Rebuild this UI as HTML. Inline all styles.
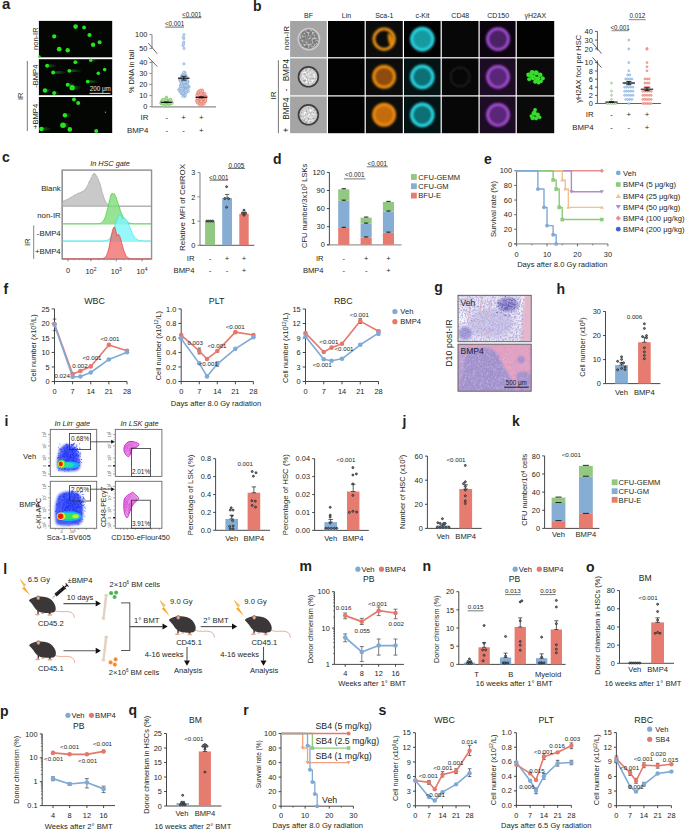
<!DOCTYPE html>
<html><head><meta charset="utf-8"><title>Figure</title>
<style>html,body{margin:0;padding:0;background:#fff;width:685px;height:830px;overflow:hidden}svg{display:block}text{font-family:"Liberation Sans",sans-serif}</style>
</head><body>
<svg width="685" height="830" viewBox="0 0 685 830" font-family="&quot;Liberation Sans&quot;, sans-serif">
<rect x="0" y="0" width="685" height="830" fill="#fff"/>
<defs>
<filter id="glow" x="-50%" y="-50%" width="200%" height="200%"><feGaussianBlur stdDeviation="0.6"/></filter>
<filter id="soft" x="-30%" y="-30%" width="160%" height="160%"><feGaussianBlur stdDeviation="0.55"/></filter>
<filter id="soft2" x="-30%" y="-30%" width="160%" height="160%"><feGaussianBlur stdDeviation="0.9"/></filter>
<filter id="speckA" x="0" y="0" width="100%" height="100%"><feTurbulence type="fractalNoise" baseFrequency="0.55" numOctaves="2" seed="5"/><feColorMatrix type="matrix" values="0 0 0 0 0.47  0 0 0 0 0.44  0 0 0 0 0.78  5 0 0 0 -2.25"/></filter>
<filter id="speckB" x="0" y="0" width="100%" height="100%"><feTurbulence type="fractalNoise" baseFrequency="0.5" numOctaves="2" seed="9"/><feColorMatrix type="matrix" values="0 0 0 0 0.93  0 0 0 0 0.88  0 0 0 0 0.97  5 0 0 0 -2.6"/></filter>
<filter id="speckC" x="0" y="0" width="100%" height="100%"><feTurbulence type="fractalNoise" baseFrequency="0.45" numOctaves="2" seed="13"/><feColorMatrix type="matrix" values="0 0 0 0 0.50  0 0 0 0 0.42  0 0 0 0 0.76  5 0 0 0 -2.4"/></filter>
<filter id="texDk" x="0" y="0" width="100%" height="100%"><feTurbulence type="fractalNoise" baseFrequency="0.5" numOctaves="2" seed="2" result="n"/><feColorMatrix in="n" type="matrix" values="0 0 0 0 0.18  0 0 0 0 0.18  0 0 0 0 0.18  5 0 0 0 -2.3" result="dk"/><feComposite in="dk" in2="SourceGraphic" operator="in"/><feGaussianBlur stdDeviation="0.35"/></filter>
<filter id="texLt" x="0" y="0" width="100%" height="100%"><feTurbulence type="fractalNoise" baseFrequency="0.5" numOctaves="2" seed="7" result="n"/><feColorMatrix in="n" type="matrix" values="0 0 0 0 0.95  0 0 0 0 0.95  0 0 0 0 0.95  5 0 0 0 -2.4" result="lt"/><feComposite in="lt" in2="SourceGraphic" operator="in"/><feGaussianBlur stdDeviation="0.35"/></filter>
<linearGradient id="tailg" x1="0" y1="0" x2="1" y2="0"><stop offset="0" stop-color="#2a9a26" stop-opacity="0.7"/><stop offset="1" stop-color="#2a9a26" stop-opacity="0"/></linearGradient>
<filter id="blur1" x="-30%" y="-30%" width="160%" height="160%"><feGaussianBlur stdDeviation="1.0"/></filter>
<filter id="blur2" x="-30%" y="-30%" width="160%" height="160%"><feGaussianBlur stdDeviation="1.6"/></filter>
</defs>
<text x="2.00" y="8.90" font-size="15" text-anchor="start" fill="#231f20" font-weight="bold">a</text>
<rect x="38.90" y="20.90" width="73.30" height="36.40" fill="#030603" />
<rect x="38.90" y="59.20" width="73.30" height="36.00" fill="#030603" />
<rect x="38.90" y="97.00" width="73.30" height="36.00" fill="#030603" />
<g filter="url(#glow)">
<circle cx="75.60" cy="26.60" r="2.30" fill="#22e61e" />
<circle cx="84.10" cy="27.50" r="1.90" fill="#22e61e" />
<circle cx="54.20" cy="36.40" r="2.10" fill="#22e61e" />
<circle cx="89.50" cy="35.00" r="2.10" fill="#22e61e" />
<circle cx="99.60" cy="42.20" r="2.00" fill="#22e61e" />
<circle cx="93.10" cy="44.80" r="2.20" fill="#22e61e" />
<circle cx="59.20" cy="49.20" r="2.40" fill="#22e61e" />
<circle cx="67.70" cy="50.20" r="2.20" fill="#22e61e" />
<circle cx="39.50" cy="56.50" r="1.20" fill="#22e61e" />
<ellipse cx="51.60" cy="65.80" rx="5.50" ry="1.50" fill="url(#tailg)"/>
<circle cx="47.10" cy="65.80" r="2.00" fill="#22e61e" />
<ellipse cx="77.55" cy="62.20" rx="3.25" ry="1.42" fill="url(#tailg)"/>
<circle cx="75.30" cy="62.20" r="1.90" fill="#22e61e" />
<ellipse cx="93.70" cy="60.30" rx="4.00" ry="1.27" fill="url(#tailg)"/>
<circle cx="90.70" cy="60.30" r="1.70" fill="#22e61e" />
<ellipse cx="59.85" cy="72.50" rx="7.75" ry="1.50" fill="url(#tailg)"/>
<circle cx="53.10" cy="72.50" r="2.00" fill="#22e61e" />
<ellipse cx="75.30" cy="70.80" rx="7.00" ry="1.42" fill="url(#tailg)"/>
<circle cx="69.30" cy="70.80" r="1.90" fill="#22e61e" />
<circle cx="98.30" cy="73.20" r="1.80" fill="#22e61e" />
<circle cx="104.70" cy="69.60" r="1.80" fill="#22e61e" />
<ellipse cx="92.95" cy="81.60" rx="6.25" ry="1.42" fill="url(#tailg)"/>
<circle cx="87.70" cy="81.60" r="1.90" fill="#22e61e" />
<ellipse cx="71.45" cy="84.80" rx="4.75" ry="1.50" fill="url(#tailg)"/>
<circle cx="67.70" cy="84.80" r="2.00" fill="#22e61e" />
<ellipse cx="76.60" cy="87.70" rx="5.50" ry="1.95" fill="url(#tailg)"/>
<circle cx="72.10" cy="87.70" r="2.60" fill="#22e61e" />
<ellipse cx="48.00" cy="90.50" rx="4.00" ry="1.65" fill="url(#tailg)"/>
<circle cx="45.00" cy="90.50" r="2.20" fill="#22e61e" />
<ellipse cx="56.35" cy="93.00" rx="3.25" ry="1.50" fill="url(#tailg)"/>
<circle cx="54.10" cy="93.00" r="2.00" fill="#22e61e" />
<circle cx="74.00" cy="99.60" r="2.00" fill="#22e61e" />
<circle cx="78.20" cy="103.00" r="2.00" fill="#22e61e" />
<ellipse cx="67.90" cy="115.20" rx="4.00" ry="1.65" fill="url(#tailg)"/>
<circle cx="64.90" cy="115.20" r="2.20" fill="#22e61e" />
<ellipse cx="66.00" cy="125.20" rx="4.00" ry="2.10" fill="url(#tailg)"/>
<circle cx="63.00" cy="125.20" r="2.80" fill="#22e61e" />
<circle cx="69.80" cy="129.40" r="2.30" fill="#22e61e" />
<ellipse cx="45.90" cy="129.00" rx="5.50" ry="1.72" fill="url(#tailg)"/>
<circle cx="41.40" cy="129.00" r="2.30" fill="#22e61e" />
<circle cx="96.20" cy="130.90" r="2.00" fill="#22e61e" />
<circle cx="105.50" cy="112.30" r="0.70" fill="#22e61e" />
</g>
<text x="100.30" y="90.84" font-size="6.3" text-anchor="middle" fill="#e8e8e8">200 μm</text>
<line x1="89.50" y1="93.40" x2="110.50" y2="93.40" stroke="#f0f0f0" stroke-width="0.9" />
<text x="34.90" y="41.36" font-size="7.5" text-anchor="middle" fill="#231f20" transform="rotate(-90 34.90 38.70)">non-IR</text>
<text x="34.90" y="78.90" font-size="7.6" text-anchor="middle" fill="#231f20" transform="rotate(-90 34.90 76.20)">-BMP4</text>
<text x="34.90" y="119.10" font-size="7.6" text-anchor="middle" fill="#231f20" transform="rotate(-90 34.90 116.40)">+BMP4</text>
<text x="20.00" y="98.96" font-size="7.5" text-anchor="middle" fill="#231f20" transform="rotate(-90 20.00 96.30)">IR</text>
<line x1="27.30" y1="60.90" x2="27.30" y2="131.00" stroke="#555" stroke-width="0.8" />
<line x1="152.00" y1="34.60" x2="152.00" y2="48.50" stroke="#8c8c8c" stroke-width="1.1" />
<line x1="152.00" y1="61.00" x2="152.00" y2="106.90" stroke="#8c8c8c" stroke-width="1.1" />
<line x1="151.50" y1="106.90" x2="216.10" y2="106.90" stroke="#8c8c8c" stroke-width="1.1" />
<line x1="149.40" y1="106.70" x2="152.00" y2="106.70" stroke="#8c8c8c" stroke-width="1.0" />
<text x="147.40" y="109.33" font-size="7.4" text-anchor="end" fill="#231f20">0</text>
<line x1="149.40" y1="95.60" x2="152.00" y2="95.60" stroke="#8c8c8c" stroke-width="1.0" />
<text x="147.40" y="98.23" font-size="7.4" text-anchor="end" fill="#231f20">10</text>
<line x1="149.40" y1="84.30" x2="152.00" y2="84.30" stroke="#8c8c8c" stroke-width="1.0" />
<text x="147.40" y="86.93" font-size="7.4" text-anchor="end" fill="#231f20">20</text>
<line x1="149.40" y1="73.40" x2="152.00" y2="73.40" stroke="#8c8c8c" stroke-width="1.0" />
<text x="147.40" y="76.03" font-size="7.4" text-anchor="end" fill="#231f20">30</text>
<line x1="149.40" y1="62.40" x2="152.00" y2="62.40" stroke="#8c8c8c" stroke-width="1.0" />
<text x="147.40" y="65.03" font-size="7.4" text-anchor="end" fill="#231f20">40</text>
<line x1="149.40" y1="48.60" x2="152.00" y2="48.60" stroke="#8c8c8c" stroke-width="1.0" />
<text x="147.40" y="51.23" font-size="7.4" text-anchor="end" fill="#231f20">50</text>
<line x1="149.40" y1="34.60" x2="152.00" y2="34.60" stroke="#8c8c8c" stroke-width="1.0" />
<text x="147.40" y="37.23" font-size="7.4" text-anchor="end" fill="#231f20">100</text>
<line x1="148.30" y1="43.20" x2="157.30" y2="53.80" stroke="#444" stroke-width="0.8" />
<line x1="148.30" y1="57.30" x2="157.30" y2="66.60" stroke="#444" stroke-width="0.8" />
<text x="131.00" y="74.13" font-size="7.4" text-anchor="middle" fill="#231f20" transform="rotate(-90 131.00 71.50)">% DNA in tail</text>
<circle cx="166.99" cy="103.86" r="1.20" fill="#c4e6b8" stroke="#7cc36a" stroke-width="0.55" />
<circle cx="167.73" cy="103.15" r="1.20" fill="#c4e6b8" stroke="#7cc36a" stroke-width="0.55" />
<circle cx="161.99" cy="101.67" r="1.20" fill="#c4e6b8" stroke="#7cc36a" stroke-width="0.55" />
<circle cx="168.31" cy="106.01" r="1.20" fill="#c4e6b8" stroke="#7cc36a" stroke-width="0.55" />
<circle cx="163.51" cy="103.73" r="1.20" fill="#c4e6b8" stroke="#7cc36a" stroke-width="0.55" />
<circle cx="166.40" cy="97.20" r="1.20" fill="#c4e6b8" stroke="#7cc36a" stroke-width="0.55" />
<circle cx="166.30" cy="99.97" r="1.20" fill="#c4e6b8" stroke="#7cc36a" stroke-width="0.55" />
<circle cx="162.90" cy="101.58" r="1.20" fill="#c4e6b8" stroke="#7cc36a" stroke-width="0.55" />
<circle cx="170.30" cy="101.60" r="1.20" fill="#c4e6b8" stroke="#7cc36a" stroke-width="0.55" />
<circle cx="169.16" cy="102.31" r="1.20" fill="#c4e6b8" stroke="#7cc36a" stroke-width="0.55" />
<circle cx="162.12" cy="101.35" r="1.20" fill="#c4e6b8" stroke="#7cc36a" stroke-width="0.55" />
<circle cx="167.35" cy="100.68" r="1.20" fill="#c4e6b8" stroke="#7cc36a" stroke-width="0.55" />
<circle cx="161.01" cy="103.50" r="1.20" fill="#c4e6b8" stroke="#7cc36a" stroke-width="0.55" />
<circle cx="166.28" cy="99.66" r="1.20" fill="#c4e6b8" stroke="#7cc36a" stroke-width="0.55" />
<circle cx="170.16" cy="101.00" r="1.20" fill="#c4e6b8" stroke="#7cc36a" stroke-width="0.55" />
<circle cx="170.59" cy="101.04" r="1.20" fill="#c4e6b8" stroke="#7cc36a" stroke-width="0.55" />
<circle cx="170.02" cy="103.02" r="1.20" fill="#c4e6b8" stroke="#7cc36a" stroke-width="0.55" />
<circle cx="171.49" cy="102.76" r="1.20" fill="#c4e6b8" stroke="#7cc36a" stroke-width="0.55" />
<circle cx="163.35" cy="99.51" r="1.20" fill="#c4e6b8" stroke="#7cc36a" stroke-width="0.55" />
<circle cx="163.79" cy="104.55" r="1.20" fill="#c4e6b8" stroke="#7cc36a" stroke-width="0.55" />
<circle cx="166.13" cy="98.18" r="1.20" fill="#c4e6b8" stroke="#7cc36a" stroke-width="0.55" />
<circle cx="164.43" cy="101.66" r="1.20" fill="#c4e6b8" stroke="#7cc36a" stroke-width="0.55" />
<circle cx="165.23" cy="102.40" r="1.20" fill="#c4e6b8" stroke="#7cc36a" stroke-width="0.55" />
<circle cx="167.51" cy="103.25" r="1.20" fill="#c4e6b8" stroke="#7cc36a" stroke-width="0.55" />
<circle cx="170.81" cy="101.94" r="1.20" fill="#c4e6b8" stroke="#7cc36a" stroke-width="0.55" />
<circle cx="170.78" cy="101.28" r="1.20" fill="#c4e6b8" stroke="#7cc36a" stroke-width="0.55" />
<circle cx="170.51" cy="99.76" r="1.20" fill="#c4e6b8" stroke="#7cc36a" stroke-width="0.55" />
<circle cx="163.11" cy="101.35" r="1.20" fill="#c4e6b8" stroke="#7cc36a" stroke-width="0.55" />
<circle cx="170.27" cy="99.72" r="1.20" fill="#c4e6b8" stroke="#7cc36a" stroke-width="0.55" />
<circle cx="167.01" cy="99.19" r="1.20" fill="#c4e6b8" stroke="#7cc36a" stroke-width="0.55" />
<circle cx="163.69" cy="101.04" r="1.20" fill="#c4e6b8" stroke="#7cc36a" stroke-width="0.55" />
<circle cx="167.13" cy="100.02" r="1.20" fill="#c4e6b8" stroke="#7cc36a" stroke-width="0.55" />
<circle cx="161.46" cy="103.59" r="1.20" fill="#c4e6b8" stroke="#7cc36a" stroke-width="0.55" />
<circle cx="170.52" cy="99.79" r="1.20" fill="#c4e6b8" stroke="#7cc36a" stroke-width="0.55" />
<circle cx="169.09" cy="104.96" r="1.20" fill="#c4e6b8" stroke="#7cc36a" stroke-width="0.55" />
<circle cx="162.44" cy="102.94" r="1.20" fill="#c4e6b8" stroke="#7cc36a" stroke-width="0.55" />
<circle cx="169.63" cy="103.54" r="1.20" fill="#c4e6b8" stroke="#7cc36a" stroke-width="0.55" />
<circle cx="162.88" cy="99.58" r="1.20" fill="#c4e6b8" stroke="#7cc36a" stroke-width="0.55" />
<circle cx="161.74" cy="101.74" r="1.20" fill="#c4e6b8" stroke="#7cc36a" stroke-width="0.55" />
<circle cx="164.86" cy="101.00" r="1.20" fill="#c4e6b8" stroke="#7cc36a" stroke-width="0.55" />
<circle cx="170.25" cy="99.49" r="1.20" fill="#c4e6b8" stroke="#7cc36a" stroke-width="0.55" />
<circle cx="172.05" cy="102.41" r="1.20" fill="#c4e6b8" stroke="#7cc36a" stroke-width="0.55" />
<circle cx="161.52" cy="103.46" r="1.20" fill="#c4e6b8" stroke="#7cc36a" stroke-width="0.55" />
<circle cx="161.55" cy="101.84" r="1.20" fill="#c4e6b8" stroke="#7cc36a" stroke-width="0.55" />
<circle cx="165.53" cy="104.11" r="1.20" fill="#c4e6b8" stroke="#7cc36a" stroke-width="0.55" />
<circle cx="162.89" cy="101.77" r="1.20" fill="#c4e6b8" stroke="#7cc36a" stroke-width="0.55" />
<circle cx="169.14" cy="105.49" r="1.20" fill="#c4e6b8" stroke="#7cc36a" stroke-width="0.55" />
<circle cx="171.92" cy="103.44" r="1.20" fill="#c4e6b8" stroke="#7cc36a" stroke-width="0.55" />
<circle cx="165.58" cy="99.29" r="1.20" fill="#c4e6b8" stroke="#7cc36a" stroke-width="0.55" />
<circle cx="166.73" cy="102.67" r="1.20" fill="#c4e6b8" stroke="#7cc36a" stroke-width="0.55" />
<circle cx="167.48" cy="101.54" r="1.20" fill="#c4e6b8" stroke="#7cc36a" stroke-width="0.55" />
<circle cx="167.80" cy="102.09" r="1.20" fill="#c4e6b8" stroke="#7cc36a" stroke-width="0.55" />
<circle cx="166.55" cy="98.66" r="1.20" fill="#c4e6b8" stroke="#7cc36a" stroke-width="0.55" />
<circle cx="169.04" cy="102.83" r="1.20" fill="#c4e6b8" stroke="#7cc36a" stroke-width="0.55" />
<circle cx="164.31" cy="103.86" r="1.20" fill="#c4e6b8" stroke="#7cc36a" stroke-width="0.55" />
<circle cx="166.61" cy="97.88" r="1.20" fill="#c4e6b8" stroke="#7cc36a" stroke-width="0.55" />
<circle cx="161.18" cy="102.16" r="1.20" fill="#c4e6b8" stroke="#7cc36a" stroke-width="0.55" />
<circle cx="167.43" cy="102.92" r="1.20" fill="#c4e6b8" stroke="#7cc36a" stroke-width="0.55" />
<circle cx="167.19" cy="105.86" r="1.20" fill="#c4e6b8" stroke="#7cc36a" stroke-width="0.55" />
<circle cx="161.95" cy="101.62" r="1.20" fill="#c4e6b8" stroke="#7cc36a" stroke-width="0.55" />
<circle cx="166.15" cy="101.66" r="1.20" fill="#c4e6b8" stroke="#7cc36a" stroke-width="0.55" />
<circle cx="165.03" cy="101.29" r="1.20" fill="#c4e6b8" stroke="#7cc36a" stroke-width="0.55" />
<circle cx="168.83" cy="101.09" r="1.20" fill="#c4e6b8" stroke="#7cc36a" stroke-width="0.55" />
<circle cx="163.82" cy="105.82" r="1.20" fill="#c4e6b8" stroke="#7cc36a" stroke-width="0.55" />
<circle cx="171.14" cy="101.32" r="1.20" fill="#c4e6b8" stroke="#7cc36a" stroke-width="0.55" />
<circle cx="166.01" cy="103.78" r="1.20" fill="#c4e6b8" stroke="#7cc36a" stroke-width="0.55" />
<circle cx="164.59" cy="101.88" r="1.20" fill="#c4e6b8" stroke="#7cc36a" stroke-width="0.55" />
<circle cx="164.28" cy="103.18" r="1.20" fill="#c4e6b8" stroke="#7cc36a" stroke-width="0.55" />
<circle cx="167.63" cy="103.16" r="1.20" fill="#c4e6b8" stroke="#7cc36a" stroke-width="0.55" />
<circle cx="165.06" cy="103.51" r="1.20" fill="#c4e6b8" stroke="#7cc36a" stroke-width="0.55" />
<circle cx="162.16" cy="100.57" r="1.20" fill="#c4e6b8" stroke="#7cc36a" stroke-width="0.55" />
<circle cx="169.03" cy="102.03" r="1.20" fill="#c4e6b8" stroke="#7cc36a" stroke-width="0.55" />
<circle cx="163.23" cy="103.46" r="1.20" fill="#c4e6b8" stroke="#7cc36a" stroke-width="0.55" />
<circle cx="164.19" cy="100.29" r="1.20" fill="#c4e6b8" stroke="#7cc36a" stroke-width="0.55" />
<circle cx="165.83" cy="104.18" r="1.20" fill="#c4e6b8" stroke="#7cc36a" stroke-width="0.55" />
<circle cx="162.58" cy="101.16" r="1.20" fill="#c4e6b8" stroke="#7cc36a" stroke-width="0.55" />
<circle cx="164.52" cy="103.40" r="1.20" fill="#c4e6b8" stroke="#7cc36a" stroke-width="0.55" />
<circle cx="165.98" cy="100.00" r="1.20" fill="#c4e6b8" stroke="#7cc36a" stroke-width="0.55" />
<circle cx="163.79" cy="99.77" r="1.20" fill="#c4e6b8" stroke="#7cc36a" stroke-width="0.55" />
<circle cx="168.30" cy="103.32" r="1.20" fill="#c4e6b8" stroke="#7cc36a" stroke-width="0.55" />
<circle cx="183.51" cy="76.68" r="1.20" fill="#cbdcf0" stroke="#7ba7d6" stroke-width="0.55" />
<circle cx="179.79" cy="89.83" r="1.20" fill="#cbdcf0" stroke="#7ba7d6" stroke-width="0.55" />
<circle cx="180.62" cy="85.02" r="1.20" fill="#cbdcf0" stroke="#7ba7d6" stroke-width="0.55" />
<circle cx="186.24" cy="79.10" r="1.20" fill="#cbdcf0" stroke="#7ba7d6" stroke-width="0.55" />
<circle cx="181.64" cy="90.57" r="1.20" fill="#cbdcf0" stroke="#7ba7d6" stroke-width="0.55" />
<circle cx="184.82" cy="79.09" r="1.20" fill="#cbdcf0" stroke="#7ba7d6" stroke-width="0.55" />
<circle cx="182.68" cy="79.11" r="1.20" fill="#cbdcf0" stroke="#7ba7d6" stroke-width="0.55" />
<circle cx="182.03" cy="91.67" r="1.20" fill="#cbdcf0" stroke="#7ba7d6" stroke-width="0.55" />
<circle cx="182.11" cy="79.45" r="1.20" fill="#cbdcf0" stroke="#7ba7d6" stroke-width="0.55" />
<circle cx="182.83" cy="87.98" r="1.20" fill="#cbdcf0" stroke="#7ba7d6" stroke-width="0.55" />
<circle cx="182.79" cy="86.85" r="1.20" fill="#cbdcf0" stroke="#7ba7d6" stroke-width="0.55" />
<circle cx="182.06" cy="75.30" r="1.20" fill="#cbdcf0" stroke="#7ba7d6" stroke-width="0.55" />
<circle cx="184.86" cy="96.35" r="1.20" fill="#cbdcf0" stroke="#7ba7d6" stroke-width="0.55" />
<circle cx="186.70" cy="76.86" r="1.20" fill="#cbdcf0" stroke="#7ba7d6" stroke-width="0.55" />
<circle cx="188.78" cy="86.62" r="1.20" fill="#cbdcf0" stroke="#7ba7d6" stroke-width="0.55" />
<circle cx="182.45" cy="75.00" r="1.20" fill="#cbdcf0" stroke="#7ba7d6" stroke-width="0.55" />
<circle cx="186.51" cy="80.66" r="1.20" fill="#cbdcf0" stroke="#7ba7d6" stroke-width="0.55" />
<circle cx="183.97" cy="82.49" r="1.20" fill="#cbdcf0" stroke="#7ba7d6" stroke-width="0.55" />
<circle cx="181.94" cy="88.82" r="1.20" fill="#cbdcf0" stroke="#7ba7d6" stroke-width="0.55" />
<circle cx="179.21" cy="89.79" r="1.20" fill="#cbdcf0" stroke="#7ba7d6" stroke-width="0.55" />
<circle cx="181.72" cy="83.95" r="1.20" fill="#cbdcf0" stroke="#7ba7d6" stroke-width="0.55" />
<circle cx="180.55" cy="79.00" r="1.20" fill="#cbdcf0" stroke="#7ba7d6" stroke-width="0.55" />
<circle cx="184.86" cy="75.99" r="1.20" fill="#cbdcf0" stroke="#7ba7d6" stroke-width="0.55" />
<circle cx="185.77" cy="75.16" r="1.20" fill="#cbdcf0" stroke="#7ba7d6" stroke-width="0.55" />
<circle cx="184.23" cy="76.14" r="1.20" fill="#cbdcf0" stroke="#7ba7d6" stroke-width="0.55" />
<circle cx="184.63" cy="95.60" r="1.20" fill="#cbdcf0" stroke="#7ba7d6" stroke-width="0.55" />
<circle cx="181.90" cy="90.79" r="1.20" fill="#cbdcf0" stroke="#7ba7d6" stroke-width="0.55" />
<circle cx="184.02" cy="82.49" r="1.20" fill="#cbdcf0" stroke="#7ba7d6" stroke-width="0.55" />
<circle cx="188.73" cy="86.95" r="1.20" fill="#cbdcf0" stroke="#7ba7d6" stroke-width="0.55" />
<circle cx="182.29" cy="83.51" r="1.20" fill="#cbdcf0" stroke="#7ba7d6" stroke-width="0.55" />
<circle cx="187.81" cy="89.38" r="1.20" fill="#cbdcf0" stroke="#7ba7d6" stroke-width="0.55" />
<circle cx="186.83" cy="85.92" r="1.20" fill="#cbdcf0" stroke="#7ba7d6" stroke-width="0.55" />
<circle cx="180.26" cy="87.89" r="1.20" fill="#cbdcf0" stroke="#7ba7d6" stroke-width="0.55" />
<circle cx="187.04" cy="84.94" r="1.20" fill="#cbdcf0" stroke="#7ba7d6" stroke-width="0.55" />
<circle cx="186.57" cy="90.80" r="1.20" fill="#cbdcf0" stroke="#7ba7d6" stroke-width="0.55" />
<circle cx="185.34" cy="75.25" r="1.20" fill="#cbdcf0" stroke="#7ba7d6" stroke-width="0.55" />
<circle cx="180.38" cy="78.63" r="1.20" fill="#cbdcf0" stroke="#7ba7d6" stroke-width="0.55" />
<circle cx="187.19" cy="83.19" r="1.20" fill="#cbdcf0" stroke="#7ba7d6" stroke-width="0.55" />
<circle cx="182.47" cy="93.86" r="1.20" fill="#cbdcf0" stroke="#7ba7d6" stroke-width="0.55" />
<circle cx="184.11" cy="89.13" r="1.20" fill="#cbdcf0" stroke="#7ba7d6" stroke-width="0.55" />
<circle cx="183.50" cy="86.80" r="1.20" fill="#cbdcf0" stroke="#7ba7d6" stroke-width="0.55" />
<circle cx="180.00" cy="79.90" r="1.20" fill="#cbdcf0" stroke="#7ba7d6" stroke-width="0.55" />
<circle cx="181.55" cy="93.69" r="1.20" fill="#cbdcf0" stroke="#7ba7d6" stroke-width="0.55" />
<circle cx="180.19" cy="91.78" r="1.20" fill="#cbdcf0" stroke="#7ba7d6" stroke-width="0.55" />
<circle cx="184.93" cy="72.35" r="1.20" fill="#cbdcf0" stroke="#7ba7d6" stroke-width="0.55" />
<circle cx="183.82" cy="92.74" r="1.20" fill="#cbdcf0" stroke="#7ba7d6" stroke-width="0.55" />
<circle cx="181.59" cy="88.42" r="1.20" fill="#cbdcf0" stroke="#7ba7d6" stroke-width="0.55" />
<circle cx="185.52" cy="87.90" r="1.20" fill="#cbdcf0" stroke="#7ba7d6" stroke-width="0.55" />
<circle cx="182.44" cy="83.99" r="1.20" fill="#cbdcf0" stroke="#7ba7d6" stroke-width="0.55" />
<circle cx="182.10" cy="90.43" r="1.20" fill="#cbdcf0" stroke="#7ba7d6" stroke-width="0.55" />
<circle cx="184.26" cy="91.80" r="1.20" fill="#cbdcf0" stroke="#7ba7d6" stroke-width="0.55" />
<circle cx="182.79" cy="81.34" r="1.20" fill="#cbdcf0" stroke="#7ba7d6" stroke-width="0.55" />
<circle cx="181.55" cy="92.91" r="1.20" fill="#cbdcf0" stroke="#7ba7d6" stroke-width="0.55" />
<circle cx="185.00" cy="87.57" r="1.20" fill="#cbdcf0" stroke="#7ba7d6" stroke-width="0.55" />
<circle cx="182.90" cy="79.74" r="1.20" fill="#cbdcf0" stroke="#7ba7d6" stroke-width="0.55" />
<circle cx="184.70" cy="79.25" r="1.20" fill="#cbdcf0" stroke="#7ba7d6" stroke-width="0.55" />
<circle cx="182.39" cy="86.66" r="1.20" fill="#cbdcf0" stroke="#7ba7d6" stroke-width="0.55" />
<circle cx="185.94" cy="85.60" r="1.20" fill="#cbdcf0" stroke="#7ba7d6" stroke-width="0.55" />
<circle cx="185.97" cy="86.84" r="1.20" fill="#cbdcf0" stroke="#7ba7d6" stroke-width="0.55" />
<circle cx="181.03" cy="86.19" r="1.20" fill="#cbdcf0" stroke="#7ba7d6" stroke-width="0.55" />
<circle cx="185.80" cy="84.92" r="1.20" fill="#cbdcf0" stroke="#7ba7d6" stroke-width="0.55" />
<circle cx="183.30" cy="93.15" r="1.20" fill="#cbdcf0" stroke="#7ba7d6" stroke-width="0.55" />
<circle cx="188.03" cy="86.75" r="1.20" fill="#cbdcf0" stroke="#7ba7d6" stroke-width="0.55" />
<circle cx="183.22" cy="74.58" r="1.20" fill="#cbdcf0" stroke="#7ba7d6" stroke-width="0.55" />
<circle cx="185.42" cy="76.21" r="1.20" fill="#cbdcf0" stroke="#7ba7d6" stroke-width="0.55" />
<circle cx="183.40" cy="89.23" r="1.20" fill="#cbdcf0" stroke="#7ba7d6" stroke-width="0.55" />
<circle cx="186.41" cy="91.81" r="1.20" fill="#cbdcf0" stroke="#7ba7d6" stroke-width="0.55" />
<circle cx="187.29" cy="82.50" r="1.20" fill="#cbdcf0" stroke="#7ba7d6" stroke-width="0.55" />
<circle cx="185.04" cy="79.48" r="1.20" fill="#cbdcf0" stroke="#7ba7d6" stroke-width="0.55" />
<circle cx="184.32" cy="80.94" r="1.20" fill="#cbdcf0" stroke="#7ba7d6" stroke-width="0.55" />
<circle cx="184.48" cy="92.29" r="1.20" fill="#cbdcf0" stroke="#7ba7d6" stroke-width="0.55" />
<circle cx="182.94" cy="96.32" r="1.20" fill="#cbdcf0" stroke="#7ba7d6" stroke-width="0.55" />
<circle cx="180.31" cy="79.95" r="1.20" fill="#cbdcf0" stroke="#7ba7d6" stroke-width="0.55" />
<circle cx="180.84" cy="92.58" r="1.20" fill="#cbdcf0" stroke="#7ba7d6" stroke-width="0.55" />
<circle cx="181.89" cy="76.84" r="1.20" fill="#cbdcf0" stroke="#7ba7d6" stroke-width="0.55" />
<circle cx="185.26" cy="94.98" r="1.20" fill="#cbdcf0" stroke="#7ba7d6" stroke-width="0.55" />
<circle cx="186.64" cy="91.86" r="1.20" fill="#cbdcf0" stroke="#7ba7d6" stroke-width="0.55" />
<circle cx="186.79" cy="82.27" r="1.20" fill="#cbdcf0" stroke="#7ba7d6" stroke-width="0.55" />
<circle cx="184.13" cy="73.77" r="1.20" fill="#cbdcf0" stroke="#7ba7d6" stroke-width="0.55" />
<circle cx="180.41" cy="79.32" r="1.20" fill="#cbdcf0" stroke="#7ba7d6" stroke-width="0.55" />
<circle cx="183.89" cy="80.13" r="1.20" fill="#cbdcf0" stroke="#7ba7d6" stroke-width="0.55" />
<circle cx="180.49" cy="81.36" r="1.20" fill="#cbdcf0" stroke="#7ba7d6" stroke-width="0.55" />
<circle cx="187.28" cy="80.58" r="1.20" fill="#cbdcf0" stroke="#7ba7d6" stroke-width="0.55" />
<circle cx="182.69" cy="93.48" r="1.20" fill="#cbdcf0" stroke="#7ba7d6" stroke-width="0.55" />
<circle cx="187.07" cy="84.41" r="1.20" fill="#cbdcf0" stroke="#7ba7d6" stroke-width="0.55" />
<circle cx="180.31" cy="89.55" r="1.20" fill="#cbdcf0" stroke="#7ba7d6" stroke-width="0.55" />
<circle cx="185.08" cy="89.42" r="1.20" fill="#cbdcf0" stroke="#7ba7d6" stroke-width="0.55" />
<circle cx="182.96" cy="80.47" r="1.20" fill="#cbdcf0" stroke="#7ba7d6" stroke-width="0.55" />
<circle cx="182.60" cy="87.66" r="1.20" fill="#cbdcf0" stroke="#7ba7d6" stroke-width="0.55" />
<circle cx="182.84" cy="87.92" r="1.20" fill="#cbdcf0" stroke="#7ba7d6" stroke-width="0.55" />
<circle cx="183.80" cy="92.81" r="1.20" fill="#cbdcf0" stroke="#7ba7d6" stroke-width="0.55" />
<circle cx="183.51" cy="72.47" r="1.20" fill="#cbdcf0" stroke="#7ba7d6" stroke-width="0.55" />
<circle cx="181.08" cy="80.61" r="1.20" fill="#cbdcf0" stroke="#7ba7d6" stroke-width="0.55" />
<circle cx="186.03" cy="81.90" r="1.20" fill="#cbdcf0" stroke="#7ba7d6" stroke-width="0.55" />
<circle cx="183.95" cy="82.26" r="1.20" fill="#cbdcf0" stroke="#7ba7d6" stroke-width="0.55" />
<circle cx="185.33" cy="85.81" r="1.20" fill="#cbdcf0" stroke="#7ba7d6" stroke-width="0.55" />
<circle cx="181.84" cy="76.23" r="1.20" fill="#cbdcf0" stroke="#7ba7d6" stroke-width="0.55" />
<circle cx="185.67" cy="92.48" r="1.20" fill="#cbdcf0" stroke="#7ba7d6" stroke-width="0.55" />
<circle cx="183.89" cy="75.47" r="1.20" fill="#cbdcf0" stroke="#7ba7d6" stroke-width="0.55" />
<circle cx="186.21" cy="86.48" r="1.20" fill="#cbdcf0" stroke="#7ba7d6" stroke-width="0.55" />
<circle cx="181.52" cy="90.52" r="1.20" fill="#cbdcf0" stroke="#7ba7d6" stroke-width="0.55" />
<circle cx="184.66" cy="90.28" r="1.20" fill="#cbdcf0" stroke="#7ba7d6" stroke-width="0.55" />
<circle cx="180.60" cy="88.44" r="1.20" fill="#cbdcf0" stroke="#7ba7d6" stroke-width="0.55" />
<circle cx="187.74" cy="81.89" r="1.20" fill="#cbdcf0" stroke="#7ba7d6" stroke-width="0.55" />
<circle cx="186.23" cy="88.72" r="1.20" fill="#cbdcf0" stroke="#7ba7d6" stroke-width="0.55" />
<circle cx="187.77" cy="86.95" r="1.20" fill="#cbdcf0" stroke="#7ba7d6" stroke-width="0.55" />
<circle cx="181.52" cy="84.03" r="1.20" fill="#cbdcf0" stroke="#7ba7d6" stroke-width="0.55" />
<circle cx="178.82" cy="89.96" r="1.20" fill="#cbdcf0" stroke="#7ba7d6" stroke-width="0.55" />
<circle cx="182.54" cy="85.88" r="1.20" fill="#cbdcf0" stroke="#7ba7d6" stroke-width="0.55" />
<circle cx="182.47" cy="90.78" r="1.20" fill="#cbdcf0" stroke="#7ba7d6" stroke-width="0.55" />
<circle cx="187.06" cy="88.34" r="1.20" fill="#cbdcf0" stroke="#7ba7d6" stroke-width="0.55" />
<circle cx="188.15" cy="91.36" r="1.20" fill="#cbdcf0" stroke="#7ba7d6" stroke-width="0.55" />
<circle cx="184.86" cy="85.88" r="1.20" fill="#cbdcf0" stroke="#7ba7d6" stroke-width="0.55" />
<circle cx="187.41" cy="86.07" r="1.20" fill="#cbdcf0" stroke="#7ba7d6" stroke-width="0.55" />
<circle cx="184.20" cy="78.68" r="1.20" fill="#cbdcf0" stroke="#7ba7d6" stroke-width="0.55" />
<circle cx="186.16" cy="85.85" r="1.20" fill="#cbdcf0" stroke="#7ba7d6" stroke-width="0.55" />
<circle cx="183.16" cy="77.63" r="1.20" fill="#cbdcf0" stroke="#7ba7d6" stroke-width="0.55" />
<circle cx="187.57" cy="80.94" r="1.20" fill="#cbdcf0" stroke="#7ba7d6" stroke-width="0.55" />
<circle cx="180.88" cy="86.08" r="1.20" fill="#cbdcf0" stroke="#7ba7d6" stroke-width="0.55" />
<circle cx="186.14" cy="89.67" r="1.20" fill="#cbdcf0" stroke="#7ba7d6" stroke-width="0.55" />
<circle cx="187.87" cy="82.23" r="1.20" fill="#cbdcf0" stroke="#7ba7d6" stroke-width="0.55" />
<circle cx="182.14" cy="77.72" r="1.20" fill="#cbdcf0" stroke="#7ba7d6" stroke-width="0.55" />
<circle cx="181.41" cy="90.46" r="1.20" fill="#cbdcf0" stroke="#7ba7d6" stroke-width="0.55" />
<circle cx="185.81" cy="90.50" r="1.20" fill="#cbdcf0" stroke="#7ba7d6" stroke-width="0.55" />
<circle cx="186.34" cy="77.57" r="1.20" fill="#cbdcf0" stroke="#7ba7d6" stroke-width="0.55" />
<circle cx="187.86" cy="89.34" r="1.20" fill="#cbdcf0" stroke="#7ba7d6" stroke-width="0.55" />
<circle cx="182.88" cy="88.46" r="1.20" fill="#cbdcf0" stroke="#7ba7d6" stroke-width="0.55" />
<circle cx="180.39" cy="81.05" r="1.20" fill="#cbdcf0" stroke="#7ba7d6" stroke-width="0.55" />
<circle cx="186.28" cy="92.56" r="1.20" fill="#cbdcf0" stroke="#7ba7d6" stroke-width="0.55" />
<circle cx="182.12" cy="88.78" r="1.20" fill="#cbdcf0" stroke="#7ba7d6" stroke-width="0.55" />
<circle cx="183.93" cy="63.85" r="1.20" fill="#cbdcf0" stroke="#7ba7d6" stroke-width="0.55" />
<circle cx="184.08" cy="48.49" r="1.20" fill="#cbdcf0" stroke="#7ba7d6" stroke-width="0.55" />
<circle cx="183.01" cy="45.60" r="1.20" fill="#cbdcf0" stroke="#7ba7d6" stroke-width="0.55" />
<circle cx="183.54" cy="44.12" r="1.20" fill="#cbdcf0" stroke="#7ba7d6" stroke-width="0.55" />
<circle cx="183.70" cy="42.10" r="1.20" fill="#cbdcf0" stroke="#7ba7d6" stroke-width="0.55" />
<circle cx="183.78" cy="38.60" r="1.20" fill="#cbdcf0" stroke="#7ba7d6" stroke-width="0.55" />
<circle cx="183.34" cy="37.12" r="1.20" fill="#cbdcf0" stroke="#7ba7d6" stroke-width="0.55" />
<circle cx="183.94" cy="34.60" r="1.20" fill="#cbdcf0" stroke="#7ba7d6" stroke-width="0.55" />
<circle cx="200.66" cy="90.32" r="1.20" fill="#f6c8c2" stroke="#e57367" stroke-width="0.55" />
<circle cx="197.30" cy="97.38" r="1.20" fill="#f6c8c2" stroke="#e57367" stroke-width="0.55" />
<circle cx="203.15" cy="100.10" r="1.20" fill="#f6c8c2" stroke="#e57367" stroke-width="0.55" />
<circle cx="204.76" cy="102.06" r="1.20" fill="#f6c8c2" stroke="#e57367" stroke-width="0.55" />
<circle cx="198.47" cy="91.70" r="1.20" fill="#f6c8c2" stroke="#e57367" stroke-width="0.55" />
<circle cx="200.51" cy="90.79" r="1.20" fill="#f6c8c2" stroke="#e57367" stroke-width="0.55" />
<circle cx="203.57" cy="94.37" r="1.20" fill="#f6c8c2" stroke="#e57367" stroke-width="0.55" />
<circle cx="203.30" cy="99.89" r="1.20" fill="#f6c8c2" stroke="#e57367" stroke-width="0.55" />
<circle cx="204.30" cy="96.06" r="1.20" fill="#f6c8c2" stroke="#e57367" stroke-width="0.55" />
<circle cx="204.12" cy="100.19" r="1.20" fill="#f6c8c2" stroke="#e57367" stroke-width="0.55" />
<circle cx="202.28" cy="90.09" r="1.20" fill="#f6c8c2" stroke="#e57367" stroke-width="0.55" />
<circle cx="197.22" cy="97.47" r="1.20" fill="#f6c8c2" stroke="#e57367" stroke-width="0.55" />
<circle cx="199.71" cy="97.94" r="1.20" fill="#f6c8c2" stroke="#e57367" stroke-width="0.55" />
<circle cx="202.96" cy="95.19" r="1.20" fill="#f6c8c2" stroke="#e57367" stroke-width="0.55" />
<circle cx="198.00" cy="97.13" r="1.20" fill="#f6c8c2" stroke="#e57367" stroke-width="0.55" />
<circle cx="202.59" cy="96.17" r="1.20" fill="#f6c8c2" stroke="#e57367" stroke-width="0.55" />
<circle cx="205.21" cy="101.15" r="1.20" fill="#f6c8c2" stroke="#e57367" stroke-width="0.55" />
<circle cx="197.61" cy="96.04" r="1.20" fill="#f6c8c2" stroke="#e57367" stroke-width="0.55" />
<circle cx="198.96" cy="91.08" r="1.20" fill="#f6c8c2" stroke="#e57367" stroke-width="0.55" />
<circle cx="203.85" cy="99.56" r="1.20" fill="#f6c8c2" stroke="#e57367" stroke-width="0.55" />
<circle cx="201.86" cy="96.76" r="1.20" fill="#f6c8c2" stroke="#e57367" stroke-width="0.55" />
<circle cx="200.88" cy="96.14" r="1.20" fill="#f6c8c2" stroke="#e57367" stroke-width="0.55" />
<circle cx="197.57" cy="99.73" r="1.20" fill="#f6c8c2" stroke="#e57367" stroke-width="0.55" />
<circle cx="203.00" cy="102.83" r="1.20" fill="#f6c8c2" stroke="#e57367" stroke-width="0.55" />
<circle cx="201.69" cy="94.65" r="1.20" fill="#f6c8c2" stroke="#e57367" stroke-width="0.55" />
<circle cx="200.02" cy="94.87" r="1.20" fill="#f6c8c2" stroke="#e57367" stroke-width="0.55" />
<circle cx="200.01" cy="100.18" r="1.20" fill="#f6c8c2" stroke="#e57367" stroke-width="0.55" />
<circle cx="197.81" cy="92.54" r="1.20" fill="#f6c8c2" stroke="#e57367" stroke-width="0.55" />
<circle cx="198.59" cy="97.82" r="1.20" fill="#f6c8c2" stroke="#e57367" stroke-width="0.55" />
<circle cx="200.01" cy="94.42" r="1.20" fill="#f6c8c2" stroke="#e57367" stroke-width="0.55" />
<circle cx="200.18" cy="99.54" r="1.20" fill="#f6c8c2" stroke="#e57367" stroke-width="0.55" />
<circle cx="204.16" cy="97.41" r="1.20" fill="#f6c8c2" stroke="#e57367" stroke-width="0.55" />
<circle cx="205.27" cy="99.35" r="1.20" fill="#f6c8c2" stroke="#e57367" stroke-width="0.55" />
<circle cx="199.25" cy="102.07" r="1.20" fill="#f6c8c2" stroke="#e57367" stroke-width="0.55" />
<circle cx="197.94" cy="102.27" r="1.20" fill="#f6c8c2" stroke="#e57367" stroke-width="0.55" />
<circle cx="203.29" cy="94.26" r="1.20" fill="#f6c8c2" stroke="#e57367" stroke-width="0.55" />
<circle cx="198.15" cy="101.08" r="1.20" fill="#f6c8c2" stroke="#e57367" stroke-width="0.55" />
<circle cx="204.02" cy="98.73" r="1.20" fill="#f6c8c2" stroke="#e57367" stroke-width="0.55" />
<circle cx="203.38" cy="93.64" r="1.20" fill="#f6c8c2" stroke="#e57367" stroke-width="0.55" />
<circle cx="197.69" cy="96.83" r="1.20" fill="#f6c8c2" stroke="#e57367" stroke-width="0.55" />
<circle cx="197.85" cy="98.92" r="1.20" fill="#f6c8c2" stroke="#e57367" stroke-width="0.55" />
<circle cx="202.02" cy="97.57" r="1.20" fill="#f6c8c2" stroke="#e57367" stroke-width="0.55" />
<circle cx="198.71" cy="100.87" r="1.20" fill="#f6c8c2" stroke="#e57367" stroke-width="0.55" />
<circle cx="197.20" cy="94.22" r="1.20" fill="#f6c8c2" stroke="#e57367" stroke-width="0.55" />
<circle cx="204.63" cy="93.86" r="1.20" fill="#f6c8c2" stroke="#e57367" stroke-width="0.55" />
<circle cx="200.59" cy="90.53" r="1.20" fill="#f6c8c2" stroke="#e57367" stroke-width="0.55" />
<circle cx="202.17" cy="97.29" r="1.20" fill="#f6c8c2" stroke="#e57367" stroke-width="0.55" />
<circle cx="206.04" cy="96.32" r="1.20" fill="#f6c8c2" stroke="#e57367" stroke-width="0.55" />
<circle cx="199.38" cy="95.63" r="1.20" fill="#f6c8c2" stroke="#e57367" stroke-width="0.55" />
<circle cx="201.18" cy="92.80" r="1.20" fill="#f6c8c2" stroke="#e57367" stroke-width="0.55" />
<circle cx="203.60" cy="96.72" r="1.20" fill="#f6c8c2" stroke="#e57367" stroke-width="0.55" />
<circle cx="202.22" cy="105.06" r="1.20" fill="#f6c8c2" stroke="#e57367" stroke-width="0.55" />
<circle cx="201.22" cy="95.96" r="1.20" fill="#f6c8c2" stroke="#e57367" stroke-width="0.55" />
<circle cx="200.88" cy="97.61" r="1.20" fill="#f6c8c2" stroke="#e57367" stroke-width="0.55" />
<circle cx="201.60" cy="100.98" r="1.20" fill="#f6c8c2" stroke="#e57367" stroke-width="0.55" />
<circle cx="201.30" cy="103.56" r="1.20" fill="#f6c8c2" stroke="#e57367" stroke-width="0.55" />
<circle cx="200.75" cy="96.16" r="1.20" fill="#f6c8c2" stroke="#e57367" stroke-width="0.55" />
<circle cx="206.06" cy="97.14" r="1.20" fill="#f6c8c2" stroke="#e57367" stroke-width="0.55" />
<circle cx="198.63" cy="92.10" r="1.20" fill="#f6c8c2" stroke="#e57367" stroke-width="0.55" />
<circle cx="202.36" cy="94.04" r="1.20" fill="#f6c8c2" stroke="#e57367" stroke-width="0.55" />
<circle cx="200.27" cy="103.22" r="1.20" fill="#f6c8c2" stroke="#e57367" stroke-width="0.55" />
<circle cx="196.77" cy="100.52" r="1.20" fill="#f6c8c2" stroke="#e57367" stroke-width="0.55" />
<circle cx="205.82" cy="97.44" r="1.20" fill="#f6c8c2" stroke="#e57367" stroke-width="0.55" />
<circle cx="205.59" cy="99.63" r="1.20" fill="#f6c8c2" stroke="#e57367" stroke-width="0.55" />
<circle cx="197.83" cy="95.52" r="1.20" fill="#f6c8c2" stroke="#e57367" stroke-width="0.55" />
<circle cx="202.09" cy="92.83" r="1.20" fill="#f6c8c2" stroke="#e57367" stroke-width="0.55" />
<circle cx="202.73" cy="91.21" r="1.20" fill="#f6c8c2" stroke="#e57367" stroke-width="0.55" />
<circle cx="199.87" cy="94.87" r="1.20" fill="#f6c8c2" stroke="#e57367" stroke-width="0.55" />
<circle cx="204.96" cy="93.80" r="1.20" fill="#f6c8c2" stroke="#e57367" stroke-width="0.55" />
<circle cx="200.81" cy="92.77" r="1.20" fill="#f6c8c2" stroke="#e57367" stroke-width="0.55" />
<circle cx="201.17" cy="94.61" r="1.20" fill="#f6c8c2" stroke="#e57367" stroke-width="0.55" />
<circle cx="197.24" cy="102.12" r="1.20" fill="#f6c8c2" stroke="#e57367" stroke-width="0.55" />
<circle cx="198.86" cy="102.65" r="1.20" fill="#f6c8c2" stroke="#e57367" stroke-width="0.55" />
<circle cx="201.27" cy="101.38" r="1.20" fill="#f6c8c2" stroke="#e57367" stroke-width="0.55" />
<circle cx="201.65" cy="95.45" r="1.20" fill="#f6c8c2" stroke="#e57367" stroke-width="0.55" />
<circle cx="202.96" cy="98.68" r="1.20" fill="#f6c8c2" stroke="#e57367" stroke-width="0.55" />
<circle cx="200.89" cy="99.81" r="1.20" fill="#f6c8c2" stroke="#e57367" stroke-width="0.55" />
<circle cx="200.42" cy="94.61" r="1.20" fill="#f6c8c2" stroke="#e57367" stroke-width="0.55" />
<circle cx="205.32" cy="101.13" r="1.20" fill="#f6c8c2" stroke="#e57367" stroke-width="0.55" />
<circle cx="200.06" cy="95.16" r="1.20" fill="#f6c8c2" stroke="#e57367" stroke-width="0.55" />
<circle cx="201.63" cy="99.18" r="1.20" fill="#f6c8c2" stroke="#e57367" stroke-width="0.55" />
<circle cx="198.49" cy="96.78" r="1.20" fill="#f6c8c2" stroke="#e57367" stroke-width="0.55" />
<circle cx="200.28" cy="105.02" r="1.20" fill="#f6c8c2" stroke="#e57367" stroke-width="0.55" />
<circle cx="198.19" cy="94.19" r="1.20" fill="#f6c8c2" stroke="#e57367" stroke-width="0.55" />
<circle cx="197.96" cy="98.29" r="1.20" fill="#f6c8c2" stroke="#e57367" stroke-width="0.55" />
<circle cx="197.86" cy="100.79" r="1.20" fill="#f6c8c2" stroke="#e57367" stroke-width="0.55" />
<circle cx="197.58" cy="98.86" r="1.20" fill="#f6c8c2" stroke="#e57367" stroke-width="0.55" />
<circle cx="198.85" cy="103.84" r="1.20" fill="#f6c8c2" stroke="#e57367" stroke-width="0.55" />
<circle cx="201.20" cy="101.28" r="1.20" fill="#f6c8c2" stroke="#e57367" stroke-width="0.55" />
<circle cx="197.66" cy="103.01" r="1.20" fill="#f6c8c2" stroke="#e57367" stroke-width="0.55" />
<circle cx="200.28" cy="98.42" r="1.20" fill="#f6c8c2" stroke="#e57367" stroke-width="0.55" />
<circle cx="197.07" cy="95.39" r="1.20" fill="#f6c8c2" stroke="#e57367" stroke-width="0.55" />
<circle cx="200.14" cy="98.87" r="1.20" fill="#f6c8c2" stroke="#e57367" stroke-width="0.55" />
<circle cx="204.20" cy="103.86" r="1.20" fill="#f6c8c2" stroke="#e57367" stroke-width="0.55" />
<circle cx="197.02" cy="100.68" r="1.20" fill="#f6c8c2" stroke="#e57367" stroke-width="0.55" />
<circle cx="197.65" cy="98.14" r="1.20" fill="#f6c8c2" stroke="#e57367" stroke-width="0.55" />
<circle cx="199.76" cy="96.46" r="1.20" fill="#f6c8c2" stroke="#e57367" stroke-width="0.55" />
<circle cx="197.20" cy="101.89" r="1.20" fill="#f6c8c2" stroke="#e57367" stroke-width="0.55" />
<circle cx="199.23" cy="95.05" r="1.20" fill="#f6c8c2" stroke="#e57367" stroke-width="0.55" />
<circle cx="201.00" cy="94.12" r="1.20" fill="#f6c8c2" stroke="#e57367" stroke-width="0.55" />
<line x1="160.70" y1="102.34" x2="172.30" y2="102.34" stroke="#111" stroke-width="1.2" />
<line x1="166.50" y1="102.67" x2="166.50" y2="102.01" stroke="#111" stroke-width="0.9" />
<line x1="164.00" y1="102.01" x2="169.00" y2="102.01" stroke="#111" stroke-width="0.9" />
<line x1="164.00" y1="102.67" x2="169.00" y2="102.67" stroke="#111" stroke-width="0.9" />
<line x1="178.00" y1="78.20" x2="189.60" y2="78.20" stroke="#111" stroke-width="1.2" />
<line x1="183.80" y1="80.09" x2="183.80" y2="76.31" stroke="#111" stroke-width="0.9" />
<line x1="181.30" y1="76.31" x2="186.30" y2="76.31" stroke="#111" stroke-width="0.9" />
<line x1="181.30" y1="80.09" x2="186.30" y2="80.09" stroke="#111" stroke-width="0.9" />
<line x1="195.50" y1="97.33" x2="207.10" y2="97.33" stroke="#111" stroke-width="1.2" />
<line x1="201.30" y1="97.89" x2="201.30" y2="96.78" stroke="#111" stroke-width="0.9" />
<line x1="198.80" y1="96.78" x2="203.80" y2="96.78" stroke="#111" stroke-width="0.9" />
<line x1="198.80" y1="97.89" x2="203.80" y2="97.89" stroke="#111" stroke-width="0.9" />
<text x="148.40" y="120.00" font-size="7.9" text-anchor="end" fill="#231f20">IR</text>
<text x="148.40" y="132.60" font-size="7.9" text-anchor="end" fill="#231f20">BMP4</text>
<text x="166.70" y="120.00" font-size="7.9" text-anchor="middle" fill="#231f20">-</text>
<text x="166.70" y="132.60" font-size="7.9" text-anchor="middle" fill="#231f20">-</text>
<text x="183.60" y="120.00" font-size="7.9" text-anchor="middle" fill="#231f20">+</text>
<text x="183.60" y="132.60" font-size="7.9" text-anchor="middle" fill="#231f20">-</text>
<text x="201.30" y="120.00" font-size="7.9" text-anchor="middle" fill="#231f20">+</text>
<text x="201.30" y="132.60" font-size="7.9" text-anchor="middle" fill="#231f20">+</text>
<text x="174.60" y="25.74" font-size="6.3" text-anchor="middle" fill="#231f20">&lt;0.001</text>
<line x1="165.20" y1="27.10" x2="184.00" y2="27.10" stroke="#444" stroke-width="0.8" />
<text x="191.80" y="16.54" font-size="6.3" text-anchor="middle" fill="#231f20">&lt;0.001</text>
<line x1="182.40" y1="17.70" x2="201.30" y2="17.70" stroke="#444" stroke-width="0.8" />
<text x="253.00" y="11.30" font-size="14" text-anchor="start" fill="#231f20" font-weight="bold">b</text>
<text x="308.60" y="17.89" font-size="7.0" text-anchor="middle" fill="#231f20">BF</text>
<text x="346.50" y="17.89" font-size="7.0" text-anchor="middle" fill="#231f20">Lin</text>
<text x="384.30" y="17.89" font-size="7.0" text-anchor="middle" fill="#231f20">Sca-1</text>
<text x="422.50" y="17.89" font-size="7.0" text-anchor="middle" fill="#231f20">c-Kit</text>
<text x="460.30" y="17.89" font-size="7.0" text-anchor="middle" fill="#231f20">CD48</text>
<text x="498.20" y="17.89" font-size="7.0" text-anchor="middle" fill="#231f20">CD150</text>
<text x="535.30" y="17.89" font-size="7.0" text-anchor="middle" fill="#231f20">γH2AX</text>
<rect x="290.10" y="21.00" width="36.70" height="36.20" fill="#a4a4a4" />
<g filter="url(#soft)">
<circle cx="308.90" cy="39.10" r="10.60" fill="#858585" stroke="#cacaca" stroke-width="1.6" />
</g>
<circle cx="308.70" cy="39.10" r="9.30" fill="#000" filter="url(#texDk)"/>
<circle cx="308.70" cy="39.10" r="9.30" fill="#000" filter="url(#texLt)" opacity="0.55"/>
<rect x="328.00" y="21.00" width="36.60" height="36.20" fill="#020202" />
<rect x="365.80" y="21.00" width="37.00" height="36.20" fill="#0c0c0c" />
<g filter="url(#soft2)">
<circle cx="384.10" cy="39.10" r="10.20" fill="none" stroke="#f29a14" stroke-width="2.8" />
<path d="M388.1,33.1 C393.1,35.1 394.1,42.1 390.1,46.1 C388.1,41.1 387.1,37.1 388.1,33.1 Z" fill="#e88a10" />
</g>
<rect x="404.00" y="21.00" width="36.60" height="36.20" fill="#020202" />
<g filter="url(#soft2)">
<circle cx="422.30" cy="39.10" r="10.80" fill="#149aa2" stroke="#2ad8e4" stroke-width="3.0" />
</g>
<rect x="441.80" y="21.00" width="36.70" height="36.20" fill="#070707" />
<rect x="479.70" y="21.00" width="35.90" height="36.20" fill="#0c0510" />
<g filter="url(#soft2)">
<circle cx="498.00" cy="39.10" r="10.60" fill="#4c2066" stroke="#a850d8" stroke-width="2.6" />
</g>
<rect x="516.80" y="21.00" width="37.40" height="36.20" fill="#020202" />
<rect x="290.10" y="58.40" width="36.70" height="36.90" fill="#a4a4a4" />
<g filter="url(#soft)">
<circle cx="308.40" cy="76.85" r="9.90" fill="#d6d6d6" stroke="#3e3e3e" stroke-width="1.7" />
</g>
<circle cx="308.40" cy="76.85" r="8.80" fill="#000" filter="url(#texDk)" opacity="0.5"/>
<circle cx="308.40" cy="76.85" r="7.00" fill="#000" filter="url(#texLt)"/>
<rect x="328.00" y="58.40" width="36.60" height="36.90" fill="#020202" />
<rect x="365.80" y="58.40" width="37.00" height="36.90" fill="#0c0c0c" />
<g filter="url(#soft2)">
<circle cx="384.10" cy="76.85" r="10.60" fill="#8e4c08" stroke="#f08e10" stroke-width="2.8" />
</g>
<rect x="404.00" y="58.40" width="36.60" height="36.90" fill="#041414" />
<g filter="url(#soft2)">
<circle cx="422.30" cy="76.85" r="10.80" fill="#0e7076" stroke="#2ad8e4" stroke-width="3.0" />
</g>
<rect x="441.80" y="58.40" width="36.70" height="36.90" fill="#070707" />
<circle cx="460.10" cy="76.85" r="9.50" fill="none" stroke="#222" stroke-width="1.6" filter="url(#soft2)"/>
<rect x="479.70" y="58.40" width="35.90" height="36.90" fill="#1c0c24" />
<g filter="url(#soft2)">
<circle cx="498.00" cy="76.85" r="10.60" fill="#5a2878" stroke="#a850d8" stroke-width="2.6" />
</g>
<rect x="516.80" y="58.40" width="37.40" height="36.90" fill="#0a0a0a" />
<g filter="url(#soft)">
<circle cx="528.60" cy="74.85" r="2.40" fill="#34de2a" />
<circle cx="532.10" cy="72.35" r="2.40" fill="#34de2a" />
<circle cx="536.10" cy="72.85" r="2.60" fill="#34de2a" />
<circle cx="540.10" cy="74.85" r="2.40" fill="#34de2a" />
<circle cx="542.60" cy="78.35" r="2.20" fill="#34de2a" />
<circle cx="537.60" cy="78.85" r="2.60" fill="#34de2a" />
<circle cx="533.10" cy="77.35" r="2.80" fill="#34de2a" />
<circle cx="529.10" cy="79.35" r="2.00" fill="#34de2a" />
<circle cx="538.60" cy="82.35" r="2.20" fill="#34de2a" />
<circle cx="535.10" cy="81.85" r="2.00" fill="#34de2a" />
<circle cx="531.10" cy="75.85" r="2.00" fill="#34de2a" />
<circle cx="541.10" cy="81.35" r="1.80" fill="#34de2a" />
</g>
<rect x="290.10" y="96.50" width="36.70" height="36.70" fill="#a4a4a4" />
<g filter="url(#soft)">
<circle cx="308.40" cy="114.85" r="9.90" fill="#d6d6d6" stroke="#3e3e3e" stroke-width="1.7" />
</g>
<circle cx="308.40" cy="114.85" r="8.80" fill="#000" filter="url(#texDk)" opacity="0.5"/>
<circle cx="308.40" cy="114.85" r="7.00" fill="#000" filter="url(#texLt)"/>
<rect x="328.00" y="96.50" width="36.60" height="36.70" fill="#020202" />
<rect x="365.80" y="96.50" width="37.00" height="36.70" fill="#0c0c0c" />
<g filter="url(#soft2)">
<circle cx="384.10" cy="114.85" r="10.60" fill="#c46c08" stroke="#f08e10" stroke-width="2.8" />
</g>
<rect x="404.00" y="96.50" width="36.60" height="36.70" fill="#041414" />
<g filter="url(#soft2)">
<circle cx="422.30" cy="114.85" r="10.80" fill="#0e7076" stroke="#2ad8e4" stroke-width="3.0" />
</g>
<rect x="441.80" y="96.50" width="36.70" height="36.70" fill="#070707" />
<rect x="479.70" y="96.50" width="35.90" height="36.70" fill="#1c0c24" />
<g filter="url(#soft2)">
<circle cx="498.00" cy="114.85" r="10.60" fill="#5a2878" stroke="#a850d8" stroke-width="2.6" />
</g>
<rect x="516.80" y="96.50" width="37.40" height="36.70" fill="#0a0a0a" />
<g filter="url(#soft)">
<circle cx="535.10" cy="109.85" r="1.90" fill="#34de2a" />
<circle cx="534.10" cy="113.35" r="2.50" fill="#34de2a" />
<circle cx="537.60" cy="114.85" r="2.30" fill="#34de2a" />
<circle cx="532.60" cy="117.85" r="2.30" fill="#34de2a" />
<circle cx="536.10" cy="118.35" r="2.10" fill="#34de2a" />
<circle cx="539.60" cy="117.35" r="1.80" fill="#34de2a" />
<circle cx="531.10" cy="115.85" r="1.60" fill="#34de2a" />
</g>
<text x="286.60" y="40.84" font-size="8.0" text-anchor="middle" fill="#231f20" transform="rotate(-90 286.60 38.00)">non-IR</text>
<text x="286.20" y="73.11" font-size="8.2" text-anchor="middle" fill="#231f20" transform="rotate(-90 286.20 70.20)">BMP4</text>
<text x="286.20" y="92.81" font-size="8.2" text-anchor="middle" fill="#231f20" transform="rotate(-90 286.20 89.90)">-</text>
<text x="286.20" y="111.61" font-size="8.2" text-anchor="middle" fill="#231f20" transform="rotate(-90 286.20 108.70)">BMP4</text>
<text x="286.20" y="133.01" font-size="8.2" text-anchor="middle" fill="#231f20" transform="rotate(-90 286.20 130.10)">+</text>
<text x="273.20" y="98.34" font-size="8.0" text-anchor="middle" fill="#231f20" transform="rotate(-90 273.20 95.50)">IR</text>
<line x1="278.40" y1="60.30" x2="278.40" y2="133.20" stroke="#555" stroke-width="0.8" />
<line x1="597.40" y1="31.40" x2="597.40" y2="50.50" stroke="#3a3a3a" stroke-width="0.8" />
<line x1="597.40" y1="60.50" x2="597.40" y2="103.50" stroke="#3a3a3a" stroke-width="0.8" />
<line x1="597.40" y1="103.50" x2="660.90" y2="103.50" stroke="#3a3a3a" stroke-width="0.8" />
<line x1="595.00" y1="103.50" x2="597.40" y2="103.50" stroke="#3a3a3a" stroke-width="0.8" />
<text x="592.80" y="106.13" font-size="7.4" text-anchor="end" fill="#231f20">0</text>
<line x1="595.00" y1="95.40" x2="597.40" y2="95.40" stroke="#3a3a3a" stroke-width="0.8" />
<text x="592.80" y="98.03" font-size="7.4" text-anchor="end" fill="#231f20">2</text>
<line x1="595.00" y1="87.20" x2="597.40" y2="87.20" stroke="#3a3a3a" stroke-width="0.8" />
<text x="592.80" y="89.83" font-size="7.4" text-anchor="end" fill="#231f20">4</text>
<line x1="595.00" y1="79.20" x2="597.40" y2="79.20" stroke="#3a3a3a" stroke-width="0.8" />
<text x="592.80" y="81.83" font-size="7.4" text-anchor="end" fill="#231f20">6</text>
<line x1="595.00" y1="71.00" x2="597.40" y2="71.00" stroke="#3a3a3a" stroke-width="0.8" />
<text x="592.80" y="73.63" font-size="7.4" text-anchor="end" fill="#231f20">8</text>
<line x1="595.00" y1="62.60" x2="597.40" y2="62.60" stroke="#3a3a3a" stroke-width="0.8" />
<text x="592.80" y="65.23" font-size="7.4" text-anchor="end" fill="#231f20">10</text>
<line x1="595.00" y1="48.90" x2="597.40" y2="48.90" stroke="#3a3a3a" stroke-width="0.8" />
<text x="592.80" y="51.53" font-size="7.4" text-anchor="end" fill="#231f20">20</text>
<line x1="595.00" y1="40.10" x2="597.40" y2="40.10" stroke="#3a3a3a" stroke-width="0.8" />
<text x="592.80" y="42.73" font-size="7.4" text-anchor="end" fill="#231f20">30</text>
<line x1="595.00" y1="31.40" x2="597.40" y2="31.40" stroke="#3a3a3a" stroke-width="0.8" />
<text x="592.80" y="34.03" font-size="7.4" text-anchor="end" fill="#231f20">40</text>
<line x1="592.50" y1="43.00" x2="601.50" y2="53.50" stroke="#333" stroke-width="0.8" />
<line x1="592.50" y1="57.30" x2="601.50" y2="67.60" stroke="#333" stroke-width="0.8" />
<text x="578.50" y="71.46" font-size="7.5" text-anchor="middle" fill="#231f20" transform="rotate(-90 578.50 68.80)">γH2AX foci per HSC</text>
<circle cx="607.30" cy="103.50" r="1.00" fill="#d8eed0" stroke="#7cc36a" stroke-width="0.6" />
<circle cx="609.40" cy="103.50" r="1.00" fill="#d8eed0" stroke="#7cc36a" stroke-width="0.6" />
<circle cx="611.50" cy="103.50" r="1.00" fill="#d8eed0" stroke="#7cc36a" stroke-width="0.6" />
<circle cx="613.60" cy="103.50" r="1.00" fill="#d8eed0" stroke="#7cc36a" stroke-width="0.6" />
<circle cx="615.70" cy="103.50" r="1.00" fill="#d8eed0" stroke="#7cc36a" stroke-width="0.6" />
<circle cx="611.50" cy="99.41" r="1.00" fill="#d8eed0" stroke="#7cc36a" stroke-width="0.6" />
<circle cx="611.50" cy="95.32" r="1.00" fill="#d8eed0" stroke="#7cc36a" stroke-width="0.6" />
<circle cx="611.50" cy="91.23" r="1.00" fill="#d8eed0" stroke="#7cc36a" stroke-width="0.6" />
<circle cx="611.50" cy="83.05" r="1.00" fill="#d8eed0" stroke="#7cc36a" stroke-width="0.6" />
<circle cx="628.80" cy="103.50" r="1.00" fill="#c8dbef" stroke="#7ba7d6" stroke-width="0.6" />
<circle cx="625.65" cy="99.41" r="1.00" fill="#c8dbef" stroke="#7ba7d6" stroke-width="0.6" />
<circle cx="627.75" cy="99.41" r="1.00" fill="#c8dbef" stroke="#7ba7d6" stroke-width="0.6" />
<circle cx="629.85" cy="99.41" r="1.00" fill="#c8dbef" stroke="#7ba7d6" stroke-width="0.6" />
<circle cx="631.95" cy="99.41" r="1.00" fill="#c8dbef" stroke="#7ba7d6" stroke-width="0.6" />
<circle cx="624.60" cy="95.32" r="1.00" fill="#c8dbef" stroke="#7ba7d6" stroke-width="0.6" />
<circle cx="626.70" cy="95.32" r="1.00" fill="#c8dbef" stroke="#7ba7d6" stroke-width="0.6" />
<circle cx="628.80" cy="95.32" r="1.00" fill="#c8dbef" stroke="#7ba7d6" stroke-width="0.6" />
<circle cx="630.90" cy="95.32" r="1.00" fill="#c8dbef" stroke="#7ba7d6" stroke-width="0.6" />
<circle cx="633.00" cy="95.32" r="1.00" fill="#c8dbef" stroke="#7ba7d6" stroke-width="0.6" />
<circle cx="624.60" cy="91.23" r="1.00" fill="#c8dbef" stroke="#7ba7d6" stroke-width="0.6" />
<circle cx="626.70" cy="91.23" r="1.00" fill="#c8dbef" stroke="#7ba7d6" stroke-width="0.6" />
<circle cx="628.80" cy="91.23" r="1.00" fill="#c8dbef" stroke="#7ba7d6" stroke-width="0.6" />
<circle cx="630.90" cy="91.23" r="1.00" fill="#c8dbef" stroke="#7ba7d6" stroke-width="0.6" />
<circle cx="633.00" cy="91.23" r="1.00" fill="#c8dbef" stroke="#7ba7d6" stroke-width="0.6" />
<circle cx="624.60" cy="87.14" r="1.00" fill="#c8dbef" stroke="#7ba7d6" stroke-width="0.6" />
<circle cx="626.70" cy="87.14" r="1.00" fill="#c8dbef" stroke="#7ba7d6" stroke-width="0.6" />
<circle cx="628.80" cy="87.14" r="1.00" fill="#c8dbef" stroke="#7ba7d6" stroke-width="0.6" />
<circle cx="630.90" cy="87.14" r="1.00" fill="#c8dbef" stroke="#7ba7d6" stroke-width="0.6" />
<circle cx="633.00" cy="87.14" r="1.00" fill="#c8dbef" stroke="#7ba7d6" stroke-width="0.6" />
<circle cx="624.60" cy="83.05" r="1.00" fill="#c8dbef" stroke="#7ba7d6" stroke-width="0.6" />
<circle cx="626.70" cy="83.05" r="1.00" fill="#c8dbef" stroke="#7ba7d6" stroke-width="0.6" />
<circle cx="628.80" cy="83.05" r="1.00" fill="#c8dbef" stroke="#7ba7d6" stroke-width="0.6" />
<circle cx="630.90" cy="83.05" r="1.00" fill="#c8dbef" stroke="#7ba7d6" stroke-width="0.6" />
<circle cx="633.00" cy="83.05" r="1.00" fill="#c8dbef" stroke="#7ba7d6" stroke-width="0.6" />
<circle cx="625.65" cy="78.96" r="1.00" fill="#c8dbef" stroke="#7ba7d6" stroke-width="0.6" />
<circle cx="627.75" cy="78.96" r="1.00" fill="#c8dbef" stroke="#7ba7d6" stroke-width="0.6" />
<circle cx="629.85" cy="78.96" r="1.00" fill="#c8dbef" stroke="#7ba7d6" stroke-width="0.6" />
<circle cx="631.95" cy="78.96" r="1.00" fill="#c8dbef" stroke="#7ba7d6" stroke-width="0.6" />
<circle cx="627.75" cy="74.87" r="1.00" fill="#c8dbef" stroke="#7ba7d6" stroke-width="0.6" />
<circle cx="629.85" cy="74.87" r="1.00" fill="#c8dbef" stroke="#7ba7d6" stroke-width="0.6" />
<circle cx="628.80" cy="70.78" r="1.00" fill="#c8dbef" stroke="#7ba7d6" stroke-width="0.6" />
<circle cx="628.80" cy="62.60" r="1.00" fill="#c8dbef" stroke="#7ba7d6" stroke-width="0.6" />
<circle cx="628.80" cy="48.90" r="1.00" fill="#c8dbef" stroke="#7ba7d6" stroke-width="0.6" />
<circle cx="628.80" cy="40.10" r="1.00" fill="#c8dbef" stroke="#7ba7d6" stroke-width="0.6" />
<circle cx="642.80" cy="103.50" r="1.00" fill="#f3c2bc" stroke="#e57367" stroke-width="0.6" />
<circle cx="644.90" cy="103.50" r="1.00" fill="#f3c2bc" stroke="#e57367" stroke-width="0.6" />
<circle cx="647.00" cy="103.50" r="1.00" fill="#f3c2bc" stroke="#e57367" stroke-width="0.6" />
<circle cx="649.10" cy="103.50" r="1.00" fill="#f3c2bc" stroke="#e57367" stroke-width="0.6" />
<circle cx="651.20" cy="103.50" r="1.00" fill="#f3c2bc" stroke="#e57367" stroke-width="0.6" />
<circle cx="642.80" cy="99.41" r="1.00" fill="#f3c2bc" stroke="#e57367" stroke-width="0.6" />
<circle cx="644.90" cy="99.41" r="1.00" fill="#f3c2bc" stroke="#e57367" stroke-width="0.6" />
<circle cx="647.00" cy="99.41" r="1.00" fill="#f3c2bc" stroke="#e57367" stroke-width="0.6" />
<circle cx="649.10" cy="99.41" r="1.00" fill="#f3c2bc" stroke="#e57367" stroke-width="0.6" />
<circle cx="651.20" cy="99.41" r="1.00" fill="#f3c2bc" stroke="#e57367" stroke-width="0.6" />
<circle cx="642.80" cy="95.32" r="1.00" fill="#f3c2bc" stroke="#e57367" stroke-width="0.6" />
<circle cx="644.90" cy="95.32" r="1.00" fill="#f3c2bc" stroke="#e57367" stroke-width="0.6" />
<circle cx="647.00" cy="95.32" r="1.00" fill="#f3c2bc" stroke="#e57367" stroke-width="0.6" />
<circle cx="649.10" cy="95.32" r="1.00" fill="#f3c2bc" stroke="#e57367" stroke-width="0.6" />
<circle cx="651.20" cy="95.32" r="1.00" fill="#f3c2bc" stroke="#e57367" stroke-width="0.6" />
<circle cx="642.80" cy="91.23" r="1.00" fill="#f3c2bc" stroke="#e57367" stroke-width="0.6" />
<circle cx="644.90" cy="91.23" r="1.00" fill="#f3c2bc" stroke="#e57367" stroke-width="0.6" />
<circle cx="647.00" cy="91.23" r="1.00" fill="#f3c2bc" stroke="#e57367" stroke-width="0.6" />
<circle cx="649.10" cy="91.23" r="1.00" fill="#f3c2bc" stroke="#e57367" stroke-width="0.6" />
<circle cx="651.20" cy="91.23" r="1.00" fill="#f3c2bc" stroke="#e57367" stroke-width="0.6" />
<circle cx="644.90" cy="87.14" r="1.00" fill="#f3c2bc" stroke="#e57367" stroke-width="0.6" />
<circle cx="647.00" cy="87.14" r="1.00" fill="#f3c2bc" stroke="#e57367" stroke-width="0.6" />
<circle cx="649.10" cy="87.14" r="1.00" fill="#f3c2bc" stroke="#e57367" stroke-width="0.6" />
<circle cx="644.90" cy="83.05" r="1.00" fill="#f3c2bc" stroke="#e57367" stroke-width="0.6" />
<circle cx="647.00" cy="83.05" r="1.00" fill="#f3c2bc" stroke="#e57367" stroke-width="0.6" />
<circle cx="649.10" cy="83.05" r="1.00" fill="#f3c2bc" stroke="#e57367" stroke-width="0.6" />
<circle cx="644.90" cy="78.96" r="1.00" fill="#f3c2bc" stroke="#e57367" stroke-width="0.6" />
<circle cx="647.00" cy="78.96" r="1.00" fill="#f3c2bc" stroke="#e57367" stroke-width="0.6" />
<circle cx="649.10" cy="78.96" r="1.00" fill="#f3c2bc" stroke="#e57367" stroke-width="0.6" />
<circle cx="647.00" cy="70.78" r="1.00" fill="#f3c2bc" stroke="#e57367" stroke-width="0.6" />
<circle cx="647.00" cy="66.69" r="1.00" fill="#f3c2bc" stroke="#e57367" stroke-width="0.6" />
<circle cx="647.00" cy="62.60" r="1.00" fill="#f3c2bc" stroke="#e57367" stroke-width="0.6" />
<circle cx="647.00" cy="48.46" r="1.00" fill="#f3c2bc" stroke="#e57367" stroke-width="0.6" />
<circle cx="647.00" cy="49.34" r="1.00" fill="#f3c2bc" stroke="#e57367" stroke-width="0.6" />
<line x1="605.30" y1="102.07" x2="617.70" y2="102.07" stroke="#111" stroke-width="1.1" />
<line x1="611.50" y1="102.48" x2="611.50" y2="101.66" stroke="#111" stroke-width="0.9" />
<line x1="609.00" y1="101.66" x2="614.00" y2="101.66" stroke="#111" stroke-width="0.9" />
<line x1="609.00" y1="102.48" x2="614.00" y2="102.48" stroke="#111" stroke-width="0.9" />
<line x1="622.60" y1="83.05" x2="635.00" y2="83.05" stroke="#111" stroke-width="1.1" />
<line x1="628.80" y1="84.69" x2="628.80" y2="81.41" stroke="#111" stroke-width="0.9" />
<line x1="626.30" y1="81.41" x2="631.30" y2="81.41" stroke="#111" stroke-width="0.9" />
<line x1="626.30" y1="84.69" x2="631.30" y2="84.69" stroke="#111" stroke-width="0.9" />
<line x1="640.80" y1="89.19" x2="653.20" y2="89.19" stroke="#111" stroke-width="1.1" />
<line x1="647.00" y1="90.62" x2="647.00" y2="87.75" stroke="#111" stroke-width="0.9" />
<line x1="644.50" y1="87.75" x2="649.50" y2="87.75" stroke="#111" stroke-width="0.9" />
<line x1="644.50" y1="90.62" x2="649.50" y2="90.62" stroke="#111" stroke-width="0.9" />
<text x="593.60" y="117.47" font-size="7.8" text-anchor="end" fill="#231f20">IR</text>
<text x="593.60" y="129.57" font-size="7.8" text-anchor="end" fill="#231f20">BMP4</text>
<text x="611.50" y="117.47" font-size="7.8" text-anchor="middle" fill="#231f20">-</text>
<text x="611.50" y="129.57" font-size="7.8" text-anchor="middle" fill="#231f20">-</text>
<text x="628.80" y="117.47" font-size="7.8" text-anchor="middle" fill="#231f20">+</text>
<text x="628.80" y="129.57" font-size="7.8" text-anchor="middle" fill="#231f20">-</text>
<text x="647.00" y="117.47" font-size="7.8" text-anchor="middle" fill="#231f20">+</text>
<text x="647.00" y="129.57" font-size="7.8" text-anchor="middle" fill="#231f20">+</text>
<text x="620.10" y="29.84" font-size="6.3" text-anchor="middle" fill="#231f20">&lt;0.001</text>
<line x1="611.50" y1="30.70" x2="628.80" y2="30.70" stroke="#666" stroke-width="0.8" />
<text x="637.30" y="18.14" font-size="6.3" text-anchor="middle" fill="#231f20">0.012</text>
<line x1="628.80" y1="19.70" x2="645.80" y2="19.70" stroke="#666" stroke-width="0.8" />
<text x="2.00" y="161.60" font-size="14" text-anchor="start" fill="#231f20" font-weight="bold">c</text>
<rect x="62.40" y="170.10" width="88.90" height="89.00" fill="#fff" stroke="#8a8a8a" stroke-width="0.9"/>
<path d="M62.40,206.20 L62.40,201.39 L62.89,201.27 L63.39,201.01 L63.88,200.92 L64.38,200.78 L64.87,200.48 L65.36,200.10 L65.86,199.94 L66.35,199.74 L66.84,199.73 L67.34,199.37 L67.83,199.24 L68.33,199.03 L68.82,198.81 L69.31,198.49 L69.81,197.86 L70.30,197.62 L70.80,197.32 L71.29,197.02 L71.78,197.05 L72.28,196.68 L72.77,196.19 L73.27,195.82 L73.76,195.44 L74.25,195.12 L74.75,195.36 L75.24,194.73 L75.73,194.42 L76.23,194.29 L76.72,194.29 L77.22,193.85 L77.71,193.93 L78.20,193.08 L78.70,192.94 L79.19,193.00 L79.69,193.02 L80.18,192.34 L80.67,192.42 L81.17,191.96 L81.66,191.75 L82.16,191.79 L82.65,191.58 L83.14,191.09 L83.64,190.86 L84.13,190.68 L84.62,190.05 L85.12,188.98 L85.61,189.13 L86.11,188.44 L86.60,187.01 L87.09,186.56 L87.59,185.33 L88.08,184.43 L88.58,183.58 L89.07,181.59 L89.56,181.68 L90.06,180.27 L90.55,179.54 L91.05,177.80 L91.54,177.44 L92.03,176.41 L92.53,174.89 L93.02,175.01 L93.52,174.02 L94.01,172.96 L94.50,174.31 L95.00,174.35 L95.49,174.16 L95.98,175.42 L96.48,175.83 L96.97,176.95 L97.47,177.49 L97.96,178.73 L98.45,179.47 L98.95,181.52 L99.44,182.12 L99.94,183.59 L100.43,185.34 L100.92,187.46 L101.42,189.09 L101.91,191.78 L102.41,193.25 L102.90,194.41 L103.39,196.10 L103.89,197.73 L104.38,198.78 L104.87,200.08 L105.37,201.05 L105.86,202.09 L106.36,202.87 L106.85,203.47 L107.34,204.06 L107.84,204.48 L108.33,204.80 L108.83,205.16 L109.32,205.41 L109.81,205.60 L110.31,205.74 L110.80,205.85 L111.30,205.95 L111.79,206.02 L112.28,206.07 L112.78,206.10 L113.27,206.13 L113.76,206.15 L114.26,206.17 L114.75,206.18 L115.25,206.18 L115.74,206.19 L116.23,206.19 L116.73,206.20 L117.22,206.20 L117.72,206.20 L118.21,206.20 L118.70,206.20 L119.20,206.20 L119.69,206.20 L120.19,206.20 L120.68,206.20 L121.17,206.20 L121.67,206.20 L122.16,206.20 L122.65,206.20 L123.15,206.20 L123.64,206.20 L124.14,206.20 L124.63,206.20 L125.12,206.20 L125.62,206.20 L126.11,206.20 L126.61,206.20 L127.10,206.20 L127.59,206.20 L128.09,206.20 L128.58,206.20 L129.07,206.20 L129.57,206.20 L130.06,206.20 L130.56,206.20 L131.05,206.20 L131.54,206.20 L132.04,206.20 L132.53,206.20 L133.03,206.20 L133.52,206.20 L134.01,206.20 L134.51,206.20 L135.00,206.20 L135.50,206.20 L135.99,206.20 L136.48,206.20 L136.98,206.20 L137.47,206.20 L137.97,206.20 L138.46,206.20 L138.95,206.20 L139.45,206.20 L139.94,206.20 L140.43,206.20 L140.93,206.20 L141.42,206.20 L141.92,206.20 L142.41,206.20 L142.90,206.20 L143.40,206.20 L143.89,206.20 L144.39,206.20 L144.88,206.20 L145.37,206.20 L145.87,206.20 L146.36,206.20 L146.86,206.20 L147.35,206.20 L147.84,206.20 L148.34,206.20 L148.83,206.20 L149.32,206.20 L149.82,206.20 L150.31,206.20 L150.81,206.20 L151.30,206.20 L151.30,206.20 Z" fill="#c9c9c9" />
<path d="M62.40,201.39 L62.89,201.27 L63.39,201.01 L63.88,200.92 L64.38,200.78 L64.87,200.48 L65.36,200.10 L65.86,199.94 L66.35,199.74 L66.84,199.73 L67.34,199.37 L67.83,199.24 L68.33,199.03 L68.82,198.81 L69.31,198.49 L69.81,197.86 L70.30,197.62 L70.80,197.32 L71.29,197.02 L71.78,197.05 L72.28,196.68 L72.77,196.19 L73.27,195.82 L73.76,195.44 L74.25,195.12 L74.75,195.36 L75.24,194.73 L75.73,194.42 L76.23,194.29 L76.72,194.29 L77.22,193.85 L77.71,193.93 L78.20,193.08 L78.70,192.94 L79.19,193.00 L79.69,193.02 L80.18,192.34 L80.67,192.42 L81.17,191.96 L81.66,191.75 L82.16,191.79 L82.65,191.58 L83.14,191.09 L83.64,190.86 L84.13,190.68 L84.62,190.05 L85.12,188.98 L85.61,189.13 L86.11,188.44 L86.60,187.01 L87.09,186.56 L87.59,185.33 L88.08,184.43 L88.58,183.58 L89.07,181.59 L89.56,181.68 L90.06,180.27 L90.55,179.54 L91.05,177.80 L91.54,177.44 L92.03,176.41 L92.53,174.89 L93.02,175.01 L93.52,174.02 L94.01,172.96 L94.50,174.31 L95.00,174.35 L95.49,174.16 L95.98,175.42 L96.48,175.83 L96.97,176.95 L97.47,177.49 L97.96,178.73 L98.45,179.47 L98.95,181.52 L99.44,182.12 L99.94,183.59 L100.43,185.34 L100.92,187.46 L101.42,189.09 L101.91,191.78 L102.41,193.25 L102.90,194.41 L103.39,196.10 L103.89,197.73 L104.38,198.78 L104.87,200.08 L105.37,201.05 L105.86,202.09 L106.36,202.87 L106.85,203.47 L107.34,204.06 L107.84,204.48 L108.33,204.80 L108.83,205.16 L109.32,205.41 L109.81,205.60 L110.31,205.74 L110.80,205.85 L111.30,205.95 L111.79,206.02 L112.28,206.07 L112.78,206.10 L113.27,206.13 L113.76,206.15 L114.26,206.17 L114.75,206.18 L115.25,206.18 L115.74,206.19 L116.23,206.19 L116.73,206.20 L117.22,206.20 L117.72,206.20 L118.21,206.20 L118.70,206.20 L119.20,206.20 L119.69,206.20 L120.19,206.20 L120.68,206.20 L121.17,206.20 L121.67,206.20 L122.16,206.20 L122.65,206.20 L123.15,206.20 L123.64,206.20 L124.14,206.20 L124.63,206.20 L125.12,206.20 L125.62,206.20 L126.11,206.20 L126.61,206.20 L127.10,206.20 L127.59,206.20 L128.09,206.20 L128.58,206.20 L129.07,206.20 L129.57,206.20 L130.06,206.20 L130.56,206.20 L131.05,206.20 L131.54,206.20 L132.04,206.20 L132.53,206.20 L133.03,206.20 L133.52,206.20 L134.01,206.20 L134.51,206.20 L135.00,206.20 L135.50,206.20 L135.99,206.20 L136.48,206.20 L136.98,206.20 L137.47,206.20 L137.97,206.20 L138.46,206.20 L138.95,206.20 L139.45,206.20 L139.94,206.20 L140.43,206.20 L140.93,206.20 L141.42,206.20 L141.92,206.20 L142.41,206.20 L142.90,206.20 L143.40,206.20 L143.89,206.20 L144.39,206.20 L144.88,206.20 L145.37,206.20 L145.87,206.20 L146.36,206.20 L146.86,206.20 L147.35,206.20 L147.84,206.20 L148.34,206.20 L148.83,206.20 L149.32,206.20 L149.82,206.20 L150.31,206.20 L150.81,206.20 L151.30,206.20" fill="none" stroke="#9a9a9a" stroke-width="0.6" />
<line x1="62.40" y1="206.20" x2="151.30" y2="206.20" stroke="#999" stroke-width="0.8" />
<line x1="62.40" y1="224.00" x2="151.30" y2="224.00" stroke="#b4ecb0" stroke-width="1.0" />
<path d="M62.40,224.30 L62.40,223.70 L62.89,223.70 L63.39,223.70 L63.88,223.70 L64.38,223.70 L64.87,223.70 L65.36,223.70 L65.86,223.70 L66.35,223.70 L66.84,223.70 L67.34,223.70 L67.83,223.70 L68.33,223.70 L68.82,223.70 L69.31,223.70 L69.81,223.70 L70.30,223.70 L70.80,223.70 L71.29,223.70 L71.78,223.70 L72.28,223.70 L72.77,223.70 L73.27,223.70 L73.76,223.70 L74.25,223.70 L74.75,223.70 L75.24,223.70 L75.73,223.70 L76.23,223.70 L76.72,223.70 L77.22,223.70 L77.71,223.70 L78.20,223.70 L78.70,223.70 L79.19,223.70 L79.69,223.70 L80.18,223.70 L80.67,223.70 L81.17,223.70 L81.66,223.70 L82.16,223.70 L82.65,223.70 L83.14,223.70 L83.64,223.70 L84.13,223.70 L84.62,223.70 L85.12,223.70 L85.61,223.70 L86.11,223.70 L86.60,223.70 L87.09,223.70 L87.59,223.70 L88.08,223.70 L88.58,223.70 L89.07,223.70 L89.56,223.70 L90.06,223.70 L90.55,223.70 L91.05,223.70 L91.54,223.70 L92.03,223.70 L92.53,223.70 L93.02,223.70 L93.52,223.70 L94.01,223.70 L94.50,223.70 L95.00,223.69 L95.49,223.69 L95.98,223.69 L96.48,223.68 L96.97,223.67 L97.47,223.65 L97.96,223.62 L98.45,223.58 L98.95,223.52 L99.44,223.45 L99.94,223.34 L100.43,223.21 L100.92,222.99 L101.42,222.74 L101.91,222.41 L102.41,222.00 L102.90,221.51 L103.39,220.75 L103.89,220.02 L104.38,218.97 L104.87,218.00 L105.37,216.72 L105.86,215.21 L106.36,213.15 L106.85,211.72 L107.34,209.15 L107.84,207.53 L108.33,205.17 L108.83,203.29 L109.32,200.84 L109.81,199.64 L110.31,197.41 L110.80,195.00 L111.30,195.07 L111.79,193.38 L112.28,193.50 L112.78,193.48 L113.27,194.16 L113.76,194.53 L114.26,193.45 L114.75,194.43 L115.25,195.42 L115.74,196.51 L116.23,197.52 L116.73,200.02 L117.22,200.82 L117.72,202.40 L118.21,203.82 L118.70,204.95 L119.20,206.69 L119.69,208.01 L120.19,210.22 L120.68,211.19 L121.17,212.52 L121.67,213.75 L122.16,215.00 L122.65,216.00 L123.15,217.22 L123.64,217.89 L124.14,218.88 L124.63,219.55 L125.12,220.13 L125.62,220.73 L126.11,221.28 L126.61,221.71 L127.10,222.05 L127.59,222.33 L128.09,222.56 L128.58,222.79 L129.07,222.99 L129.57,223.13 L130.06,223.24 L130.56,223.35 L131.05,223.43 L131.54,223.49 L132.04,223.54 L132.53,223.57 L133.03,223.60 L133.52,223.63 L134.01,223.65 L134.51,223.66 L135.00,223.67 L135.50,223.68 L135.99,223.68 L136.48,223.69 L136.98,223.69 L137.47,223.69 L137.97,223.70 L138.46,223.70 L138.95,223.70 L139.45,223.70 L139.94,223.70 L140.43,223.70 L140.93,223.70 L141.42,223.70 L141.92,223.70 L142.41,223.70 L142.90,223.70 L143.40,223.70 L143.89,223.70 L144.39,223.70 L144.88,223.70 L145.37,223.70 L145.87,223.70 L146.36,223.70 L146.86,223.70 L147.35,223.70 L147.84,223.70 L148.34,223.70 L148.83,223.70 L149.32,223.70 L149.82,223.70 L150.31,223.70 L150.81,223.70 L151.30,223.70 L151.30,224.30 Z" fill="#7ddc78" fill-opacity="0.8"/>
<path d="M62.40,223.70 L62.89,223.70 L63.39,223.70 L63.88,223.70 L64.38,223.70 L64.87,223.70 L65.36,223.70 L65.86,223.70 L66.35,223.70 L66.84,223.70 L67.34,223.70 L67.83,223.70 L68.33,223.70 L68.82,223.70 L69.31,223.70 L69.81,223.70 L70.30,223.70 L70.80,223.70 L71.29,223.70 L71.78,223.70 L72.28,223.70 L72.77,223.70 L73.27,223.70 L73.76,223.70 L74.25,223.70 L74.75,223.70 L75.24,223.70 L75.73,223.70 L76.23,223.70 L76.72,223.70 L77.22,223.70 L77.71,223.70 L78.20,223.70 L78.70,223.70 L79.19,223.70 L79.69,223.70 L80.18,223.70 L80.67,223.70 L81.17,223.70 L81.66,223.70 L82.16,223.70 L82.65,223.70 L83.14,223.70 L83.64,223.70 L84.13,223.70 L84.62,223.70 L85.12,223.70 L85.61,223.70 L86.11,223.70 L86.60,223.70 L87.09,223.70 L87.59,223.70 L88.08,223.70 L88.58,223.70 L89.07,223.70 L89.56,223.70 L90.06,223.70 L90.55,223.70 L91.05,223.70 L91.54,223.70 L92.03,223.70 L92.53,223.70 L93.02,223.70 L93.52,223.70 L94.01,223.70 L94.50,223.70 L95.00,223.69 L95.49,223.69 L95.98,223.69 L96.48,223.68 L96.97,223.67 L97.47,223.65 L97.96,223.62 L98.45,223.58 L98.95,223.52 L99.44,223.45 L99.94,223.34 L100.43,223.21 L100.92,222.99 L101.42,222.74 L101.91,222.41 L102.41,222.00 L102.90,221.51 L103.39,220.75 L103.89,220.02 L104.38,218.97 L104.87,218.00 L105.37,216.72 L105.86,215.21 L106.36,213.15 L106.85,211.72 L107.34,209.15 L107.84,207.53 L108.33,205.17 L108.83,203.29 L109.32,200.84 L109.81,199.64 L110.31,197.41 L110.80,195.00 L111.30,195.07 L111.79,193.38 L112.28,193.50 L112.78,193.48 L113.27,194.16 L113.76,194.53 L114.26,193.45 L114.75,194.43 L115.25,195.42 L115.74,196.51 L116.23,197.52 L116.73,200.02 L117.22,200.82 L117.72,202.40 L118.21,203.82 L118.70,204.95 L119.20,206.69 L119.69,208.01 L120.19,210.22 L120.68,211.19 L121.17,212.52 L121.67,213.75 L122.16,215.00 L122.65,216.00 L123.15,217.22 L123.64,217.89 L124.14,218.88 L124.63,219.55 L125.12,220.13 L125.62,220.73 L126.11,221.28 L126.61,221.71 L127.10,222.05 L127.59,222.33 L128.09,222.56 L128.58,222.79 L129.07,222.99 L129.57,223.13 L130.06,223.24 L130.56,223.35 L131.05,223.43 L131.54,223.49 L132.04,223.54 L132.53,223.57 L133.03,223.60 L133.52,223.63 L134.01,223.65 L134.51,223.66 L135.00,223.67 L135.50,223.68 L135.99,223.68 L136.48,223.69 L136.98,223.69 L137.47,223.69 L137.97,223.70 L138.46,223.70 L138.95,223.70 L139.45,223.70 L139.94,223.70 L140.43,223.70 L140.93,223.70 L141.42,223.70 L141.92,223.70 L142.41,223.70 L142.90,223.70 L143.40,223.70 L143.89,223.70 L144.39,223.70 L144.88,223.70 L145.37,223.70 L145.87,223.70 L146.36,223.70 L146.86,223.70 L147.35,223.70 L147.84,223.70 L148.34,223.70 L148.83,223.70 L149.32,223.70 L149.82,223.70 L150.31,223.70 L150.81,223.70 L151.30,223.70" fill="none" stroke="#3ccc3c" stroke-width="0.7" />
<line x1="62.40" y1="241.20" x2="151.30" y2="241.20" stroke="#9cf4f6" stroke-width="1.0" />
<path d="M62.40,241.50 L62.40,240.90 L62.89,240.90 L63.39,240.90 L63.88,240.90 L64.38,240.90 L64.87,240.90 L65.36,240.90 L65.86,240.90 L66.35,240.90 L66.84,240.90 L67.34,240.90 L67.83,240.90 L68.33,240.90 L68.82,240.90 L69.31,240.90 L69.81,240.90 L70.30,240.90 L70.80,240.90 L71.29,240.90 L71.78,240.90 L72.28,240.90 L72.77,240.90 L73.27,240.90 L73.76,240.90 L74.25,240.90 L74.75,240.90 L75.24,240.90 L75.73,240.90 L76.23,240.90 L76.72,240.90 L77.22,240.90 L77.71,240.90 L78.20,240.90 L78.70,240.90 L79.19,240.90 L79.69,240.90 L80.18,240.90 L80.67,240.90 L81.17,240.90 L81.66,240.90 L82.16,240.90 L82.65,240.90 L83.14,240.90 L83.64,240.90 L84.13,240.90 L84.62,240.90 L85.12,240.90 L85.61,240.90 L86.11,240.90 L86.60,240.90 L87.09,240.90 L87.59,240.90 L88.08,240.90 L88.58,240.90 L89.07,240.90 L89.56,240.90 L90.06,240.90 L90.55,240.90 L91.05,240.90 L91.54,240.90 L92.03,240.90 L92.53,240.90 L93.02,240.90 L93.52,240.90 L94.01,240.90 L94.50,240.90 L95.00,240.90 L95.49,240.90 L95.98,240.90 L96.48,240.90 L96.97,240.90 L97.47,240.90 L97.96,240.90 L98.45,240.90 L98.95,240.90 L99.44,240.90 L99.94,240.90 L100.43,240.90 L100.92,240.89 L101.42,240.89 L101.91,240.88 L102.41,240.88 L102.90,240.86 L103.39,240.85 L103.89,240.82 L104.38,240.79 L104.87,240.74 L105.37,240.68 L105.86,240.60 L106.36,240.49 L106.85,240.35 L107.34,240.16 L107.84,239.92 L108.33,239.62 L108.83,239.25 L109.32,238.79 L109.81,238.24 L110.31,237.58 L110.80,236.81 L111.30,235.92 L111.79,234.90 L112.28,233.76 L112.78,232.50 L113.27,231.12 L113.76,229.65 L114.26,228.11 L114.75,226.53 L115.25,224.92 L115.74,223.34 L116.23,221.80 L116.73,220.35 L117.22,218.99 L117.72,217.75 L118.21,216.66 L118.70,215.73 L119.20,215.03 L119.69,214.60 L120.19,214.56 L120.68,214.97 L121.17,215.84 L121.67,217.16 L122.16,218.84 L122.65,218.88 L123.15,218.37 L123.64,218.07 L124.14,217.99 L124.63,218.12 L125.12,218.40 L125.62,218.82 L126.11,219.38 L126.61,220.09 L127.10,220.94 L127.59,221.92 L128.09,223.00 L128.58,224.17 L129.07,225.39 L129.57,226.65 L130.06,227.92 L130.56,229.18 L131.05,230.41 L131.54,231.59 L132.04,232.71 L132.53,233.75 L133.03,234.72 L133.52,235.60 L134.01,236.40 L134.51,237.11 L135.00,237.73 L135.50,238.28 L135.99,238.75 L136.48,239.15 L136.98,239.49 L137.47,239.77 L137.97,240.00 L138.46,240.20 L138.95,240.35 L139.45,240.48 L139.94,240.58 L140.43,240.65 L140.93,240.71 L141.42,240.76 L141.92,240.80 L142.41,240.82 L142.90,240.85 L143.40,240.86 L143.89,240.87 L144.39,240.88 L144.88,240.89 L145.37,240.89 L145.87,240.89 L146.36,240.90 L146.86,240.90 L147.35,240.90 L147.84,240.90 L148.34,240.90 L148.83,240.90 L149.32,240.90 L149.82,240.90 L150.31,240.90 L150.81,240.90 L151.30,240.90 L151.30,241.50 Z" fill="#80f6f8" fill-opacity="0.82"/>
<path d="M62.40,240.90 L62.89,240.90 L63.39,240.90 L63.88,240.90 L64.38,240.90 L64.87,240.90 L65.36,240.90 L65.86,240.90 L66.35,240.90 L66.84,240.90 L67.34,240.90 L67.83,240.90 L68.33,240.90 L68.82,240.90 L69.31,240.90 L69.81,240.90 L70.30,240.90 L70.80,240.90 L71.29,240.90 L71.78,240.90 L72.28,240.90 L72.77,240.90 L73.27,240.90 L73.76,240.90 L74.25,240.90 L74.75,240.90 L75.24,240.90 L75.73,240.90 L76.23,240.90 L76.72,240.90 L77.22,240.90 L77.71,240.90 L78.20,240.90 L78.70,240.90 L79.19,240.90 L79.69,240.90 L80.18,240.90 L80.67,240.90 L81.17,240.90 L81.66,240.90 L82.16,240.90 L82.65,240.90 L83.14,240.90 L83.64,240.90 L84.13,240.90 L84.62,240.90 L85.12,240.90 L85.61,240.90 L86.11,240.90 L86.60,240.90 L87.09,240.90 L87.59,240.90 L88.08,240.90 L88.58,240.90 L89.07,240.90 L89.56,240.90 L90.06,240.90 L90.55,240.90 L91.05,240.90 L91.54,240.90 L92.03,240.90 L92.53,240.90 L93.02,240.90 L93.52,240.90 L94.01,240.90 L94.50,240.90 L95.00,240.90 L95.49,240.90 L95.98,240.90 L96.48,240.90 L96.97,240.90 L97.47,240.90 L97.96,240.90 L98.45,240.90 L98.95,240.90 L99.44,240.90 L99.94,240.90 L100.43,240.90 L100.92,240.89 L101.42,240.89 L101.91,240.88 L102.41,240.88 L102.90,240.86 L103.39,240.85 L103.89,240.82 L104.38,240.79 L104.87,240.74 L105.37,240.68 L105.86,240.60 L106.36,240.49 L106.85,240.35 L107.34,240.16 L107.84,239.92 L108.33,239.62 L108.83,239.25 L109.32,238.79 L109.81,238.24 L110.31,237.58 L110.80,236.81 L111.30,235.92 L111.79,234.90 L112.28,233.76 L112.78,232.50 L113.27,231.12 L113.76,229.65 L114.26,228.11 L114.75,226.53 L115.25,224.92 L115.74,223.34 L116.23,221.80 L116.73,220.35 L117.22,218.99 L117.72,217.75 L118.21,216.66 L118.70,215.73 L119.20,215.03 L119.69,214.60 L120.19,214.56 L120.68,214.97 L121.17,215.84 L121.67,217.16 L122.16,218.84 L122.65,218.88 L123.15,218.37 L123.64,218.07 L124.14,217.99 L124.63,218.12 L125.12,218.40 L125.62,218.82 L126.11,219.38 L126.61,220.09 L127.10,220.94 L127.59,221.92 L128.09,223.00 L128.58,224.17 L129.07,225.39 L129.57,226.65 L130.06,227.92 L130.56,229.18 L131.05,230.41 L131.54,231.59 L132.04,232.71 L132.53,233.75 L133.03,234.72 L133.52,235.60 L134.01,236.40 L134.51,237.11 L135.00,237.73 L135.50,238.28 L135.99,238.75 L136.48,239.15 L136.98,239.49 L137.47,239.77 L137.97,240.00 L138.46,240.20 L138.95,240.35 L139.45,240.48 L139.94,240.58 L140.43,240.65 L140.93,240.71 L141.42,240.76 L141.92,240.80 L142.41,240.82 L142.90,240.85 L143.40,240.86 L143.89,240.87 L144.39,240.88 L144.88,240.89 L145.37,240.89 L145.87,240.89 L146.36,240.90 L146.86,240.90 L147.35,240.90 L147.84,240.90 L148.34,240.90 L148.83,240.90 L149.32,240.90 L149.82,240.90 L150.31,240.90 L150.81,240.90 L151.30,240.90" fill="none" stroke="#30e4ec" stroke-width="0.7" />
<line x1="62.40" y1="259.00" x2="151.30" y2="259.00" stroke="#f4a0a0" stroke-width="1.0" />
<path d="M62.40,259.10 L62.40,258.70 L62.89,258.70 L63.39,258.70 L63.88,258.70 L64.38,258.70 L64.87,258.70 L65.36,258.70 L65.86,258.70 L66.35,258.70 L66.84,258.70 L67.34,258.70 L67.83,258.70 L68.33,258.70 L68.82,258.70 L69.31,258.70 L69.81,258.70 L70.30,258.70 L70.80,258.70 L71.29,258.70 L71.78,258.70 L72.28,258.70 L72.77,258.70 L73.27,258.70 L73.76,258.70 L74.25,258.70 L74.75,258.70 L75.24,258.70 L75.73,258.70 L76.23,258.70 L76.72,258.70 L77.22,258.70 L77.71,258.70 L78.20,258.70 L78.70,258.70 L79.19,258.70 L79.69,258.70 L80.18,258.70 L80.67,258.70 L81.17,258.70 L81.66,258.70 L82.16,258.70 L82.65,258.70 L83.14,258.70 L83.64,258.70 L84.13,258.70 L84.62,258.70 L85.12,258.70 L85.61,258.70 L86.11,258.70 L86.60,258.70 L87.09,258.70 L87.59,258.70 L88.08,258.70 L88.58,258.70 L89.07,258.70 L89.56,258.70 L90.06,258.70 L90.55,258.70 L91.05,258.70 L91.54,258.70 L92.03,258.70 L92.53,258.70 L93.02,258.70 L93.52,258.70 L94.01,258.70 L94.50,258.70 L95.00,258.70 L95.49,258.70 L95.98,258.70 L96.48,258.70 L96.97,258.70 L97.47,258.70 L97.96,258.70 L98.45,258.70 L98.95,258.69 L99.44,258.69 L99.94,258.68 L100.43,258.67 L100.92,258.66 L101.42,258.63 L101.91,258.59 L102.41,258.53 L102.90,258.44 L103.39,258.31 L103.89,258.12 L104.38,257.86 L104.87,257.51 L105.37,257.04 L105.86,256.41 L106.36,255.62 L106.85,254.62 L107.34,253.39 L107.84,251.91 L108.33,250.18 L108.83,248.20 L109.32,245.99 L109.81,243.60 L110.31,241.07 L110.80,238.48 L111.30,235.93 L111.79,233.51 L112.28,231.34 L112.78,229.52 L113.27,228.12 L113.76,227.24 L114.26,226.94 L114.75,227.34 L115.25,228.65 L115.74,230.83 L116.23,233.09 L116.73,234.61 L117.22,235.79 L117.72,234.62 L118.21,234.30 L118.70,234.59 L119.20,235.30 L119.69,236.34 L120.19,237.66 L120.68,239.21 L121.17,240.93 L121.67,242.74 L122.16,244.59 L122.65,246.42 L123.15,248.18 L123.64,249.82 L124.14,251.33 L124.63,252.67 L125.12,253.84 L125.62,254.85 L126.11,255.69 L126.61,256.39 L127.10,256.95 L127.59,257.40 L128.09,257.74 L128.58,258.01 L129.07,258.21 L129.57,258.36 L130.06,258.46 L130.56,258.54 L131.05,258.59 L131.54,258.63 L132.04,258.65 L132.53,258.67 L133.03,258.68 L133.52,258.69 L134.01,258.69 L134.51,258.70 L135.00,258.70 L135.50,258.70 L135.99,258.70 L136.48,258.70 L136.98,258.70 L137.47,258.70 L137.97,258.70 L138.46,258.70 L138.95,258.70 L139.45,258.70 L139.94,258.70 L140.43,258.70 L140.93,258.70 L141.42,258.70 L141.92,258.70 L142.41,258.70 L142.90,258.70 L143.40,258.70 L143.89,258.70 L144.39,258.70 L144.88,258.70 L145.37,258.70 L145.87,258.70 L146.36,258.70 L146.86,258.70 L147.35,258.70 L147.84,258.70 L148.34,258.70 L148.83,258.70 L149.32,258.70 L149.82,258.70 L150.31,258.70 L150.81,258.70 L151.30,258.70 L151.30,259.10 Z" fill="#f06464" fill-opacity="0.74"/>
<path d="M62.40,258.70 L62.89,258.70 L63.39,258.70 L63.88,258.70 L64.38,258.70 L64.87,258.70 L65.36,258.70 L65.86,258.70 L66.35,258.70 L66.84,258.70 L67.34,258.70 L67.83,258.70 L68.33,258.70 L68.82,258.70 L69.31,258.70 L69.81,258.70 L70.30,258.70 L70.80,258.70 L71.29,258.70 L71.78,258.70 L72.28,258.70 L72.77,258.70 L73.27,258.70 L73.76,258.70 L74.25,258.70 L74.75,258.70 L75.24,258.70 L75.73,258.70 L76.23,258.70 L76.72,258.70 L77.22,258.70 L77.71,258.70 L78.20,258.70 L78.70,258.70 L79.19,258.70 L79.69,258.70 L80.18,258.70 L80.67,258.70 L81.17,258.70 L81.66,258.70 L82.16,258.70 L82.65,258.70 L83.14,258.70 L83.64,258.70 L84.13,258.70 L84.62,258.70 L85.12,258.70 L85.61,258.70 L86.11,258.70 L86.60,258.70 L87.09,258.70 L87.59,258.70 L88.08,258.70 L88.58,258.70 L89.07,258.70 L89.56,258.70 L90.06,258.70 L90.55,258.70 L91.05,258.70 L91.54,258.70 L92.03,258.70 L92.53,258.70 L93.02,258.70 L93.52,258.70 L94.01,258.70 L94.50,258.70 L95.00,258.70 L95.49,258.70 L95.98,258.70 L96.48,258.70 L96.97,258.70 L97.47,258.70 L97.96,258.70 L98.45,258.70 L98.95,258.69 L99.44,258.69 L99.94,258.68 L100.43,258.67 L100.92,258.66 L101.42,258.63 L101.91,258.59 L102.41,258.53 L102.90,258.44 L103.39,258.31 L103.89,258.12 L104.38,257.86 L104.87,257.51 L105.37,257.04 L105.86,256.41 L106.36,255.62 L106.85,254.62 L107.34,253.39 L107.84,251.91 L108.33,250.18 L108.83,248.20 L109.32,245.99 L109.81,243.60 L110.31,241.07 L110.80,238.48 L111.30,235.93 L111.79,233.51 L112.28,231.34 L112.78,229.52 L113.27,228.12 L113.76,227.24 L114.26,226.94 L114.75,227.34 L115.25,228.65 L115.74,230.83 L116.23,233.09 L116.73,234.61 L117.22,235.79 L117.72,234.62 L118.21,234.30 L118.70,234.59 L119.20,235.30 L119.69,236.34 L120.19,237.66 L120.68,239.21 L121.17,240.93 L121.67,242.74 L122.16,244.59 L122.65,246.42 L123.15,248.18 L123.64,249.82 L124.14,251.33 L124.63,252.67 L125.12,253.84 L125.62,254.85 L126.11,255.69 L126.61,256.39 L127.10,256.95 L127.59,257.40 L128.09,257.74 L128.58,258.01 L129.07,258.21 L129.57,258.36 L130.06,258.46 L130.56,258.54 L131.05,258.59 L131.54,258.63 L132.04,258.65 L132.53,258.67 L133.03,258.68 L133.52,258.69 L134.01,258.69 L134.51,258.70 L135.00,258.70 L135.50,258.70 L135.99,258.70 L136.48,258.70 L136.98,258.70 L137.47,258.70 L137.97,258.70 L138.46,258.70 L138.95,258.70 L139.45,258.70 L139.94,258.70 L140.43,258.70 L140.93,258.70 L141.42,258.70 L141.92,258.70 L142.41,258.70 L142.90,258.70 L143.40,258.70 L143.89,258.70 L144.39,258.70 L144.88,258.70 L145.37,258.70 L145.87,258.70 L146.36,258.70 L146.86,258.70 L147.35,258.70 L147.84,258.70 L148.34,258.70 L148.83,258.70 L149.32,258.70 L149.82,258.70 L150.31,258.70 L150.81,258.70 L151.30,258.70" fill="none" stroke="#e03c3c" stroke-width="0.7" />
<rect x="61.90" y="170.10" width="89.90" height="89.00" fill="none" stroke="#8a8a8a" stroke-width="0.9"/>
<line x1="68.10" y1="259.10" x2="68.10" y2="261.30" stroke="#555" stroke-width="0.7" />
<line x1="90.90" y1="259.10" x2="90.90" y2="261.30" stroke="#555" stroke-width="0.7" />
<line x1="116.30" y1="259.10" x2="116.30" y2="261.30" stroke="#555" stroke-width="0.7" />
<line x1="142.00" y1="259.10" x2="142.00" y2="261.30" stroke="#555" stroke-width="0.7" />
<line x1="74.00" y1="259.10" x2="74.00" y2="260.30" stroke="#777" stroke-width="0.5" />
<line x1="79.00" y1="259.10" x2="79.00" y2="260.30" stroke="#777" stroke-width="0.5" />
<line x1="83.00" y1="259.10" x2="83.00" y2="260.30" stroke="#777" stroke-width="0.5" />
<line x1="86.00" y1="259.10" x2="86.00" y2="260.30" stroke="#777" stroke-width="0.5" />
<line x1="88.00" y1="259.10" x2="88.00" y2="260.30" stroke="#777" stroke-width="0.5" />
<line x1="99.00" y1="259.10" x2="99.00" y2="260.30" stroke="#777" stroke-width="0.5" />
<line x1="104.00" y1="259.10" x2="104.00" y2="260.30" stroke="#777" stroke-width="0.5" />
<line x1="107.00" y1="259.10" x2="107.00" y2="260.30" stroke="#777" stroke-width="0.5" />
<line x1="110.00" y1="259.10" x2="110.00" y2="260.30" stroke="#777" stroke-width="0.5" />
<line x1="112.00" y1="259.10" x2="112.00" y2="260.30" stroke="#777" stroke-width="0.5" />
<line x1="114.00" y1="259.10" x2="114.00" y2="260.30" stroke="#777" stroke-width="0.5" />
<line x1="124.00" y1="259.10" x2="124.00" y2="260.30" stroke="#777" stroke-width="0.5" />
<line x1="129.00" y1="259.10" x2="129.00" y2="260.30" stroke="#777" stroke-width="0.5" />
<line x1="132.00" y1="259.10" x2="132.00" y2="260.30" stroke="#777" stroke-width="0.5" />
<line x1="135.00" y1="259.10" x2="135.00" y2="260.30" stroke="#777" stroke-width="0.5" />
<line x1="137.00" y1="259.10" x2="137.00" y2="260.30" stroke="#777" stroke-width="0.5" />
<line x1="139.00" y1="259.10" x2="139.00" y2="260.30" stroke="#777" stroke-width="0.5" />
<text x="68.10" y="273.13" font-size="7.4" text-anchor="middle" fill="#231f20">0</text>
<text x="90.90" y="273.63" font-size="7.4" text-anchor="middle" fill="#231f20">10<tspan dy="-2.8" font-size="5">2</tspan></text>
<text x="116.30" y="273.63" font-size="7.4" text-anchor="middle" fill="#231f20">10<tspan dy="-2.8" font-size="5">3</tspan></text>
<text x="142.00" y="273.63" font-size="7.4" text-anchor="middle" fill="#231f20">10<tspan dy="-2.8" font-size="5">4</tspan></text>
<text x="110.00" y="166.19" font-size="7.3" text-anchor="middle" fill="#231f20" font-style="italic">In HSC gate</text>
<text x="60.70" y="190.87" font-size="7.8" text-anchor="end" fill="#231f20">Blank</text>
<text x="60.70" y="217.67" font-size="7.8" text-anchor="end" fill="#231f20">non-IR</text>
<text x="60.70" y="236.17" font-size="7.8" text-anchor="end" fill="#231f20">-BMP4</text>
<text x="60.70" y="253.67" font-size="7.8" text-anchor="end" fill="#231f20">+BMP4</text>
<text x="27.60" y="244.97" font-size="7.8" text-anchor="middle" fill="#231f20" transform="rotate(-90 27.60 242.20)">IR</text>
<line x1="33.70" y1="225.50" x2="33.70" y2="258.90" stroke="#777" stroke-width="0.9" />
<line x1="200.00" y1="172.60" x2="200.00" y2="245.30" stroke="#8a8a8a" stroke-width="1.1" />
<line x1="199.50" y1="245.30" x2="254.40" y2="245.30" stroke="#444" stroke-width="0.9" />
<line x1="197.40" y1="245.30" x2="200.00" y2="245.30" stroke="#8a8a8a" stroke-width="1.0" />
<text x="195.40" y="247.93" font-size="7.4" text-anchor="end" fill="#231f20">0</text>
<line x1="197.40" y1="221.20" x2="200.00" y2="221.20" stroke="#8a8a8a" stroke-width="1.0" />
<text x="195.40" y="223.83" font-size="7.4" text-anchor="end" fill="#231f20">1</text>
<line x1="197.40" y1="196.90" x2="200.00" y2="196.90" stroke="#8a8a8a" stroke-width="1.0" />
<text x="195.40" y="199.53" font-size="7.4" text-anchor="end" fill="#231f20">2</text>
<line x1="197.40" y1="172.60" x2="200.00" y2="172.60" stroke="#8a8a8a" stroke-width="1.0" />
<text x="195.40" y="175.23" font-size="7.4" text-anchor="end" fill="#231f20">3</text>
<rect x="205.10" y="221.07" width="9.90" height="24.23" fill="#92c882" />
<rect x="222.20" y="198.05" width="9.80" height="47.25" fill="#86add4" />
<rect x="239.30" y="213.80" width="9.40" height="31.50" fill="#e67b70" />
<line x1="227.10" y1="198.05" x2="227.10" y2="194.41" stroke="#444" stroke-width="0.8" />
<line x1="224.90" y1="194.41" x2="229.30" y2="194.41" stroke="#444" stroke-width="0.8" />
<line x1="224.90" y1="198.05" x2="229.30" y2="198.05" stroke="#444" stroke-width="0.8" />
<line x1="244.00" y1="213.80" x2="244.00" y2="212.34" stroke="#444" stroke-width="0.8" />
<line x1="241.80" y1="212.34" x2="246.20" y2="212.34" stroke="#444" stroke-width="0.8" />
<line x1="241.80" y1="213.80" x2="246.20" y2="213.80" stroke="#444" stroke-width="0.8" />
<circle cx="206.80" cy="221.07" r="1.00" fill="#7a8488" stroke="#1a1a1a" stroke-width="0.7" />
<circle cx="208.80" cy="221.07" r="1.00" fill="#7a8488" stroke="#1a1a1a" stroke-width="0.7" />
<circle cx="210.80" cy="221.07" r="1.00" fill="#7a8488" stroke="#1a1a1a" stroke-width="0.7" />
<circle cx="212.80" cy="221.07" r="1.00" fill="#7a8488" stroke="#1a1a1a" stroke-width="0.7" />
<circle cx="226.60" cy="186.66" r="1.00" fill="#7a8488" stroke="#1a1a1a" stroke-width="0.7" />
<circle cx="224.80" cy="198.53" r="1.00" fill="#7a8488" stroke="#1a1a1a" stroke-width="0.7" />
<circle cx="228.60" cy="198.77" r="1.00" fill="#7a8488" stroke="#1a1a1a" stroke-width="0.7" />
<circle cx="226.60" cy="207.25" r="1.00" fill="#7a8488" stroke="#1a1a1a" stroke-width="0.7" />
<circle cx="244.00" cy="210.16" r="1.00" fill="#7a8488" stroke="#1a1a1a" stroke-width="0.7" />
<circle cx="242.40" cy="213.07" r="1.00" fill="#7a8488" stroke="#1a1a1a" stroke-width="0.7" />
<circle cx="245.60" cy="213.07" r="1.00" fill="#7a8488" stroke="#1a1a1a" stroke-width="0.7" />
<circle cx="244.00" cy="215.25" r="1.00" fill="#7a8488" stroke="#1a1a1a" stroke-width="0.7" />
<text x="181.70" y="210.24" font-size="8.0" text-anchor="middle" fill="#231f20" transform="rotate(-90 181.70 207.40)">Relative MFI of CellROX</text>
<text x="194.50" y="260.73" font-size="7.7" text-anchor="end" fill="#231f20">IR</text>
<text x="194.50" y="273.13" font-size="7.7" text-anchor="end" fill="#231f20">BMP4</text>
<text x="210.00" y="260.73" font-size="7.7" text-anchor="middle" fill="#231f20">-</text>
<text x="210.00" y="273.13" font-size="7.7" text-anchor="middle" fill="#231f20">-</text>
<text x="227.10" y="260.73" font-size="7.7" text-anchor="middle" fill="#231f20">+</text>
<text x="227.10" y="273.13" font-size="7.7" text-anchor="middle" fill="#231f20">-</text>
<text x="244.00" y="260.73" font-size="7.7" text-anchor="middle" fill="#231f20">+</text>
<text x="244.00" y="273.13" font-size="7.7" text-anchor="middle" fill="#231f20">+</text>
<text x="218.70" y="179.54" font-size="6.3" text-anchor="middle" fill="#231f20">&lt;0.001</text>
<line x1="209.50" y1="180.20" x2="227.90" y2="180.20" stroke="#555" stroke-width="0.8" />
<text x="236.40" y="167.74" font-size="6.3" text-anchor="middle" fill="#231f20">0.005</text>
<line x1="227.90" y1="168.50" x2="245.00" y2="168.50" stroke="#555" stroke-width="0.8" />
<text x="273.00" y="163.50" font-size="14" text-anchor="start" fill="#231f20" font-weight="bold">d</text>
<line x1="329.40" y1="172.30" x2="329.40" y2="244.80" stroke="#333" stroke-width="0.9" />
<line x1="326.90" y1="244.80" x2="401.50" y2="244.80" stroke="#999" stroke-width="1.3" />
<line x1="326.90" y1="244.80" x2="329.40" y2="244.80" stroke="#333" stroke-width="0.9" />
<text x="324.80" y="247.43" font-size="7.4" text-anchor="end" fill="#231f20">0</text>
<line x1="326.90" y1="226.70" x2="329.40" y2="226.70" stroke="#333" stroke-width="0.9" />
<text x="324.80" y="229.33" font-size="7.4" text-anchor="end" fill="#231f20">30</text>
<line x1="326.90" y1="208.60" x2="329.40" y2="208.60" stroke="#333" stroke-width="0.9" />
<text x="324.80" y="211.23" font-size="7.4" text-anchor="end" fill="#231f20">60</text>
<line x1="326.90" y1="190.50" x2="329.40" y2="190.50" stroke="#333" stroke-width="0.9" />
<text x="324.80" y="193.13" font-size="7.4" text-anchor="end" fill="#231f20">90</text>
<line x1="326.90" y1="172.40" x2="329.40" y2="172.40" stroke="#333" stroke-width="0.9" />
<text x="324.80" y="175.03" font-size="7.4" text-anchor="end" fill="#231f20">120</text>
<rect x="338.20" y="227.91" width="11.20" height="16.89" fill="#e67b70" />
<rect x="338.20" y="200.76" width="11.20" height="27.15" fill="#86add4" />
<rect x="338.20" y="189.29" width="11.20" height="11.46" fill="#92c882" />
<line x1="341.60" y1="227.31" x2="346.00" y2="227.31" stroke="#111" stroke-width="0.9" />
<line x1="343.80" y1="227.91" x2="343.80" y2="227.11" stroke="#111" stroke-width="0.7" />
<line x1="341.60" y1="200.16" x2="346.00" y2="200.16" stroke="#111" stroke-width="0.9" />
<line x1="343.80" y1="200.76" x2="343.80" y2="199.96" stroke="#111" stroke-width="0.7" />
<line x1="341.60" y1="188.69" x2="346.00" y2="188.69" stroke="#111" stroke-width="0.9" />
<line x1="343.80" y1="189.29" x2="343.80" y2="188.49" stroke="#111" stroke-width="0.7" />
<rect x="360.60" y="237.56" width="11.10" height="7.24" fill="#e67b70" />
<rect x="360.60" y="223.68" width="11.10" height="13.88" fill="#86add4" />
<rect x="360.60" y="217.65" width="11.10" height="6.03" fill="#92c882" />
<line x1="363.95" y1="236.96" x2="368.35" y2="236.96" stroke="#111" stroke-width="0.9" />
<line x1="366.15" y1="237.56" x2="366.15" y2="236.76" stroke="#111" stroke-width="0.7" />
<line x1="363.95" y1="223.08" x2="368.35" y2="223.08" stroke="#111" stroke-width="0.9" />
<line x1="366.15" y1="223.68" x2="366.15" y2="222.88" stroke="#111" stroke-width="0.7" />
<line x1="363.95" y1="217.05" x2="368.35" y2="217.05" stroke="#111" stroke-width="0.9" />
<line x1="366.15" y1="217.65" x2="366.15" y2="216.85" stroke="#111" stroke-width="0.7" />
<rect x="382.90" y="232.73" width="11.10" height="12.07" fill="#e67b70" />
<rect x="382.90" y="211.62" width="11.10" height="21.12" fill="#86add4" />
<rect x="382.90" y="201.96" width="11.10" height="9.65" fill="#92c882" />
<line x1="386.25" y1="232.13" x2="390.65" y2="232.13" stroke="#111" stroke-width="0.9" />
<line x1="388.45" y1="232.73" x2="388.45" y2="231.93" stroke="#111" stroke-width="0.7" />
<line x1="386.25" y1="211.02" x2="390.65" y2="211.02" stroke="#111" stroke-width="0.9" />
<line x1="388.45" y1="211.62" x2="388.45" y2="210.82" stroke="#111" stroke-width="0.7" />
<line x1="386.25" y1="201.36" x2="390.65" y2="201.36" stroke="#111" stroke-width="0.9" />
<line x1="388.45" y1="201.96" x2="388.45" y2="201.16" stroke="#111" stroke-width="0.7" />
<text x="304.40" y="208.58" font-size="7.55" text-anchor="middle" fill="#231f20" transform="rotate(-90 304.40 205.90)">CFU number/3x10<tspan dy="-2.5" font-size="4.5">3</tspan><tspan dy="2.5"> LSKs</tspan></text>
<text x="323.60" y="260.60" font-size="7.6" text-anchor="end" fill="#231f20">IR</text>
<text x="323.60" y="273.00" font-size="7.6" text-anchor="end" fill="#231f20">BMP4</text>
<text x="343.80" y="260.60" font-size="7.6" text-anchor="middle" fill="#231f20">-</text>
<text x="343.80" y="273.00" font-size="7.6" text-anchor="middle" fill="#231f20">-</text>
<text x="366.20" y="260.60" font-size="7.6" text-anchor="middle" fill="#231f20">+</text>
<text x="366.20" y="273.00" font-size="7.6" text-anchor="middle" fill="#231f20">-</text>
<text x="388.50" y="260.60" font-size="7.6" text-anchor="middle" fill="#231f20">+</text>
<text x="388.50" y="273.00" font-size="7.6" text-anchor="middle" fill="#231f20">+</text>
<text x="354.70" y="177.24" font-size="6.3" text-anchor="middle" fill="#231f20">&lt;0.001</text>
<line x1="344.00" y1="178.90" x2="365.50" y2="178.90" stroke="#555" stroke-width="0.8" />
<text x="377.30" y="165.74" font-size="6.3" text-anchor="middle" fill="#231f20">&lt;0.001</text>
<line x1="366.80" y1="166.80" x2="387.90" y2="166.80" stroke="#555" stroke-width="0.8" />
<rect x="411.00" y="174.10" width="5.80" height="5.80" fill="#92c882" />
<text x="418.30" y="179.70" font-size="7.6" text-anchor="start" fill="#231f20">CFU-GEMM</text>
<rect x="411.00" y="183.30" width="5.80" height="5.80" fill="#86add4" />
<text x="418.30" y="188.90" font-size="7.6" text-anchor="start" fill="#231f20">CFU-GM</text>
<rect x="411.00" y="192.70" width="5.80" height="5.80" fill="#e67b70" />
<text x="418.30" y="198.30" font-size="7.6" text-anchor="start" fill="#231f20">BFU-E</text>
<text x="484.00" y="163.50" font-size="14" text-anchor="start" fill="#231f20" font-weight="bold">e</text>
<line x1="516.60" y1="171.10" x2="516.60" y2="243.90" stroke="#555" stroke-width="0.9" />
<line x1="514.10" y1="243.90" x2="607.80" y2="243.90" stroke="#999" stroke-width="1.3" />
<line x1="514.20" y1="243.90" x2="516.60" y2="243.90" stroke="#555" stroke-width="0.9" />
<text x="512.00" y="246.53" font-size="7.4" text-anchor="end" fill="#231f20">0</text>
<line x1="514.20" y1="229.28" x2="516.60" y2="229.28" stroke="#555" stroke-width="0.9" />
<text x="512.00" y="231.91" font-size="7.4" text-anchor="end" fill="#231f20">20</text>
<line x1="514.20" y1="214.66" x2="516.60" y2="214.66" stroke="#555" stroke-width="0.9" />
<text x="512.00" y="217.29" font-size="7.4" text-anchor="end" fill="#231f20">40</text>
<line x1="514.20" y1="200.04" x2="516.60" y2="200.04" stroke="#555" stroke-width="0.9" />
<text x="512.00" y="202.67" font-size="7.4" text-anchor="end" fill="#231f20">60</text>
<line x1="514.20" y1="185.42" x2="516.60" y2="185.42" stroke="#555" stroke-width="0.9" />
<text x="512.00" y="188.05" font-size="7.4" text-anchor="end" fill="#231f20">80</text>
<line x1="514.20" y1="170.80" x2="516.60" y2="170.80" stroke="#555" stroke-width="0.9" />
<text x="512.00" y="173.43" font-size="7.4" text-anchor="end" fill="#231f20">100</text>
<line x1="516.60" y1="243.90" x2="516.60" y2="246.30" stroke="#555" stroke-width="0.9" />
<text x="516.60" y="257.03" font-size="7.4" text-anchor="middle" fill="#231f20">0</text>
<line x1="547.03" y1="243.90" x2="547.03" y2="246.30" stroke="#555" stroke-width="0.9" />
<text x="547.03" y="257.03" font-size="7.4" text-anchor="middle" fill="#231f20">10</text>
<line x1="577.47" y1="243.90" x2="577.47" y2="246.30" stroke="#555" stroke-width="0.9" />
<text x="577.47" y="257.03" font-size="7.4" text-anchor="middle" fill="#231f20">20</text>
<line x1="607.90" y1="243.90" x2="607.90" y2="246.30" stroke="#555" stroke-width="0.9" />
<text x="607.90" y="257.03" font-size="7.4" text-anchor="middle" fill="#231f20">30</text>
<line x1="531.82" y1="243.90" x2="531.82" y2="245.40" stroke="#555" stroke-width="0.7" />
<line x1="562.25" y1="243.90" x2="562.25" y2="245.40" stroke="#555" stroke-width="0.7" />
<line x1="592.68" y1="243.90" x2="592.68" y2="245.40" stroke="#555" stroke-width="0.7" />
<text x="562.30" y="267.00" font-size="7.6" text-anchor="middle" fill="#231f20">Days after 8.0 Gy radiation</text>
<text x="493.60" y="211.70" font-size="7.6" text-anchor="middle" fill="#231f20" transform="rotate(-90 493.60 209.00)">Survival rate (%)</text>
<polyline points="516.60,170.80 601.81,170.80 601.81,170.80" fill="none" stroke="#ea8f8f" stroke-width="1.4" stroke-linejoin="round" />
<polyline points="516.60,170.80 571.38,170.80 571.38,191.71 601.81,191.71 601.81,191.71" fill="none" stroke="#b08cc8" stroke-width="1.4" stroke-linejoin="round" />
<polyline points="516.60,170.80 562.25,170.80 562.25,179.94 565.29,179.94 565.29,189.07 568.34,189.07 568.34,207.35 601.81,207.35 601.81,207.35" fill="none" stroke="#f4c090" stroke-width="1.4" stroke-linejoin="round" />
<polyline points="516.60,170.80 553.12,170.80 553.12,179.94 556.16,179.94 556.16,189.07 559.21,189.07 559.21,207.35 562.25,207.35 562.25,219.56 601.81,219.56 601.81,219.56" fill="none" stroke="#8bcb7a" stroke-width="1.4" stroke-linejoin="round" />
<polyline points="516.60,170.80 537.90,170.80 537.90,189.07 543.99,189.07 543.99,207.35 547.03,207.35 547.03,225.62 553.12,225.62 553.12,234.76 556.16,234.76 556.16,243.90" fill="none" stroke="#7fa9d6" stroke-width="1.4" stroke-linejoin="round" />
<circle cx="537.90" cy="189.07" r="1.90" fill="#7fa9d6" />
<circle cx="543.99" cy="207.35" r="1.90" fill="#7fa9d6" />
<circle cx="547.03" cy="225.62" r="1.90" fill="#7fa9d6" />
<circle cx="553.12" cy="234.76" r="1.90" fill="#7fa9d6" />
<circle cx="556.16" cy="243.90" r="1.90" fill="#7fa9d6" />
<rect x="551.32" y="178.14" width="3.60" height="3.60" fill="#8bcb7a" />
<rect x="554.36" y="187.27" width="3.60" height="3.60" fill="#8bcb7a" />
<rect x="557.41" y="205.55" width="3.60" height="3.60" fill="#8bcb7a" />
<rect x="560.45" y="217.76" width="3.60" height="3.60" fill="#8bcb7a" />
<rect x="600.01" y="217.76" width="3.60" height="3.60" fill="#8bcb7a" />
<path d="M560.15,181.41 L564.35,181.41 L562.25,178.05 Z" fill="#f4c090" />
<path d="M563.19,190.54 L567.39,190.54 L565.29,187.19 Z" fill="#f4c090" />
<path d="M566.24,208.82 L570.44,208.82 L568.34,205.46 Z" fill="#f4c090" />
<path d="M599.71,208.82 L603.91,208.82 L601.81,205.46 Z" fill="#f4c090" />
<path d="M569.28,190.24 L573.48,190.24 L571.38,193.60 Z" fill="#b08cc8" />
<path d="M599.71,190.24 L603.91,190.24 L601.81,193.60 Z" fill="#b08cc8" />
<path d="M601.81,168.60 l2.2,2.2 l-2.2,2.2 l-2.2,-2.2 Z" fill="#ea8f8f" />
<circle cx="618.30" cy="172.90" r="2.40" fill="#7fa9d6" />
<rect x="616.00" y="182.20" width="4.60" height="4.60" fill="#8bcb7a" />
<path d="M615.70,197.92 L620.90,197.92 L618.30,193.76 Z" fill="#f4c090" />
<path d="M615.70,204.88 L620.90,204.88 L618.30,209.04 Z" fill="#b08cc8" />
<path d="M618.30,215.60 l2.6,2.6 l-2.6,2.6 l-2.6,-2.6 Z" fill="#ea8f8f" />
<circle cx="618.30" cy="229.20" r="2.40" fill="#3a64d8" />
<text x="623.10" y="175.60" font-size="7.6" text-anchor="start" fill="#231f20">Veh</text>
<text x="623.10" y="187.20" font-size="7.6" text-anchor="start" fill="#231f20">BMP4 (5 μg/kg)</text>
<text x="623.10" y="198.50" font-size="7.6" text-anchor="start" fill="#231f20">BMP4 (25 μg/kg)</text>
<text x="623.10" y="209.70" font-size="7.6" text-anchor="start" fill="#231f20">BMP4 (50 μg/kg)</text>
<text x="623.10" y="220.90" font-size="7.6" text-anchor="start" fill="#231f20">BMP4 (100 μg/kg)</text>
<text x="623.10" y="231.90" font-size="7.6" text-anchor="start" fill="#231f20">BMP4 (200 μg/kg)</text>
<text x="3.50" y="293.60" font-size="14" text-anchor="start" fill="#231f20" font-weight="bold">f</text>
<line x1="54.50" y1="308.90" x2="54.50" y2="381.50" stroke="#333" stroke-width="0.9" />
<line x1="54.50" y1="381.50" x2="127.00" y2="381.50" stroke="#333" stroke-width="0.9" />
<line x1="51.70" y1="381.50" x2="54.50" y2="381.50" stroke="#333" stroke-width="0.9" />
<text x="49.70" y="384.13" font-size="7.4" text-anchor="end" fill="#231f20">0</text>
<line x1="51.70" y1="366.98" x2="54.50" y2="366.98" stroke="#333" stroke-width="0.9" />
<text x="49.70" y="369.61" font-size="7.4" text-anchor="end" fill="#231f20">5</text>
<line x1="51.70" y1="352.46" x2="54.50" y2="352.46" stroke="#333" stroke-width="0.9" />
<text x="49.70" y="355.09" font-size="7.4" text-anchor="end" fill="#231f20">10</text>
<line x1="51.70" y1="337.94" x2="54.50" y2="337.94" stroke="#333" stroke-width="0.9" />
<text x="49.70" y="340.57" font-size="7.4" text-anchor="end" fill="#231f20">15</text>
<line x1="51.70" y1="323.42" x2="54.50" y2="323.42" stroke="#333" stroke-width="0.9" />
<text x="49.70" y="326.05" font-size="7.4" text-anchor="end" fill="#231f20">20</text>
<line x1="51.70" y1="308.90" x2="54.50" y2="308.90" stroke="#333" stroke-width="0.9" />
<text x="49.70" y="311.53" font-size="7.4" text-anchor="end" fill="#231f20">25</text>
<line x1="54.50" y1="381.50" x2="54.50" y2="384.30" stroke="#333" stroke-width="0.9" />
<text x="54.50" y="393.63" font-size="7.4" text-anchor="middle" fill="#231f20">0</text>
<line x1="72.62" y1="381.50" x2="72.62" y2="384.30" stroke="#333" stroke-width="0.9" />
<text x="72.62" y="393.63" font-size="7.4" text-anchor="middle" fill="#231f20">7</text>
<line x1="90.75" y1="381.50" x2="90.75" y2="384.30" stroke="#333" stroke-width="0.9" />
<text x="90.75" y="393.63" font-size="7.4" text-anchor="middle" fill="#231f20">14</text>
<line x1="108.88" y1="381.50" x2="108.88" y2="384.30" stroke="#333" stroke-width="0.9" />
<text x="108.88" y="393.63" font-size="7.4" text-anchor="middle" fill="#231f20">21</text>
<line x1="127.00" y1="381.50" x2="127.00" y2="384.30" stroke="#333" stroke-width="0.9" />
<text x="127.00" y="393.63" font-size="7.4" text-anchor="middle" fill="#231f20">28</text>
<line x1="54.50" y1="330.68" x2="54.50" y2="319.06" stroke="#333" stroke-width="0.7" />
<line x1="52.70" y1="319.06" x2="56.30" y2="319.06" stroke="#333" stroke-width="0.7" />
<line x1="52.70" y1="330.68" x2="56.30" y2="330.68" stroke="#333" stroke-width="0.7" />
<polyline points="54.50,324.00 72.62,373.95 80.39,371.05 90.75,366.40 108.88,344.91 127.00,350.72" fill="none" stroke="#e5786c" stroke-width="1.6" stroke-linejoin="round" />
<polyline points="54.50,324.87 72.62,376.85 80.39,376.56 90.75,372.50 108.88,359.43 127.00,352.17" fill="none" stroke="#80aad6" stroke-width="1.6" stroke-linejoin="round" />
<circle cx="54.50" cy="324.00" r="2.30" fill="#e5786c" />
<circle cx="72.62" cy="373.95" r="2.30" fill="#e5786c" />
<circle cx="80.39" cy="371.05" r="2.30" fill="#e5786c" />
<circle cx="90.75" cy="366.40" r="2.30" fill="#e5786c" />
<circle cx="108.88" cy="344.91" r="2.30" fill="#e5786c" />
<circle cx="127.00" cy="350.72" r="2.30" fill="#e5786c" />
<circle cx="54.50" cy="324.87" r="2.30" fill="#80aad6" />
<circle cx="72.62" cy="376.85" r="2.30" fill="#80aad6" />
<circle cx="80.39" cy="376.56" r="2.30" fill="#80aad6" />
<circle cx="90.75" cy="372.50" r="2.30" fill="#80aad6" />
<circle cx="108.88" cy="359.43" r="2.30" fill="#80aad6" />
<circle cx="127.00" cy="352.17" r="2.30" fill="#80aad6" />
<text x="94.60" y="303.96" font-size="8.9" text-anchor="middle" fill="#231f20">WBC</text>
<text x="33.60" y="350.73" font-size="7.4" text-anchor="middle" fill="#231f20" transform="rotate(-90 33.60 348.10)">Cell number (x10<tspan dy="-2.5" font-size="4.5">9</tspan><tspan dy="2.5">/L)</tspan></text>
<text x="62.20" y="377.90" font-size="6.2" text-anchor="middle" fill="#231f20">0.024</text>
<text x="80.00" y="368.20" font-size="6.2" text-anchor="middle" fill="#231f20">0.002</text>
<text x="92.00" y="360.40" font-size="6.2" text-anchor="middle" fill="#231f20">&lt;0.001</text>
<text x="110.00" y="340.90" font-size="6.2" text-anchor="middle" fill="#231f20">&lt;0.001</text>
<line x1="181.20" y1="308.90" x2="181.20" y2="381.50" stroke="#333" stroke-width="0.9" />
<line x1="181.20" y1="381.50" x2="253.40" y2="381.50" stroke="#333" stroke-width="0.9" />
<line x1="178.40" y1="381.50" x2="181.20" y2="381.50" stroke="#333" stroke-width="0.9" />
<text x="176.40" y="384.13" font-size="7.4" text-anchor="end" fill="#231f20">0.0</text>
<line x1="178.40" y1="366.98" x2="181.20" y2="366.98" stroke="#333" stroke-width="0.9" />
<text x="176.40" y="369.61" font-size="7.4" text-anchor="end" fill="#231f20">0.2</text>
<line x1="178.40" y1="352.46" x2="181.20" y2="352.46" stroke="#333" stroke-width="0.9" />
<text x="176.40" y="355.09" font-size="7.4" text-anchor="end" fill="#231f20">0.4</text>
<line x1="178.40" y1="337.94" x2="181.20" y2="337.94" stroke="#333" stroke-width="0.9" />
<text x="176.40" y="340.57" font-size="7.4" text-anchor="end" fill="#231f20">0.6</text>
<line x1="178.40" y1="323.42" x2="181.20" y2="323.42" stroke="#333" stroke-width="0.9" />
<text x="176.40" y="326.05" font-size="7.4" text-anchor="end" fill="#231f20">0.8</text>
<line x1="178.40" y1="308.90" x2="181.20" y2="308.90" stroke="#333" stroke-width="0.9" />
<text x="176.40" y="311.53" font-size="7.4" text-anchor="end" fill="#231f20">1.0</text>
<line x1="181.20" y1="381.50" x2="181.20" y2="384.30" stroke="#333" stroke-width="0.9" />
<text x="181.20" y="393.63" font-size="7.4" text-anchor="middle" fill="#231f20">0</text>
<line x1="199.25" y1="381.50" x2="199.25" y2="384.30" stroke="#333" stroke-width="0.9" />
<text x="199.25" y="393.63" font-size="7.4" text-anchor="middle" fill="#231f20">7</text>
<line x1="217.30" y1="381.50" x2="217.30" y2="384.30" stroke="#333" stroke-width="0.9" />
<text x="217.30" y="393.63" font-size="7.4" text-anchor="middle" fill="#231f20">14</text>
<line x1="235.35" y1="381.50" x2="235.35" y2="384.30" stroke="#333" stroke-width="0.9" />
<text x="235.35" y="393.63" font-size="7.4" text-anchor="middle" fill="#231f20">21</text>
<line x1="253.40" y1="381.50" x2="253.40" y2="384.30" stroke="#333" stroke-width="0.9" />
<text x="253.40" y="393.63" font-size="7.4" text-anchor="middle" fill="#231f20">28</text>
<line x1="199.25" y1="353.91" x2="199.25" y2="348.10" stroke="#333" stroke-width="0.7" />
<line x1="197.45" y1="348.10" x2="201.05" y2="348.10" stroke="#333" stroke-width="0.7" />
<line x1="197.45" y1="353.91" x2="201.05" y2="353.91" stroke="#333" stroke-width="0.7" />
<line x1="217.30" y1="366.25" x2="217.30" y2="361.90" stroke="#333" stroke-width="0.7" />
<line x1="215.50" y1="361.90" x2="219.10" y2="361.90" stroke="#333" stroke-width="0.7" />
<line x1="215.50" y1="366.25" x2="219.10" y2="366.25" stroke="#333" stroke-width="0.7" />
<polyline points="181.20,335.04 199.25,351.01 206.99,358.99 217.30,351.01 235.35,332.13 253.40,335.04" fill="none" stroke="#e5786c" stroke-width="1.6" stroke-linejoin="round" />
<polyline points="181.20,338.67 199.25,363.35 206.99,376.42 217.30,364.08 235.35,348.83 253.40,337.21" fill="none" stroke="#80aad6" stroke-width="1.6" stroke-linejoin="round" />
<circle cx="181.20" cy="335.04" r="2.30" fill="#e5786c" />
<circle cx="199.25" cy="351.01" r="2.30" fill="#e5786c" />
<circle cx="206.99" cy="358.99" r="2.30" fill="#e5786c" />
<circle cx="217.30" cy="351.01" r="2.30" fill="#e5786c" />
<circle cx="235.35" cy="332.13" r="2.30" fill="#e5786c" />
<circle cx="253.40" cy="335.04" r="2.30" fill="#e5786c" />
<circle cx="181.20" cy="338.67" r="2.30" fill="#80aad6" />
<circle cx="199.25" cy="363.35" r="2.30" fill="#80aad6" />
<circle cx="206.99" cy="376.42" r="2.30" fill="#80aad6" />
<circle cx="217.30" cy="364.08" r="2.30" fill="#80aad6" />
<circle cx="235.35" cy="348.83" r="2.30" fill="#80aad6" />
<circle cx="253.40" cy="337.21" r="2.30" fill="#80aad6" />
<text x="216.60" y="303.96" font-size="8.9" text-anchor="middle" fill="#231f20">PLT</text>
<text x="158.00" y="348.19" font-size="7.3" text-anchor="middle" fill="#231f20" transform="rotate(-90 158.00 345.60)">Cell number (x10<tspan dy="-2.5" font-size="4.5">12</tspan><tspan dy="2.5">/L)</tspan></text>
<text x="195.20" y="345.00" font-size="6.2" text-anchor="middle" fill="#231f20">0.003</text>
<text x="217.00" y="347.50" font-size="6.2" text-anchor="middle" fill="#231f20">&lt;0.001</text>
<text x="208.30" y="365.80" font-size="6.2" text-anchor="middle" fill="#231f20">&lt;0.001</text>
<text x="235.20" y="328.80" font-size="6.2" text-anchor="middle" fill="#231f20">&lt;0.001</text>
<text x="216.00" y="405.50" font-size="7.6" text-anchor="middle" fill="#231f20">Days after 8.0 Gy radiation</text>
<line x1="305.50" y1="309.00" x2="305.50" y2="381.50" stroke="#333" stroke-width="0.9" />
<line x1="305.50" y1="381.50" x2="378.50" y2="381.50" stroke="#333" stroke-width="0.9" />
<line x1="302.70" y1="381.50" x2="305.50" y2="381.50" stroke="#333" stroke-width="0.9" />
<text x="300.70" y="384.13" font-size="7.4" text-anchor="end" fill="#231f20">0</text>
<line x1="302.70" y1="367.00" x2="305.50" y2="367.00" stroke="#333" stroke-width="0.9" />
<text x="300.70" y="369.63" font-size="7.4" text-anchor="end" fill="#231f20">3</text>
<line x1="302.70" y1="352.50" x2="305.50" y2="352.50" stroke="#333" stroke-width="0.9" />
<text x="300.70" y="355.13" font-size="7.4" text-anchor="end" fill="#231f20">6</text>
<line x1="302.70" y1="338.00" x2="305.50" y2="338.00" stroke="#333" stroke-width="0.9" />
<text x="300.70" y="340.63" font-size="7.4" text-anchor="end" fill="#231f20">9</text>
<line x1="302.70" y1="323.50" x2="305.50" y2="323.50" stroke="#333" stroke-width="0.9" />
<text x="300.70" y="326.13" font-size="7.4" text-anchor="end" fill="#231f20">12</text>
<line x1="302.70" y1="309.00" x2="305.50" y2="309.00" stroke="#333" stroke-width="0.9" />
<text x="300.70" y="311.63" font-size="7.4" text-anchor="end" fill="#231f20">15</text>
<line x1="305.50" y1="381.50" x2="305.50" y2="384.30" stroke="#333" stroke-width="0.9" />
<text x="305.50" y="393.63" font-size="7.4" text-anchor="middle" fill="#231f20">0</text>
<line x1="323.75" y1="381.50" x2="323.75" y2="384.30" stroke="#333" stroke-width="0.9" />
<text x="323.75" y="393.63" font-size="7.4" text-anchor="middle" fill="#231f20">7</text>
<line x1="342.00" y1="381.50" x2="342.00" y2="384.30" stroke="#333" stroke-width="0.9" />
<text x="342.00" y="393.63" font-size="7.4" text-anchor="middle" fill="#231f20">14</text>
<line x1="360.25" y1="381.50" x2="360.25" y2="384.30" stroke="#333" stroke-width="0.9" />
<text x="360.25" y="393.63" font-size="7.4" text-anchor="middle" fill="#231f20">21</text>
<line x1="378.50" y1="381.50" x2="378.50" y2="384.30" stroke="#333" stroke-width="0.9" />
<text x="378.50" y="393.63" font-size="7.4" text-anchor="middle" fill="#231f20">28</text>
<line x1="360.25" y1="323.50" x2="360.25" y2="318.67" stroke="#333" stroke-width="0.7" />
<line x1="358.45" y1="318.67" x2="362.05" y2="318.67" stroke="#333" stroke-width="0.7" />
<line x1="358.45" y1="323.50" x2="362.05" y2="323.50" stroke="#333" stroke-width="0.7" />
<line x1="378.50" y1="335.10" x2="378.50" y2="330.27" stroke="#333" stroke-width="0.7" />
<line x1="376.70" y1="330.27" x2="380.30" y2="330.27" stroke="#333" stroke-width="0.7" />
<line x1="376.70" y1="335.10" x2="380.30" y2="335.10" stroke="#333" stroke-width="0.7" />
<polyline points="305.50,333.17 323.75,352.02 331.57,347.67 342.00,343.80 360.25,321.08 378.50,331.23" fill="none" stroke="#e5786c" stroke-width="1.6" stroke-linejoin="round" />
<polyline points="305.50,336.55 323.75,359.27 331.57,360.72 342.00,358.78 360.25,344.77 378.50,333.17" fill="none" stroke="#80aad6" stroke-width="1.6" stroke-linejoin="round" />
<circle cx="305.50" cy="333.17" r="2.30" fill="#e5786c" />
<circle cx="323.75" cy="352.02" r="2.30" fill="#e5786c" />
<circle cx="331.57" cy="347.67" r="2.30" fill="#e5786c" />
<circle cx="342.00" cy="343.80" r="2.30" fill="#e5786c" />
<circle cx="360.25" cy="321.08" r="2.30" fill="#e5786c" />
<circle cx="378.50" cy="331.23" r="2.30" fill="#e5786c" />
<circle cx="305.50" cy="336.55" r="2.30" fill="#80aad6" />
<circle cx="323.75" cy="359.27" r="2.30" fill="#80aad6" />
<circle cx="331.57" cy="360.72" r="2.30" fill="#80aad6" />
<circle cx="342.00" cy="358.78" r="2.30" fill="#80aad6" />
<circle cx="360.25" cy="344.77" r="2.30" fill="#80aad6" />
<circle cx="378.50" cy="333.17" r="2.30" fill="#80aad6" />
<text x="343.30" y="303.76" font-size="8.9" text-anchor="middle" fill="#231f20">RBC</text>
<text x="285.60" y="350.54" font-size="7.45" text-anchor="middle" fill="#231f20" transform="rotate(-90 285.60 347.90)">Cell number (x10<tspan dy="-2.5" font-size="4.5">12</tspan><tspan dy="2.5">/L)</tspan></text>
<text x="359.40" y="316.90" font-size="6.2" text-anchor="middle" fill="#231f20">&lt;0.001</text>
<text x="328.90" y="343.50" font-size="6.2" text-anchor="middle" fill="#231f20">&lt;0.001</text>
<text x="344.00" y="351.20" font-size="6.2" text-anchor="middle" fill="#231f20">&lt;0.001</text>
<text x="322.20" y="367.10" font-size="6.2" text-anchor="middle" fill="#231f20">&lt;0.001</text>
<circle cx="394.90" cy="311.50" r="2.60" fill="#80aad6" />
<text x="400.30" y="314.20" font-size="7.6" text-anchor="start" fill="#231f20">Veh</text>
<circle cx="394.90" cy="321.70" r="2.60" fill="#e5786c" />
<text x="400.30" y="324.40" font-size="7.6" text-anchor="start" fill="#231f20">BMP4</text>
<text x="434.30" y="292.20" font-size="14" text-anchor="start" fill="#231f20" font-weight="bold">g</text>
<svg x="458.00" y="295.30" width="73.20" height="46.40" viewBox="0 0 73.20 46.40" overflow="hidden">
<rect x="0.00" y="0.00" width="73.20" height="46.40" fill="#e9e4f1" />
<g filter="url(#blur1)">
<path d="M66.2,0 L73.2,0 L73.2,46.4 L63.2,46.4 Z" fill="#e4b6cb"/>
<path d="M63.2,0 L66.2,0 L62.2,32.5 L60.7,27.8 Z" fill="#fbf8fb"/>
<ellipse cx="49.8" cy="9.3" rx="10.2" ry="7.4" fill="#8e86c8"/>
<ellipse cx="7.3" cy="38.0" rx="6.6" ry="6.5" fill="#9890cc"/>
<ellipse cx="32.9" cy="27.8" rx="22.0" ry="13.9" fill="#c4bee2" opacity="0.7"/>
<ellipse cx="3.7" cy="23.2" rx="3.7" ry="5.6" fill="#ffffff"/>
</g>
<rect x="0" y="0" width="65.2" height="46.4" filter="url(#speckA)" opacity="0.85"/>
<line x1="13.18" y1="2.32" x2="10.25" y2="25.52" stroke="#ddb0c8" stroke-width="1.4" opacity="0.8"/>
<line x1="24.16" y1="0.00" x2="21.96" y2="16.24" stroke="#ddb0c8" stroke-width="1.4" opacity="0.8"/>
<line x1="32.94" y1="4.64" x2="30.74" y2="18.56" stroke="#ddb0c8" stroke-width="1.4" opacity="0.8"/>
<line x1="25.62" y1="39.44" x2="32.94" y2="37.12" stroke="#ddb0c8" stroke-width="1.4" opacity="0.8"/>
<path d="M15.5,25.3h0.5v0.5h-0.5zM39.4,29.0h0.4v0.4h-0.4zM0.9,38.9h0.5v0.5h-0.5zM15.3,46.2h0.6v0.6h-0.6zM54.5,22.1h0.6v0.6h-0.6zM9.8,29.5h0.7v0.7h-0.7zM34.1,34.4h0.7v0.7h-0.7zM4.2,35.2h0.6v0.6h-0.6zM19.6,1.4h0.7v0.7h-0.7zM30.8,33.4h0.7v0.7h-0.7zM46.6,42.7h0.5v0.5h-0.5zM52.2,20.6h0.8v0.8h-0.8zM57.3,4.5h0.4v0.4h-0.4zM14.1,44.8h0.5v0.5h-0.5zM40.9,14.0h0.6v0.6h-0.6zM25.2,16.3h0.6v0.6h-0.6zM38.1,42.0h0.7v0.7h-0.7zM60.6,39.7h0.8v0.8h-0.8zM43.8,7.6h0.7v0.7h-0.7zM62.9,42.0h0.6v0.6h-0.6zM46.5,9.8h0.7v0.7h-0.7zM37.4,13.2h0.4v0.4h-0.4zM55.7,45.9h0.4v0.4h-0.4zM52.2,19.0h0.4v0.4h-0.4zM19.2,35.7h0.7v0.7h-0.7zM2.9,28.5h0.4v0.4h-0.4zM46.8,15.4h0.7v0.7h-0.7zM63.9,23.5h0.8v0.8h-0.8zM20.2,3.6h0.6v0.6h-0.6zM2.0,9.2h0.5v0.5h-0.5zM39.8,7.2h0.4v0.4h-0.4zM56.6,14.6h0.8v0.8h-0.8zM58.5,17.5h0.6v0.6h-0.6zM33.9,29.9h0.6v0.6h-0.6zM36.5,28.8h0.8v0.8h-0.8zM33.1,20.0h0.7v0.7h-0.7zM15.5,14.0h0.8v0.8h-0.8zM34.0,25.4h0.4v0.4h-0.4zM27.1,26.9h0.4v0.4h-0.4zM40.2,29.3h0.4v0.4h-0.4zM40.9,21.6h0.7v0.7h-0.7zM23.0,32.8h0.7v0.7h-0.7zM1.4,2.8h0.7v0.7h-0.7zM62.8,11.7h0.6v0.6h-0.6zM38.6,14.8h0.5v0.5h-0.5zM20.4,17.1h0.6v0.6h-0.6zM19.6,17.5h0.7v0.7h-0.7zM1.8,26.4h0.7v0.7h-0.7zM20.2,10.3h0.7v0.7h-0.7zM15.6,8.7h0.5v0.5h-0.5zM45.5,4.7h0.5v0.5h-0.5zM21.8,38.7h0.5v0.5h-0.5zM55.8,7.9h0.5v0.5h-0.5zM42.4,41.1h0.6v0.6h-0.6zM14.7,5.6h0.6v0.6h-0.6zM12.4,37.4h0.7v0.7h-0.7zM12.0,12.9h0.7v0.7h-0.7zM41.9,37.4h0.5v0.5h-0.5zM8.5,13.5h0.7v0.7h-0.7zM17.7,16.1h0.5v0.5h-0.5zM27.4,19.0h0.8v0.8h-0.8zM10.2,0.2h0.8v0.8h-0.8zM57.4,45.8h0.5v0.5h-0.5zM62.0,43.0h0.4v0.4h-0.4zM48.6,38.8h0.6v0.6h-0.6zM33.8,13.4h0.5v0.5h-0.5zM14.8,3.2h0.6v0.6h-0.6zM18.7,37.6h0.4v0.4h-0.4zM58.9,32.2h0.8v0.8h-0.8zM58.5,41.7h0.6v0.6h-0.6zM0.9,34.6h0.4v0.4h-0.4zM19.6,30.8h0.6v0.6h-0.6zM27.0,43.6h0.6v0.6h-0.6zM22.3,11.7h0.7v0.7h-0.7zM31.1,36.3h0.5v0.5h-0.5zM12.9,24.8h0.7v0.7h-0.7zM11.2,36.7h0.8v0.8h-0.8zM52.6,38.2h0.4v0.4h-0.4zM41.0,40.0h0.4v0.4h-0.4zM17.7,12.5h0.6v0.6h-0.6zM27.6,21.9h0.7v0.7h-0.7zM0.1,2.5h0.4v0.4h-0.4zM8.1,3.2h0.8v0.8h-0.8zM55.7,4.0h0.6v0.6h-0.6zM20.6,14.6h0.5v0.5h-0.5zM42.2,27.2h0.5v0.5h-0.5zM12.5,15.3h0.4v0.4h-0.4zM36.2,33.2h0.5v0.5h-0.5zM5.2,8.3h0.5v0.5h-0.5zM39.4,36.3h0.5v0.5h-0.5zM52.2,28.9h0.5v0.5h-0.5zM24.3,23.0h0.7v0.7h-0.7zM27.4,32.2h0.6v0.6h-0.6zM16.0,24.9h0.7v0.7h-0.7zM4.7,19.7h0.5v0.5h-0.5zM57.4,43.5h0.5v0.5h-0.5zM58.5,36.7h0.5v0.5h-0.5zM30.3,5.7h0.7v0.7h-0.7zM43.2,41.2h0.7v0.7h-0.7zM43.5,34.0h0.6v0.6h-0.6zM6.7,27.3h0.4v0.4h-0.4zM9.4,35.9h0.4v0.4h-0.4zM6.0,4.6h0.7v0.7h-0.7zM11.7,1.1h0.7v0.7h-0.7zM7.9,39.2h0.7v0.7h-0.7zM54.5,44.2h0.6v0.6h-0.6zM52.1,1.7h0.7v0.7h-0.7zM33.3,33.2h0.4v0.4h-0.4zM48.8,43.4h0.4v0.4h-0.4zM21.1,26.2h0.7v0.7h-0.7zM15.8,8.3h0.5v0.5h-0.5zM40.2,35.0h0.5v0.5h-0.5zM24.0,18.4h0.5v0.5h-0.5zM27.3,3.9h0.6v0.6h-0.6zM63.4,19.2h0.7v0.7h-0.7zM10.5,32.1h0.7v0.7h-0.7zM43.9,24.0h0.6v0.6h-0.6zM41.9,41.6h0.4v0.4h-0.4zM6.3,34.7h0.8v0.8h-0.8zM33.7,20.6h0.7v0.7h-0.7zM12.1,12.4h0.4v0.4h-0.4zM38.2,14.6h0.5v0.5h-0.5zM45.1,44.2h0.5v0.5h-0.5zM46.0,19.2h0.7v0.7h-0.7zM38.1,12.4h0.4v0.4h-0.4zM1.5,22.2h0.5v0.5h-0.5zM11.2,16.7h0.5v0.5h-0.5zM50.5,6.7h0.8v0.8h-0.8zM31.3,27.8h0.6v0.6h-0.6zM54.4,38.1h0.6v0.6h-0.6zM31.4,33.4h0.7v0.7h-0.7zM26.1,34.0h0.8v0.8h-0.8zM30.5,10.7h0.5v0.5h-0.5zM46.8,31.3h0.8v0.8h-0.8zM55.7,11.2h0.4v0.4h-0.4zM16.9,8.7h0.7v0.7h-0.7zM56.0,41.7h0.5v0.5h-0.5zM56.4,14.5h0.5v0.5h-0.5zM47.5,4.0h0.4v0.4h-0.4zM54.4,13.5h0.5v0.5h-0.5zM37.8,31.3h0.4v0.4h-0.4zM21.8,20.2h0.6v0.6h-0.6zM13.7,27.1h0.8v0.8h-0.8zM25.5,25.3h0.4v0.4h-0.4zM17.9,30.9h0.4v0.4h-0.4zM57.8,42.2h0.4v0.4h-0.4zM61.4,17.4h0.7v0.7h-0.7zM49.4,13.7h0.7v0.7h-0.7zM42.6,37.4h0.5v0.5h-0.5zM49.2,44.6h0.7v0.7h-0.7zM35.0,5.3h0.6v0.6h-0.6zM23.0,33.3h0.7v0.7h-0.7zM36.9,8.4h0.6v0.6h-0.6zM41.1,8.3h0.8v0.8h-0.8zM42.7,5.7h0.8v0.8h-0.8zM9.2,15.4h0.7v0.7h-0.7zM39.0,25.7h0.6v0.6h-0.6zM29.8,14.5h0.4v0.4h-0.4zM4.5,33.2h0.7v0.7h-0.7zM35.4,34.3h0.5v0.5h-0.5zM17.3,17.8h0.7v0.7h-0.7zM2.7,23.4h0.5v0.5h-0.5zM50.1,16.4h0.5v0.5h-0.5zM26.3,25.1h0.7v0.7h-0.7zM23.0,39.3h0.4v0.4h-0.4zM17.6,4.6h0.4v0.4h-0.4zM50.8,33.7h0.4v0.4h-0.4zM12.3,19.3h0.7v0.7h-0.7zM53.2,34.7h0.6v0.6h-0.6zM9.5,18.5h0.4v0.4h-0.4zM34.4,26.4h0.4v0.4h-0.4zM16.3,36.3h0.4v0.4h-0.4zM52.4,41.4h0.8v0.8h-0.8zM25.0,25.6h0.6v0.6h-0.6zM41.3,45.3h0.7v0.7h-0.7zM19.5,39.9h0.6v0.6h-0.6zM39.2,33.7h0.4v0.4h-0.4zM50.2,30.7h0.6v0.6h-0.6zM34.1,21.4h0.4v0.4h-0.4zM34.5,1.7h0.6v0.6h-0.6zM42.1,20.6h0.6v0.6h-0.6zM62.5,41.4h0.4v0.4h-0.4zM51.7,28.9h0.4v0.4h-0.4zM23.5,10.8h0.4v0.4h-0.4zM35.1,43.1h0.5v0.5h-0.5zM56.8,32.2h0.4v0.4h-0.4zM56.0,27.9h0.8v0.8h-0.8zM46.7,34.3h0.5v0.5h-0.5zM52.6,43.2h0.7v0.7h-0.7zM28.5,35.1h0.6v0.6h-0.6zM7.1,2.0h0.4v0.4h-0.4zM13.1,7.5h0.6v0.6h-0.6zM45.6,24.9h0.5v0.5h-0.5zM42.3,14.1h0.6v0.6h-0.6zM49.4,18.6h0.4v0.4h-0.4zM58.6,33.4h0.5v0.5h-0.5zM24.2,24.6h0.6v0.6h-0.6zM14.6,0.1h0.4v0.4h-0.4zM51.1,6.7h0.6v0.6h-0.6zM12.7,9.7h0.4v0.4h-0.4zM26.3,7.8h0.4v0.4h-0.4zM7.2,7.8h0.6v0.6h-0.6zM3.9,1.0h0.6v0.6h-0.6zM26.6,32.6h0.4v0.4h-0.4zM26.3,18.4h0.4v0.4h-0.4zM63.0,10.2h0.4v0.4h-0.4zM30.9,7.6h0.6v0.6h-0.6zM22.6,5.8h0.4v0.4h-0.4zM47.4,12.8h0.7v0.7h-0.7zM30.3,43.3h0.5v0.5h-0.5zM16.3,12.3h0.7v0.7h-0.7zM41.0,16.0h0.4v0.4h-0.4zM44.5,45.0h0.6v0.6h-0.6zM0.2,1.4h0.4v0.4h-0.4zM11.1,1.7h0.4v0.4h-0.4zM42.7,41.8h0.4v0.4h-0.4zM63.5,22.1h0.7v0.7h-0.7zM59.8,43.6h0.4v0.4h-0.4zM19.9,28.2h0.8v0.8h-0.8zM5.7,13.6h0.7v0.7h-0.7zM7.5,18.1h0.5v0.5h-0.5zM44.3,43.1h0.4v0.4h-0.4zM48.2,34.1h0.7v0.7h-0.7zM36.1,42.9h0.5v0.5h-0.5zM27.0,10.6h0.7v0.7h-0.7zM31.3,12.5h0.4v0.4h-0.4zM47.0,28.1h0.7v0.7h-0.7zM25.2,22.6h0.4v0.4h-0.4zM46.3,1.1h0.6v0.6h-0.6zM49.5,31.4h0.4v0.4h-0.4zM15.5,39.1h0.6v0.6h-0.6zM57.3,40.5h0.6v0.6h-0.6zM58.5,34.0h0.5v0.5h-0.5zM24.1,3.3h0.5v0.5h-0.5zM62.3,4.9h0.6v0.6h-0.6zM7.2,3.8h0.6v0.6h-0.6zM15.7,2.3h0.4v0.4h-0.4zM42.0,27.2h0.4v0.4h-0.4zM15.0,44.9h0.4v0.4h-0.4zM36.7,19.5h0.7v0.7h-0.7zM39.4,36.6h0.6v0.6h-0.6zM12.3,8.2h0.4v0.4h-0.4zM53.8,5.2h0.4v0.4h-0.4zM63.0,9.2h0.8v0.8h-0.8zM5.6,21.6h0.5v0.5h-0.5zM54.1,28.6h0.6v0.6h-0.6zM49.6,40.4h0.5v0.5h-0.5zM39.3,20.7h0.4v0.4h-0.4zM54.5,27.6h0.7v0.7h-0.7zM13.4,25.0h0.6v0.6h-0.6zM47.5,3.6h0.5v0.5h-0.5zM31.6,3.3h0.6v0.6h-0.6zM47.9,19.6h0.6v0.6h-0.6zM39.5,9.9h0.5v0.5h-0.5zM64.9,15.6h0.5v0.5h-0.5zM5.5,10.1h0.4v0.4h-0.4zM60.7,33.7h0.7v0.7h-0.7zM64.3,28.4h0.8v0.8h-0.8zM34.9,19.4h0.8v0.8h-0.8zM58.9,44.1h0.6v0.6h-0.6zM50.4,18.9h0.8v0.8h-0.8zM60.0,13.6h0.8v0.8h-0.8zM12.0,4.4h0.7v0.7h-0.7zM19.2,24.1h0.6v0.6h-0.6zM2.6,34.6h0.5v0.5h-0.5zM28.2,16.0h0.7v0.7h-0.7zM48.7,13.3h0.4v0.4h-0.4zM19.5,19.1h0.4v0.4h-0.4zM10.0,35.4h0.7v0.7h-0.7zM63.7,45.5h0.7v0.7h-0.7zM24.3,7.5h0.5v0.5h-0.5zM30.2,24.4h0.6v0.6h-0.6zM23.5,39.6h0.5v0.5h-0.5zM30.2,41.1h0.7v0.7h-0.7zM19.4,11.3h0.7v0.7h-0.7zM0.7,6.1h0.6v0.6h-0.6zM34.9,7.7h0.4v0.4h-0.4zM13.3,35.7h0.6v0.6h-0.6zM63.8,36.4h0.8v0.8h-0.8zM2.3,8.6h0.4v0.4h-0.4zM28.2,15.7h0.4v0.4h-0.4zM35.6,4.4h0.5v0.5h-0.5zM16.1,37.2h0.5v0.5h-0.5zM17.0,2.0h0.5v0.5h-0.5zM40.9,31.3h0.8v0.8h-0.8zM52.7,11.5h0.4v0.4h-0.4zM49.4,36.6h0.6v0.6h-0.6zM54.2,25.6h0.5v0.5h-0.5zM11.0,0.8h0.6v0.6h-0.6zM58.5,42.0h0.6v0.6h-0.6zM43.4,43.1h0.7v0.7h-0.7zM39.3,19.2h0.6v0.6h-0.6zM11.1,8.5h0.7v0.7h-0.7zM64.7,25.4h0.5v0.5h-0.5zM22.9,21.1h0.7v0.7h-0.7zM29.5,44.5h0.4v0.4h-0.4zM20.5,24.2h0.5v0.5h-0.5zM55.5,38.4h0.8v0.8h-0.8zM39.9,1.4h0.6v0.6h-0.6zM35.8,22.6h0.5v0.5h-0.5z" fill="#7c74c0" opacity="0.75"/>
<path d="M47.0,0.8h0.9v0.9h-0.9zM55.7,12.8h0.9v0.9h-0.9zM45.6,12.8h0.9v0.9h-0.9zM59.8,3.1h0.9v0.9h-0.9zM47.7,7.2h0.9v0.9h-0.9zM52.6,8.1h0.9v0.9h-0.9zM42.8,14.3h0.9v0.9h-0.9zM48.2,12.2h0.9v0.9h-0.9zM61.2,6.3h0.9v0.9h-0.9zM47.7,12.9h0.9v0.9h-0.9zM49.2,11.4h0.9v0.9h-0.9zM49.8,20.5h0.9v0.9h-0.9zM52.9,10.7h0.9v0.9h-0.9zM50.4,10.8h0.9v0.9h-0.9zM41.6,8.2h0.9v0.9h-0.9zM53.5,4.5h0.9v0.9h-0.9zM50.0,8.9h0.9v0.9h-0.9zM47.2,19.3h0.9v0.9h-0.9zM53.4,10.6h0.9v0.9h-0.9zM45.9,9.6h0.9v0.9h-0.9zM48.3,8.9h0.9v0.9h-0.9zM50.9,19.3h0.9v0.9h-0.9zM56.5,16.1h0.9v0.9h-0.9zM56.7,20.6h0.9v0.9h-0.9zM46.5,4.1h0.9v0.9h-0.9zM50.8,10.3h0.9v0.9h-0.9zM50.0,6.8h0.9v0.9h-0.9zM53.2,16.2h0.9v0.9h-0.9zM50.9,8.4h0.9v0.9h-0.9zM55.8,8.1h0.9v0.9h-0.9zM48.0,10.6h0.9v0.9h-0.9zM38.4,16.8h0.9v0.9h-0.9zM49.3,11.4h0.9v0.9h-0.9zM51.4,10.9h0.9v0.9h-0.9zM43.1,16.4h0.9v0.9h-0.9zM52.7,10.5h0.9v0.9h-0.9zM65.5,4.2h0.9v0.9h-0.9zM53.5,8.9h0.9v0.9h-0.9zM42.3,17.1h0.9v0.9h-0.9zM42.0,9.9h0.9v0.9h-0.9zM49.4,10.0h0.9v0.9h-0.9zM45.1,14.8h0.9v0.9h-0.9zM51.1,4.2h0.9v0.9h-0.9zM43.7,10.4h0.9v0.9h-0.9zM44.0,11.0h0.9v0.9h-0.9zM51.4,7.0h0.9v0.9h-0.9zM40.1,4.1h0.9v0.9h-0.9zM51.6,7.2h0.9v0.9h-0.9zM59.1,7.5h0.9v0.9h-0.9zM51.7,12.0h0.9v0.9h-0.9zM50.3,10.5h0.9v0.9h-0.9zM54.9,8.7h0.9v0.9h-0.9zM51.5,7.9h0.9v0.9h-0.9zM59.8,10.0h0.9v0.9h-0.9zM54.0,-2.6h0.9v0.9h-0.9zM47.4,4.8h0.9v0.9h-0.9zM50.0,7.5h0.9v0.9h-0.9zM44.6,8.2h0.9v0.9h-0.9zM53.9,13.6h0.9v0.9h-0.9zM47.1,13.5h0.9v0.9h-0.9zM46.7,11.8h0.9v0.9h-0.9zM45.5,13.5h0.9v0.9h-0.9zM61.4,8.1h0.9v0.9h-0.9zM55.9,3.5h0.9v0.9h-0.9zM46.6,20.0h0.9v0.9h-0.9zM49.5,11.3h0.9v0.9h-0.9zM41.7,9.2h0.9v0.9h-0.9zM45.9,14.1h0.9v0.9h-0.9zM47.1,19.5h0.9v0.9h-0.9zM44.3,10.6h0.9v0.9h-0.9zM39.8,7.7h0.9v0.9h-0.9zM55.9,8.9h0.9v0.9h-0.9zM43.3,11.3h0.9v0.9h-0.9zM54.5,11.1h0.9v0.9h-0.9zM54.8,3.6h0.9v0.9h-0.9zM58.9,12.1h0.9v0.9h-0.9zM39.3,16.8h0.9v0.9h-0.9zM47.5,11.3h0.9v0.9h-0.9zM39.9,6.8h0.9v0.9h-0.9zM40.7,12.7h0.9v0.9h-0.9zM48.6,5.6h0.9v0.9h-0.9zM47.9,13.8h0.9v0.9h-0.9zM45.9,11.6h0.9v0.9h-0.9zM43.9,2.6h0.9v0.9h-0.9zM47.4,8.1h0.9v0.9h-0.9zM50.7,13.1h0.9v0.9h-0.9zM47.7,7.8h0.9v0.9h-0.9zM53.6,11.0h0.9v0.9h-0.9zM49.5,10.2h0.9v0.9h-0.9zM38.8,7.1h0.9v0.9h-0.9zM41.8,7.9h0.9v0.9h-0.9zM54.3,2.6h0.9v0.9h-0.9zM54.4,7.0h0.9v0.9h-0.9zM48.7,7.4h0.9v0.9h-0.9zM53.3,6.6h0.9v0.9h-0.9zM39.4,10.6h0.9v0.9h-0.9zM49.0,11.8h0.9v0.9h-0.9zM52.8,4.4h0.9v0.9h-0.9zM50.8,9.8h0.9v0.9h-0.9zM49.4,9.7h0.9v0.9h-0.9zM51.4,7.1h0.9v0.9h-0.9zM49.0,13.2h0.9v0.9h-0.9zM44.5,9.0h0.9v0.9h-0.9zM44.7,5.0h0.9v0.9h-0.9zM47.7,10.0h0.9v0.9h-0.9zM57.4,8.5h0.9v0.9h-0.9zM54.4,11.4h0.9v0.9h-0.9zM50.1,-3.1h0.9v0.9h-0.9zM50.4,9.5h0.9v0.9h-0.9zM44.6,9.8h0.9v0.9h-0.9zM57.1,4.7h0.9v0.9h-0.9zM47.2,12.9h0.9v0.9h-0.9zM40.8,5.1h0.9v0.9h-0.9zM51.3,13.1h0.9v0.9h-0.9zM55.9,12.3h0.9v0.9h-0.9zM61.3,10.8h0.9v0.9h-0.9zM43.3,8.5h0.9v0.9h-0.9zM52.9,10.8h0.9v0.9h-0.9zM40.1,10.8h0.9v0.9h-0.9zM45.8,8.5h0.9v0.9h-0.9z" fill="#5e56b0" opacity="0.8"/>
</svg>
<rect x="458.00" y="295.30" width="73.20" height="46.40" fill="none" stroke="#555" stroke-width="0.9"/>
<svg x="458.00" y="344.20" width="73.20" height="47.00" viewBox="0 0 73.20 47.00" overflow="hidden">
<rect x="0.00" y="0.00" width="73.20" height="47.00" fill="#e8a2bf" />
<g filter="url(#blur1)">
<path d="M0,6 C8,4 14,6 20,4 C28,2 36,4 40,10 C44,18 47,26 52,32 C56,38 58,44 58,47.0 L0,47.0 Z" fill="#a292cc"/>
<path d="M0,0 L12,0 C10,8 6,16 4,30 L0,47.0 Z" fill="#c8a8d0" opacity="0.7"/>
<ellipse cx="63.0" cy="15.5" rx="3.6" ry="3.6" fill="#a08ecc"/>
<path d="M58,30 C62,26 68,26 73,30 L73,47.0 L60,47.0 Z" fill="#a694cc"/>
</g>
<path d="M33.9,17.5h0.4v0.4h-0.4zM63.4,0.3h0.6v0.6h-0.6zM65.8,3.8h0.6v0.6h-0.6zM45.1,1.9h0.5v0.5h-0.5zM51.5,21.2h0.7v0.7h-0.7zM11.5,11.2h0.4v0.4h-0.4zM37.1,43.4h0.6v0.6h-0.6zM56.7,18.0h0.7v0.7h-0.7zM7.4,13.7h0.7v0.7h-0.7zM53.1,19.8h0.4v0.4h-0.4zM19.5,9.9h0.5v0.5h-0.5zM59.3,9.4h0.7v0.7h-0.7zM64.4,2.6h0.5v0.5h-0.5zM36.0,1.1h0.5v0.5h-0.5zM66.3,5.3h0.6v0.6h-0.6zM8.9,27.2h0.8v0.8h-0.8zM14.9,0.4h0.4v0.4h-0.4zM39.5,0.8h0.4v0.4h-0.4zM36.4,43.3h0.5v0.5h-0.5zM29.1,30.0h0.4v0.4h-0.4zM42.4,8.1h0.6v0.6h-0.6zM70.1,2.5h0.6v0.6h-0.6zM44.4,7.0h0.5v0.5h-0.5zM72.8,46.9h0.4v0.4h-0.4zM51.6,44.7h0.5v0.5h-0.5zM44.7,2.0h0.5v0.5h-0.5zM49.3,27.7h0.7v0.7h-0.7zM6.3,16.3h0.7v0.7h-0.7zM42.8,21.2h0.5v0.5h-0.5zM72.2,27.0h0.4v0.4h-0.4zM58.5,15.4h0.5v0.5h-0.5zM15.6,20.9h0.5v0.5h-0.5zM6.5,29.6h0.4v0.4h-0.4zM57.4,1.2h0.7v0.7h-0.7zM59.1,23.4h0.7v0.7h-0.7zM18.2,34.7h0.5v0.5h-0.5zM16.9,45.3h0.5v0.5h-0.5zM27.3,40.4h0.5v0.5h-0.5zM48.9,8.0h0.7v0.7h-0.7zM19.0,2.4h0.8v0.8h-0.8zM12.6,44.5h0.8v0.8h-0.8zM44.4,0.6h0.4v0.4h-0.4zM15.3,18.3h0.6v0.6h-0.6zM70.7,16.7h0.4v0.4h-0.4zM41.1,6.5h0.4v0.4h-0.4zM40.7,32.7h0.4v0.4h-0.4zM33.0,33.1h0.7v0.7h-0.7zM28.0,41.7h0.4v0.4h-0.4zM52.4,36.3h0.7v0.7h-0.7zM36.2,4.7h0.4v0.4h-0.4zM38.7,8.1h0.6v0.6h-0.6zM6.2,36.7h0.5v0.5h-0.5zM1.0,8.3h0.6v0.6h-0.6zM40.9,18.2h0.4v0.4h-0.4zM35.3,44.5h0.6v0.6h-0.6zM68.9,1.4h0.8v0.8h-0.8zM65.1,25.6h0.6v0.6h-0.6zM39.3,42.7h0.4v0.4h-0.4zM47.1,25.5h0.5v0.5h-0.5zM53.1,33.9h0.4v0.4h-0.4zM51.2,21.3h0.6v0.6h-0.6zM46.6,2.5h0.6v0.6h-0.6zM27.3,41.3h0.5v0.5h-0.5zM60.3,34.3h0.6v0.6h-0.6zM64.1,1.7h0.6v0.6h-0.6zM44.9,31.9h0.5v0.5h-0.5zM5.0,8.9h0.6v0.6h-0.6zM13.3,3.0h0.5v0.5h-0.5zM34.4,25.2h0.4v0.4h-0.4zM56.8,15.7h0.7v0.7h-0.7zM0.6,44.8h0.6v0.6h-0.6zM71.5,46.4h0.7v0.7h-0.7zM7.8,16.4h0.5v0.5h-0.5zM57.1,9.0h0.4v0.4h-0.4zM8.1,5.6h0.8v0.8h-0.8zM71.5,17.5h0.7v0.7h-0.7zM34.2,24.5h0.5v0.5h-0.5zM46.5,11.1h0.5v0.5h-0.5zM37.9,9.3h0.5v0.5h-0.5zM69.1,1.0h0.4v0.4h-0.4zM58.6,2.7h0.5v0.5h-0.5zM62.3,28.4h0.4v0.4h-0.4zM4.3,12.9h0.5v0.5h-0.5zM58.6,45.9h0.7v0.7h-0.7zM66.0,43.7h0.7v0.7h-0.7zM67.3,45.5h0.4v0.4h-0.4zM23.3,11.6h0.6v0.6h-0.6zM36.0,16.3h0.7v0.7h-0.7zM29.2,9.8h0.5v0.5h-0.5zM33.8,28.7h0.6v0.6h-0.6zM32.2,8.8h0.5v0.5h-0.5zM23.8,8.0h0.6v0.6h-0.6zM13.8,33.4h0.6v0.6h-0.6zM10.1,29.4h0.5v0.5h-0.5zM32.7,28.5h0.7v0.7h-0.7zM64.7,34.5h0.4v0.4h-0.4zM39.7,15.8h0.4v0.4h-0.4zM40.4,22.1h0.7v0.7h-0.7zM23.7,39.2h0.6v0.6h-0.6zM7.3,33.7h0.5v0.5h-0.5zM39.1,3.4h0.4v0.4h-0.4zM67.4,2.0h0.4v0.4h-0.4zM12.0,4.5h0.7v0.7h-0.7zM72.9,30.5h0.5v0.5h-0.5zM65.0,23.8h0.4v0.4h-0.4zM50.5,16.9h0.5v0.5h-0.5zM23.5,18.1h0.4v0.4h-0.4zM44.8,40.8h0.6v0.6h-0.6zM0.7,32.2h0.4v0.4h-0.4zM35.0,40.7h0.7v0.7h-0.7zM66.5,35.5h0.5v0.5h-0.5zM10.5,21.2h0.7v0.7h-0.7zM17.0,15.6h0.7v0.7h-0.7zM25.4,28.2h0.6v0.6h-0.6zM68.0,1.2h0.4v0.4h-0.4zM57.0,31.4h0.4v0.4h-0.4zM9.8,9.9h0.6v0.6h-0.6zM66.1,10.2h0.4v0.4h-0.4zM50.2,19.9h0.7v0.7h-0.7zM73.1,44.0h0.7v0.7h-0.7zM36.3,2.9h0.7v0.7h-0.7zM29.2,21.8h0.6v0.6h-0.6zM70.6,26.1h0.8v0.8h-0.8zM70.6,4.0h0.5v0.5h-0.5zM65.0,36.1h0.8v0.8h-0.8zM13.6,25.0h0.8v0.8h-0.8zM39.5,31.5h0.8v0.8h-0.8zM12.7,2.7h0.7v0.7h-0.7zM42.5,9.4h0.7v0.7h-0.7zM20.8,6.1h0.5v0.5h-0.5zM2.6,19.1h0.7v0.7h-0.7zM33.2,45.3h0.4v0.4h-0.4zM12.7,6.8h0.6v0.6h-0.6zM14.6,31.4h0.6v0.6h-0.6zM42.5,39.7h0.7v0.7h-0.7zM67.5,7.1h0.5v0.5h-0.5zM70.3,18.7h0.5v0.5h-0.5zM35.3,8.5h0.7v0.7h-0.7zM46.6,4.4h0.8v0.8h-0.8zM38.1,11.9h0.6v0.6h-0.6zM69.5,16.3h0.4v0.4h-0.4zM14.5,2.8h0.6v0.6h-0.6zM22.8,40.0h0.4v0.4h-0.4zM1.1,21.8h0.4v0.4h-0.4zM22.7,10.6h0.4v0.4h-0.4zM46.6,44.0h0.5v0.5h-0.5zM46.7,15.2h0.8v0.8h-0.8zM40.5,1.4h0.7v0.7h-0.7zM15.4,2.2h0.4v0.4h-0.4zM61.5,33.4h0.5v0.5h-0.5zM40.8,33.2h0.4v0.4h-0.4zM51.7,33.3h0.8v0.8h-0.8zM4.3,26.9h0.6v0.6h-0.6zM61.9,17.1h0.6v0.6h-0.6zM65.7,16.4h0.6v0.6h-0.6zM65.4,1.6h0.8v0.8h-0.8zM22.9,21.5h0.5v0.5h-0.5zM58.4,25.0h0.7v0.7h-0.7zM7.6,41.4h0.7v0.7h-0.7zM49.8,10.5h0.5v0.5h-0.5zM33.1,3.1h0.8v0.8h-0.8zM29.9,44.8h0.4v0.4h-0.4zM47.4,37.5h0.6v0.6h-0.6zM31.0,0.9h0.5v0.5h-0.5zM28.6,44.4h0.8v0.8h-0.8zM70.0,46.1h0.4v0.4h-0.4zM2.2,13.7h0.4v0.4h-0.4zM8.7,27.1h0.4v0.4h-0.4zM44.7,17.9h0.5v0.5h-0.5zM71.0,8.8h0.7v0.7h-0.7zM38.6,31.2h0.4v0.4h-0.4zM54.5,41.8h0.4v0.4h-0.4zM34.6,30.7h0.6v0.6h-0.6zM55.0,30.3h0.5v0.5h-0.5zM49.9,36.3h0.6v0.6h-0.6zM43.2,29.8h0.6v0.6h-0.6zM6.5,19.2h0.7v0.7h-0.7zM53.0,3.5h0.6v0.6h-0.6zM43.0,25.0h0.4v0.4h-0.4zM47.3,32.8h0.6v0.6h-0.6zM68.8,27.1h0.4v0.4h-0.4zM20.9,33.0h0.4v0.4h-0.4zM70.6,32.9h0.7v0.7h-0.7zM12.4,0.3h0.7v0.7h-0.7zM37.4,20.8h0.6v0.6h-0.6zM56.2,17.5h0.7v0.7h-0.7zM11.9,46.1h0.7v0.7h-0.7zM23.3,22.4h0.7v0.7h-0.7zM23.8,32.9h0.8v0.8h-0.8zM70.3,12.0h0.7v0.7h-0.7zM44.6,38.0h0.4v0.4h-0.4zM30.2,21.2h0.7v0.7h-0.7zM33.1,2.0h0.4v0.4h-0.4zM60.9,41.5h0.6v0.6h-0.6zM5.8,36.3h0.7v0.7h-0.7zM21.0,22.6h0.5v0.5h-0.5zM3.9,34.5h0.4v0.4h-0.4zM6.4,42.7h0.4v0.4h-0.4zM55.6,38.3h0.5v0.5h-0.5zM27.2,10.5h0.7v0.7h-0.7zM71.3,35.0h0.6v0.6h-0.6zM39.3,19.2h0.7v0.7h-0.7zM19.7,11.5h0.7v0.7h-0.7zM18.7,46.5h0.7v0.7h-0.7zM13.5,1.0h0.6v0.6h-0.6zM9.8,23.5h0.6v0.6h-0.6zM59.2,18.2h0.6v0.6h-0.6zM59.6,6.3h0.5v0.5h-0.5zM59.2,16.8h0.8v0.8h-0.8zM6.1,4.0h0.5v0.5h-0.5zM34.0,17.3h0.4v0.4h-0.4zM32.8,42.0h0.8v0.8h-0.8zM45.8,12.1h0.6v0.6h-0.6zM11.5,3.0h0.7v0.7h-0.7zM19.5,7.6h0.7v0.7h-0.7zM9.0,11.1h0.4v0.4h-0.4zM65.3,32.0h0.4v0.4h-0.4zM5.3,42.6h0.4v0.4h-0.4zM52.3,32.4h0.6v0.6h-0.6zM35.1,19.5h0.5v0.5h-0.5zM47.3,7.1h0.6v0.6h-0.6zM19.0,17.3h0.8v0.8h-0.8zM41.5,30.3h0.6v0.6h-0.6zM0.1,36.8h0.7v0.7h-0.7zM54.6,24.5h0.7v0.7h-0.7zM69.1,13.0h0.4v0.4h-0.4zM24.7,0.9h0.5v0.5h-0.5zM6.0,0.4h0.5v0.5h-0.5zM0.5,22.6h0.7v0.7h-0.7zM52.2,2.5h0.7v0.7h-0.7zM13.9,37.9h0.6v0.6h-0.6zM39.8,20.5h0.8v0.8h-0.8zM15.4,42.2h0.4v0.4h-0.4zM6.9,10.1h0.4v0.4h-0.4zM60.8,8.7h0.6v0.6h-0.6zM20.1,16.8h0.7v0.7h-0.7zM40.2,12.6h0.7v0.7h-0.7zM10.5,1.9h0.7v0.7h-0.7zM62.4,36.0h0.7v0.7h-0.7zM68.1,43.5h0.6v0.6h-0.6zM13.0,27.2h0.5v0.5h-0.5zM51.9,16.4h0.4v0.4h-0.4zM14.2,6.7h0.7v0.7h-0.7zM50.4,25.0h0.5v0.5h-0.5zM53.4,21.0h0.6v0.6h-0.6zM14.4,46.9h0.5v0.5h-0.5zM34.5,9.8h0.6v0.6h-0.6zM34.5,20.0h0.7v0.7h-0.7zM24.5,29.3h0.7v0.7h-0.7zM9.9,38.7h0.4v0.4h-0.4zM18.9,39.1h0.4v0.4h-0.4zM20.2,19.4h0.8v0.8h-0.8zM70.9,10.2h0.6v0.6h-0.6zM60.7,24.2h0.5v0.5h-0.5zM11.2,3.3h0.4v0.4h-0.4zM3.5,34.0h0.6v0.6h-0.6zM4.9,44.0h0.8v0.8h-0.8zM30.4,17.0h0.7v0.7h-0.7zM48.7,35.0h0.4v0.4h-0.4zM53.3,20.8h0.4v0.4h-0.4zM3.5,12.4h0.5v0.5h-0.5zM19.7,42.8h0.5v0.5h-0.5zM15.2,4.9h0.4v0.4h-0.4zM29.7,19.8h0.4v0.4h-0.4zM37.8,16.2h0.4v0.4h-0.4zM34.7,7.4h0.4v0.4h-0.4zM55.1,20.1h0.5v0.5h-0.5zM40.6,34.5h0.6v0.6h-0.6zM69.5,33.6h0.5v0.5h-0.5zM69.8,0.7h0.4v0.4h-0.4zM8.9,17.9h0.5v0.5h-0.5zM28.5,29.7h0.5v0.5h-0.5zM35.3,31.8h0.8v0.8h-0.8zM70.1,17.3h0.5v0.5h-0.5zM72.6,39.5h0.7v0.7h-0.7zM8.4,13.6h0.5v0.5h-0.5zM22.6,21.8h0.8v0.8h-0.8zM28.4,23.8h0.5v0.5h-0.5zM43.1,25.6h0.4v0.4h-0.4zM4.4,35.4h0.7v0.7h-0.7zM24.8,9.4h0.4v0.4h-0.4zM45.6,27.2h0.8v0.8h-0.8zM49.6,26.9h0.6v0.6h-0.6zM66.6,43.3h0.4v0.4h-0.4zM8.9,6.0h0.4v0.4h-0.4zM62.3,45.3h0.6v0.6h-0.6zM55.6,31.1h0.6v0.6h-0.6zM28.7,45.0h0.5v0.5h-0.5zM7.3,2.5h0.7v0.7h-0.7zM57.1,40.1h0.7v0.7h-0.7zM16.6,17.1h0.5v0.5h-0.5zM63.3,0.1h0.5v0.5h-0.5zM47.8,29.9h0.4v0.4h-0.4zM8.2,7.9h0.4v0.4h-0.4zM37.5,1.4h0.7v0.7h-0.7zM34.1,30.7h0.5v0.5h-0.5zM62.1,4.9h0.7v0.7h-0.7zM18.1,24.2h0.6v0.6h-0.6zM49.2,25.5h0.7v0.7h-0.7zM3.7,25.1h0.6v0.6h-0.6zM45.4,5.0h0.7v0.7h-0.7zM6.0,2.2h0.4v0.4h-0.4zM71.6,7.6h0.7v0.7h-0.7zM4.1,28.5h0.4v0.4h-0.4zM43.9,34.7h0.7v0.7h-0.7zM39.6,33.7h0.4v0.4h-0.4zM4.0,11.1h0.6v0.6h-0.6zM55.9,1.2h0.4v0.4h-0.4zM38.4,15.3h0.4v0.4h-0.4zM20.7,1.2h0.4v0.4h-0.4zM61.5,14.8h0.7v0.7h-0.7zM18.0,34.8h0.7v0.7h-0.7zM1.3,28.3h0.8v0.8h-0.8zM56.3,5.7h0.7v0.7h-0.7zM55.3,7.5h0.6v0.6h-0.6zM45.6,9.4h0.7v0.7h-0.7zM62.7,3.5h0.6v0.6h-0.6zM43.1,0.4h0.6v0.6h-0.6zM68.6,15.6h0.6v0.6h-0.6zM68.6,41.1h0.8v0.8h-0.8zM6.6,47.0h0.5v0.5h-0.5zM26.3,8.7h0.7v0.7h-0.7zM43.1,21.5h0.6v0.6h-0.6zM37.6,27.4h0.4v0.4h-0.4zM52.7,12.3h0.4v0.4h-0.4zM70.1,4.6h0.7v0.7h-0.7zM56.2,20.1h0.6v0.6h-0.6zM17.7,10.1h0.7v0.7h-0.7zM54.9,36.1h0.6v0.6h-0.6zM2.6,36.4h0.8v0.8h-0.8zM23.3,29.4h0.4v0.4h-0.4zM70.4,33.4h0.4v0.4h-0.4zM51.3,31.8h0.5v0.5h-0.5zM42.8,43.8h0.7v0.7h-0.7zM34.6,45.5h0.6v0.6h-0.6zM56.8,26.1h0.7v0.7h-0.7zM56.6,23.5h0.6v0.6h-0.6zM14.5,30.7h0.7v0.7h-0.7zM30.1,3.1h0.7v0.7h-0.7zM47.4,30.4h0.4v0.4h-0.4zM64.8,34.2h0.7v0.7h-0.7zM10.8,12.8h0.6v0.6h-0.6zM0.4,45.7h0.4v0.4h-0.4zM11.1,37.4h0.5v0.5h-0.5zM42.1,30.6h0.4v0.4h-0.4zM3.6,33.1h0.7v0.7h-0.7zM59.2,4.9h0.5v0.5h-0.5zM33.1,1.5h0.7v0.7h-0.7zM60.6,45.6h0.8v0.8h-0.8zM61.3,14.0h0.6v0.6h-0.6zM63.9,0.4h0.4v0.4h-0.4zM72.2,4.3h0.8v0.8h-0.8zM27.8,11.5h0.5v0.5h-0.5zM64.6,30.4h0.4v0.4h-0.4zM60.1,16.3h0.7v0.7h-0.7zM36.7,40.5h0.6v0.6h-0.6zM25.9,46.6h0.8v0.8h-0.8zM40.0,24.6h0.6v0.6h-0.6zM49.4,12.8h0.8v0.8h-0.8zM30.8,46.9h0.6v0.6h-0.6zM67.1,43.3h0.5v0.5h-0.5zM2.5,27.3h0.6v0.6h-0.6zM24.7,16.6h0.5v0.5h-0.5zM6.8,21.6h0.6v0.6h-0.6zM32.0,39.7h0.5v0.5h-0.5zM55.2,35.5h0.6v0.6h-0.6zM34.0,11.0h0.7v0.7h-0.7zM63.5,45.6h0.7v0.7h-0.7zM70.9,27.4h0.6v0.6h-0.6zM71.9,31.6h0.4v0.4h-0.4zM62.5,28.0h0.7v0.7h-0.7zM29.7,29.7h0.6v0.6h-0.6zM45.0,41.4h0.5v0.5h-0.5zM49.3,44.2h0.4v0.4h-0.4zM62.7,32.5h0.5v0.5h-0.5zM2.8,23.2h0.4v0.4h-0.4zM14.3,23.7h0.6v0.6h-0.6zM68.2,29.6h0.7v0.7h-0.7zM40.0,1.2h0.5v0.5h-0.5zM8.7,28.5h0.5v0.5h-0.5z" fill="#8a78c0" opacity="0.55"/>
<rect x="0" y="0" width="73.2" height="47.0" filter="url(#speckC)" opacity="0.5"/>
<path d="M32.5,21.1h0.7v0.7h-0.7zM4.3,16.9h0.7v0.7h-0.7zM48.6,25.5h0.7v0.7h-0.7zM35.2,29.1h0.7v0.7h-0.7zM25.1,34.6h0.7v0.7h-0.7zM47.3,32.6h0.7v0.7h-0.7zM41.4,21.6h0.7v0.7h-0.7zM15.8,8.4h0.7v0.7h-0.7zM28.7,10.4h0.7v0.7h-0.7zM15.4,26.0h0.7v0.7h-0.7zM20.7,16.1h0.7v0.7h-0.7zM23.0,43.8h0.7v0.7h-0.7zM30.1,33.8h0.7v0.7h-0.7zM51.9,33.0h0.7v0.7h-0.7zM49.6,35.1h0.7v0.7h-0.7zM42.5,31.7h0.7v0.7h-0.7zM52.0,29.4h0.7v0.7h-0.7zM18.8,33.5h0.7v0.7h-0.7zM6.7,24.6h0.7v0.7h-0.7zM49.1,13.7h0.7v0.7h-0.7zM22.4,19.8h0.7v0.7h-0.7zM32.9,41.3h0.7v0.7h-0.7zM18.0,30.2h0.7v0.7h-0.7zM3.5,17.3h0.7v0.7h-0.7zM23.0,32.9h0.7v0.7h-0.7zM45.9,42.6h0.7v0.7h-0.7zM27.4,18.2h0.7v0.7h-0.7zM43.1,41.0h0.7v0.7h-0.7zM41.6,34.0h0.7v0.7h-0.7zM33.5,23.3h0.7v0.7h-0.7zM30.6,22.3h0.7v0.7h-0.7zM37.2,42.3h0.7v0.7h-0.7zM17.1,36.7h0.7v0.7h-0.7zM7.1,11.4h0.7v0.7h-0.7zM11.4,19.3h0.7v0.7h-0.7zM23.7,23.2h0.7v0.7h-0.7zM47.3,10.1h0.7v0.7h-0.7zM45.3,17.4h0.7v0.7h-0.7zM17.1,26.2h0.7v0.7h-0.7zM24.3,30.2h0.7v0.7h-0.7zM3.6,31.2h0.7v0.7h-0.7zM4.1,14.3h0.7v0.7h-0.7zM16.1,28.0h0.7v0.7h-0.7zM38.4,9.3h0.7v0.7h-0.7zM3.5,24.1h0.7v0.7h-0.7zM13.5,35.9h0.7v0.7h-0.7zM42.7,43.3h0.7v0.7h-0.7zM51.3,45.5h0.7v0.7h-0.7zM14.0,30.1h0.7v0.7h-0.7zM8.5,29.2h0.7v0.7h-0.7zM37.0,32.7h0.7v0.7h-0.7zM51.1,22.6h0.7v0.7h-0.7zM23.2,43.2h0.7v0.7h-0.7zM41.9,15.2h0.7v0.7h-0.7zM21.8,38.2h0.7v0.7h-0.7zM5.0,39.8h0.7v0.7h-0.7zM46.7,33.3h0.7v0.7h-0.7zM7.9,29.5h0.7v0.7h-0.7zM9.7,42.7h0.7v0.7h-0.7zM14.5,10.0h0.7v0.7h-0.7zM24.5,17.3h0.7v0.7h-0.7zM45.1,15.0h0.7v0.7h-0.7zM8.0,22.6h0.7v0.7h-0.7zM24.0,29.1h0.7v0.7h-0.7zM50.1,23.5h0.7v0.7h-0.7zM45.7,13.1h0.7v0.7h-0.7zM26.1,42.7h0.7v0.7h-0.7zM43.8,33.0h0.7v0.7h-0.7zM6.4,47.0h0.7v0.7h-0.7zM20.0,33.9h0.7v0.7h-0.7zM7.0,11.8h0.7v0.7h-0.7zM22.7,38.8h0.7v0.7h-0.7zM39.8,23.1h0.7v0.7h-0.7zM14.8,30.5h0.7v0.7h-0.7zM24.2,17.7h0.7v0.7h-0.7zM8.3,10.2h0.7v0.7h-0.7zM6.4,38.3h0.7v0.7h-0.7zM49.8,39.3h0.7v0.7h-0.7zM35.5,25.4h0.7v0.7h-0.7zM15.8,26.7h0.7v0.7h-0.7zM22.1,40.4h0.7v0.7h-0.7zM50.1,23.7h0.7v0.7h-0.7zM15.8,36.5h0.7v0.7h-0.7zM48.1,45.8h0.7v0.7h-0.7zM51.0,39.0h0.7v0.7h-0.7zM43.5,26.4h0.7v0.7h-0.7zM36.7,16.4h0.7v0.7h-0.7zM51.8,17.2h0.7v0.7h-0.7zM40.3,38.7h0.7v0.7h-0.7zM45.9,22.4h0.7v0.7h-0.7zM26.3,8.6h0.7v0.7h-0.7zM45.9,30.6h0.7v0.7h-0.7zM9.1,21.3h0.7v0.7h-0.7zM21.3,26.5h0.7v0.7h-0.7zM17.3,18.4h0.7v0.7h-0.7zM28.1,37.4h0.7v0.7h-0.7zM25.5,25.4h0.7v0.7h-0.7zM21.1,44.6h0.7v0.7h-0.7zM40.0,35.0h0.7v0.7h-0.7zM4.9,37.7h0.7v0.7h-0.7zM23.7,35.1h0.7v0.7h-0.7zM25.5,11.2h0.7v0.7h-0.7zM29.3,36.4h0.7v0.7h-0.7zM10.5,31.9h0.7v0.7h-0.7zM15.5,8.4h0.7v0.7h-0.7zM4.4,23.2h0.7v0.7h-0.7zM14.4,14.9h0.7v0.7h-0.7zM18.5,38.6h0.7v0.7h-0.7zM27.7,30.4h0.7v0.7h-0.7zM47.2,17.3h0.7v0.7h-0.7zM46.7,34.4h0.7v0.7h-0.7zM38.0,43.9h0.7v0.7h-0.7zM10.0,23.7h0.7v0.7h-0.7zM28.9,28.7h0.7v0.7h-0.7zM51.3,17.2h0.7v0.7h-0.7zM15.5,38.3h0.7v0.7h-0.7zM41.7,20.5h0.7v0.7h-0.7zM4.7,27.4h0.7v0.7h-0.7zM30.1,41.5h0.7v0.7h-0.7zM30.7,29.2h0.7v0.7h-0.7zM41.0,33.9h0.7v0.7h-0.7zM33.3,8.7h0.7v0.7h-0.7zM37.4,25.1h0.7v0.7h-0.7zM29.1,29.1h0.7v0.7h-0.7zM41.1,14.4h0.7v0.7h-0.7zM45.7,13.5h0.7v0.7h-0.7zM43.0,41.0h0.7v0.7h-0.7zM3.8,29.5h0.7v0.7h-0.7zM43.1,20.3h0.7v0.7h-0.7zM9.7,44.7h0.7v0.7h-0.7zM13.0,46.8h0.7v0.7h-0.7zM19.1,44.8h0.7v0.7h-0.7zM29.8,11.0h0.7v0.7h-0.7zM13.6,31.8h0.7v0.7h-0.7zM2.6,16.9h0.7v0.7h-0.7zM20.4,12.1h0.7v0.7h-0.7zM49.2,28.2h0.7v0.7h-0.7zM20.2,22.2h0.7v0.7h-0.7zM7.5,31.5h0.7v0.7h-0.7zM35.4,37.1h0.7v0.7h-0.7zM45.1,41.7h0.7v0.7h-0.7zM20.6,17.0h0.7v0.7h-0.7zM6.6,35.1h0.7v0.7h-0.7zM34.2,12.3h0.7v0.7h-0.7zM38.0,42.6h0.7v0.7h-0.7zM3.5,32.5h0.7v0.7h-0.7zM40.9,36.8h0.7v0.7h-0.7zM15.7,22.7h0.7v0.7h-0.7zM6.2,16.6h0.7v0.7h-0.7zM31.0,42.9h0.7v0.7h-0.7z" fill="#e8e0f4" opacity="0.8"/>
</svg>
<rect x="458.00" y="344.20" width="73.20" height="47.00" fill="none" stroke="#555" stroke-width="0.9"/>
<text x="460.60" y="305.62" font-size="8.5" text-anchor="start" fill="#231f20">Veh</text>
<text x="460.60" y="354.42" font-size="8.5" text-anchor="start" fill="#231f20">BMP4</text>
<text x="516.30" y="385.14" font-size="6.3" text-anchor="middle" fill="#222">500 μm</text>
<line x1="504.10" y1="387.20" x2="528.70" y2="387.20" stroke="#111" stroke-width="0.9" />
<text x="448.70" y="346.26" font-size="8.9" text-anchor="middle" fill="#231f20" transform="rotate(-90 448.70 343.10)">D10 post-IR</text>
<text x="556.60" y="293.60" font-size="14" text-anchor="start" fill="#231f20" font-weight="bold">h</text>
<line x1="605.50" y1="311.40" x2="605.50" y2="383.60" stroke="#333" stroke-width="0.9" />
<line x1="605.50" y1="383.60" x2="660.40" y2="383.60" stroke="#333" stroke-width="0.9" />
<line x1="603.10" y1="383.60" x2="605.50" y2="383.60" stroke="#333" stroke-width="0.9" />
<text x="600.90" y="386.23" font-size="7.4" text-anchor="end" fill="#231f20">0</text>
<line x1="603.10" y1="359.57" x2="605.50" y2="359.57" stroke="#333" stroke-width="0.9" />
<text x="600.90" y="362.19" font-size="7.4" text-anchor="end" fill="#231f20">10</text>
<line x1="603.10" y1="335.53" x2="605.50" y2="335.53" stroke="#333" stroke-width="0.9" />
<text x="600.90" y="338.16" font-size="7.4" text-anchor="end" fill="#231f20">20</text>
<line x1="603.10" y1="311.50" x2="605.50" y2="311.50" stroke="#333" stroke-width="0.9" />
<text x="600.90" y="314.13" font-size="7.4" text-anchor="end" fill="#231f20">30</text>
<rect x="615.10" y="365.09" width="12.80" height="18.51" fill="#86add4" />
<rect x="638.10" y="342.26" width="12.60" height="41.34" fill="#e67b70" />
<line x1="621.50" y1="365.09" x2="621.50" y2="362.69" stroke="#333" stroke-width="0.8" />
<line x1="619.30" y1="362.69" x2="623.70" y2="362.69" stroke="#333" stroke-width="0.8" />
<line x1="619.30" y1="365.09" x2="623.70" y2="365.09" stroke="#333" stroke-width="0.8" />
<line x1="644.40" y1="342.26" x2="644.40" y2="337.22" stroke="#333" stroke-width="0.8" />
<line x1="642.20" y1="337.22" x2="646.60" y2="337.22" stroke="#333" stroke-width="0.8" />
<line x1="642.20" y1="342.26" x2="646.60" y2="342.26" stroke="#333" stroke-width="0.8" />
<circle cx="621.60" cy="356.80" r="1.00" fill="#7a8488" stroke="#1a1a1a" stroke-width="0.7" />
<circle cx="621.60" cy="359.40" r="1.00" fill="#7a8488" stroke="#1a1a1a" stroke-width="0.7" />
<circle cx="617.60" cy="361.30" r="1.00" fill="#7a8488" stroke="#1a1a1a" stroke-width="0.7" />
<circle cx="621.60" cy="363.40" r="1.00" fill="#7a8488" stroke="#1a1a1a" stroke-width="0.7" />
<circle cx="623.60" cy="362.80" r="1.00" fill="#7a8488" stroke="#1a1a1a" stroke-width="0.7" />
<circle cx="617.60" cy="369.80" r="1.00" fill="#7a8488" stroke="#1a1a1a" stroke-width="0.7" />
<circle cx="621.60" cy="368.40" r="1.00" fill="#7a8488" stroke="#1a1a1a" stroke-width="0.7" />
<circle cx="625.10" cy="367.00" r="1.00" fill="#7a8488" stroke="#1a1a1a" stroke-width="0.7" />
<circle cx="625.10" cy="369.60" r="1.00" fill="#7a8488" stroke="#1a1a1a" stroke-width="0.7" />
<circle cx="644.40" cy="323.80" r="1.00" fill="#7a8488" stroke="#1a1a1a" stroke-width="0.7" />
<circle cx="644.40" cy="328.40" r="1.00" fill="#7a8488" stroke="#1a1a1a" stroke-width="0.7" />
<circle cx="642.50" cy="336.60" r="1.00" fill="#7a8488" stroke="#1a1a1a" stroke-width="0.7" />
<circle cx="646.50" cy="335.60" r="1.00" fill="#7a8488" stroke="#1a1a1a" stroke-width="0.7" />
<circle cx="646.50" cy="337.80" r="1.00" fill="#7a8488" stroke="#1a1a1a" stroke-width="0.7" />
<circle cx="644.40" cy="347.80" r="1.00" fill="#7a8488" stroke="#1a1a1a" stroke-width="0.7" />
<circle cx="644.40" cy="351.80" r="1.00" fill="#7a8488" stroke="#1a1a1a" stroke-width="0.7" />
<circle cx="644.40" cy="355.40" r="1.00" fill="#7a8488" stroke="#1a1a1a" stroke-width="0.7" />
<circle cx="644.40" cy="358.70" r="1.00" fill="#7a8488" stroke="#1a1a1a" stroke-width="0.7" />
<text x="634.50" y="318.70" font-size="6.2" text-anchor="middle" fill="#231f20">0.006</text>
<text x="621.50" y="394.90" font-size="7.6" text-anchor="middle" fill="#231f20">Veh</text>
<text x="644.30" y="394.90" font-size="7.6" text-anchor="middle" fill="#231f20">BMP4</text>
<text x="582.50" y="349.54" font-size="7.15" text-anchor="middle" fill="#231f20" transform="rotate(-90 582.50 347.00)">Cell number (x10<tspan dy="-2.5" font-size="4.5">6</tspan><tspan dy="2.5">)</tspan></text>
<text x="4.50" y="425.60" font-size="14" text-anchor="start" fill="#231f20" font-weight="bold">i</text>
<text x="72.30" y="426.39" font-size="7.3" text-anchor="middle" fill="#231f20" font-style="italic">In Lin<tspan dy="-2.5" font-size="4.5">-</tspan><tspan dy="2.5"> gate</tspan></text>
<text x="139.60" y="426.39" font-size="7.3" text-anchor="middle" fill="#231f20" font-style="italic">In LSK gate</text>
<text x="36.20" y="458.90" font-size="7.6" text-anchor="end" fill="#231f20">Veh</text>
<text x="40.00" y="507.30" font-size="7.6" text-anchor="end" fill="#231f20">BMP4</text>
<svg x="50.30" y="429.40" width="46.40" height="47.00" viewBox="0 0 46.40 47.00" overflow="hidden">
<rect x="0.00" y="0.00" width="46.40" height="47.00" fill="#fff" />
<path d="M26.1,36.4h0.8v0.8h-0.8zM19.4,22.0h0.8v0.8h-0.8zM13.0,27.2h0.8v0.8h-0.8zM13.4,17.7h0.8v0.8h-0.8zM20.1,27.9h0.8v0.8h-0.8zM22.0,21.1h0.8v0.8h-0.8zM19.0,26.6h0.8v0.8h-0.8zM10.7,30.5h0.8v0.8h-0.8zM20.1,26.1h0.8v0.8h-0.8zM25.8,28.3h0.8v0.8h-0.8zM24.0,24.6h0.8v0.8h-0.8zM20.2,33.7h0.8v0.8h-0.8zM22.8,27.8h0.8v0.8h-0.8zM13.0,29.9h0.8v0.8h-0.8zM19.4,31.7h0.8v0.8h-0.8zM20.2,34.1h0.8v0.8h-0.8zM18.7,28.3h0.8v0.8h-0.8zM22.7,19.9h0.8v0.8h-0.8zM16.8,23.7h0.8v0.8h-0.8zM29.9,26.4h0.8v0.8h-0.8zM22.6,31.0h0.8v0.8h-0.8zM17.5,16.9h0.8v0.8h-0.8zM24.3,24.4h0.8v0.8h-0.8zM22.9,18.5h0.8v0.8h-0.8zM16.6,35.2h0.8v0.8h-0.8zM26.9,18.5h0.8v0.8h-0.8zM11.7,26.7h0.8v0.8h-0.8zM23.0,28.0h0.8v0.8h-0.8zM20.7,20.6h0.8v0.8h-0.8zM22.2,34.3h0.8v0.8h-0.8zM16.6,17.7h0.8v0.8h-0.8zM14.8,32.0h0.8v0.8h-0.8zM9.5,26.4h0.8v0.8h-0.8zM13.5,26.1h0.8v0.8h-0.8zM17.7,27.1h0.8v0.8h-0.8zM27.3,29.7h0.8v0.8h-0.8zM26.3,26.1h0.8v0.8h-0.8zM16.4,29.5h0.8v0.8h-0.8zM19.9,19.0h0.8v0.8h-0.8zM21.6,23.4h0.8v0.8h-0.8zM13.6,23.6h0.8v0.8h-0.8zM18.2,35.1h0.8v0.8h-0.8zM19.6,26.8h0.8v0.8h-0.8zM21.1,15.2h0.8v0.8h-0.8zM25.8,20.0h0.8v0.8h-0.8zM21.4,19.7h0.8v0.8h-0.8zM13.6,24.4h0.8v0.8h-0.8zM29.4,31.5h0.8v0.8h-0.8zM15.7,25.2h0.8v0.8h-0.8zM12.7,26.8h0.8v0.8h-0.8zM15.8,31.7h0.8v0.8h-0.8zM11.5,24.8h0.8v0.8h-0.8zM14.4,22.3h0.8v0.8h-0.8zM22.9,27.8h0.8v0.8h-0.8zM22.2,34.7h0.8v0.8h-0.8zM25.3,18.1h0.8v0.8h-0.8zM22.0,15.6h0.8v0.8h-0.8zM18.6,39.5h0.8v0.8h-0.8zM17.9,24.6h0.8v0.8h-0.8zM19.9,27.1h0.8v0.8h-0.8zM19.1,22.1h0.8v0.8h-0.8zM24.9,32.8h0.8v0.8h-0.8zM17.8,29.0h0.8v0.8h-0.8zM22.6,33.7h0.8v0.8h-0.8zM21.2,31.5h0.8v0.8h-0.8zM17.6,20.0h0.8v0.8h-0.8zM16.3,33.6h0.8v0.8h-0.8zM24.4,28.0h0.8v0.8h-0.8zM15.9,29.0h0.8v0.8h-0.8zM28.1,35.8h0.8v0.8h-0.8zM15.2,26.7h0.8v0.8h-0.8zM11.0,19.6h0.8v0.8h-0.8zM20.0,27.2h0.8v0.8h-0.8zM24.3,35.2h0.8v0.8h-0.8zM23.6,35.6h0.8v0.8h-0.8zM16.0,19.7h0.8v0.8h-0.8zM21.0,19.5h0.8v0.8h-0.8zM20.3,36.3h0.8v0.8h-0.8zM13.3,32.2h0.8v0.8h-0.8zM15.6,35.3h0.8v0.8h-0.8zM23.3,29.0h0.8v0.8h-0.8zM30.0,24.3h0.8v0.8h-0.8zM15.2,39.1h0.8v0.8h-0.8zM14.2,41.3h0.8v0.8h-0.8zM18.8,20.3h0.8v0.8h-0.8zM19.0,27.8h0.8v0.8h-0.8zM20.1,25.8h0.8v0.8h-0.8zM15.9,25.3h0.8v0.8h-0.8zM29.0,14.0h0.8v0.8h-0.8zM17.1,19.6h0.8v0.8h-0.8zM15.3,31.2h0.8v0.8h-0.8zM21.3,36.4h0.8v0.8h-0.8zM15.7,28.7h0.8v0.8h-0.8zM25.5,32.9h0.8v0.8h-0.8zM17.2,34.3h0.8v0.8h-0.8zM13.9,38.7h0.8v0.8h-0.8zM19.8,26.3h0.8v0.8h-0.8zM20.5,32.5h0.8v0.8h-0.8zM28.6,26.1h0.8v0.8h-0.8zM17.0,30.8h0.8v0.8h-0.8zM14.2,16.0h0.8v0.8h-0.8zM23.6,24.5h0.8v0.8h-0.8zM25.2,20.3h0.8v0.8h-0.8zM19.9,37.4h0.8v0.8h-0.8zM21.9,29.0h0.8v0.8h-0.8zM22.2,24.6h0.8v0.8h-0.8zM19.4,18.2h0.8v0.8h-0.8zM21.9,21.8h0.8v0.8h-0.8zM16.5,31.5h0.8v0.8h-0.8zM24.0,20.5h0.8v0.8h-0.8zM30.0,23.2h0.8v0.8h-0.8zM23.6,33.2h0.8v0.8h-0.8zM20.2,28.1h0.8v0.8h-0.8zM28.9,32.8h0.8v0.8h-0.8zM21.4,15.1h0.8v0.8h-0.8zM14.9,34.6h0.8v0.8h-0.8zM20.1,20.8h0.8v0.8h-0.8zM15.5,25.0h0.8v0.8h-0.8zM22.8,29.5h0.8v0.8h-0.8zM24.5,21.7h0.8v0.8h-0.8zM24.4,23.7h0.8v0.8h-0.8zM17.4,38.3h0.8v0.8h-0.8zM19.4,26.1h0.8v0.8h-0.8zM17.8,24.5h0.8v0.8h-0.8zM27.6,35.9h0.8v0.8h-0.8zM22.9,28.2h0.8v0.8h-0.8zM24.7,26.5h0.8v0.8h-0.8zM21.5,29.6h0.8v0.8h-0.8zM19.5,37.7h0.8v0.8h-0.8zM28.7,35.6h0.8v0.8h-0.8zM8.5,38.9h0.8v0.8h-0.8zM22.9,24.1h0.8v0.8h-0.8zM18.9,34.4h0.8v0.8h-0.8zM25.5,32.6h0.8v0.8h-0.8zM19.8,27.2h0.8v0.8h-0.8zM23.6,26.4h0.8v0.8h-0.8zM14.1,22.9h0.8v0.8h-0.8zM18.2,29.2h0.8v0.8h-0.8zM21.6,26.4h0.8v0.8h-0.8zM20.7,35.8h0.8v0.8h-0.8zM25.8,26.0h0.8v0.8h-0.8zM15.9,18.1h0.8v0.8h-0.8zM18.6,35.1h0.8v0.8h-0.8zM17.5,31.6h0.8v0.8h-0.8zM22.9,29.6h0.8v0.8h-0.8zM25.0,26.3h0.8v0.8h-0.8zM14.4,19.4h0.8v0.8h-0.8zM24.1,24.6h0.8v0.8h-0.8zM17.3,32.4h0.8v0.8h-0.8zM14.7,38.5h0.8v0.8h-0.8zM22.7,23.6h0.8v0.8h-0.8zM15.5,34.0h0.8v0.8h-0.8zM12.5,22.8h0.8v0.8h-0.8zM19.0,28.3h0.8v0.8h-0.8zM19.1,29.5h0.8v0.8h-0.8zM17.0,26.2h0.8v0.8h-0.8zM26.0,31.2h0.8v0.8h-0.8zM16.5,38.1h0.8v0.8h-0.8zM8.1,27.5h0.8v0.8h-0.8zM22.7,33.3h0.8v0.8h-0.8zM19.6,24.5h0.8v0.8h-0.8zM22.2,25.7h0.8v0.8h-0.8zM21.1,21.9h0.8v0.8h-0.8zM24.2,31.9h0.8v0.8h-0.8zM23.0,24.4h0.8v0.8h-0.8zM21.4,24.8h0.8v0.8h-0.8zM20.2,26.1h0.8v0.8h-0.8zM14.2,39.9h0.8v0.8h-0.8zM23.0,13.6h0.8v0.8h-0.8zM23.9,17.9h0.8v0.8h-0.8zM17.7,23.2h0.8v0.8h-0.8zM16.1,28.6h0.8v0.8h-0.8zM17.2,17.6h0.8v0.8h-0.8zM19.0,29.4h0.8v0.8h-0.8zM28.7,24.3h0.8v0.8h-0.8zM12.5,24.5h0.8v0.8h-0.8zM22.6,21.3h0.8v0.8h-0.8zM15.0,30.6h0.8v0.8h-0.8zM18.9,28.4h0.8v0.8h-0.8zM15.5,21.6h0.8v0.8h-0.8zM17.2,26.0h0.8v0.8h-0.8zM17.2,29.8h0.8v0.8h-0.8zM22.0,30.6h0.8v0.8h-0.8zM21.6,21.2h0.8v0.8h-0.8zM12.8,32.2h0.8v0.8h-0.8zM19.1,27.8h0.8v0.8h-0.8zM12.6,25.6h0.8v0.8h-0.8zM15.5,21.4h0.8v0.8h-0.8zM15.5,17.3h0.8v0.8h-0.8zM19.5,34.6h0.8v0.8h-0.8zM15.1,27.6h0.8v0.8h-0.8zM13.0,31.4h0.8v0.8h-0.8zM29.3,19.0h0.8v0.8h-0.8zM17.7,36.3h0.8v0.8h-0.8zM21.0,27.7h0.8v0.8h-0.8zM7.8,26.0h0.8v0.8h-0.8zM24.0,36.3h0.8v0.8h-0.8zM22.5,23.2h0.8v0.8h-0.8zM15.2,15.2h0.8v0.8h-0.8zM13.1,34.3h0.8v0.8h-0.8zM18.4,18.3h0.8v0.8h-0.8zM26.3,16.1h0.8v0.8h-0.8zM25.9,24.9h0.8v0.8h-0.8zM20.9,31.4h0.8v0.8h-0.8zM20.4,35.3h0.8v0.8h-0.8zM19.1,24.9h0.8v0.8h-0.8zM15.4,17.6h0.8v0.8h-0.8zM15.2,33.4h0.8v0.8h-0.8zM23.5,36.0h0.8v0.8h-0.8zM21.8,18.5h0.8v0.8h-0.8zM17.7,41.3h0.8v0.8h-0.8zM21.9,26.1h0.8v0.8h-0.8zM20.7,14.7h0.8v0.8h-0.8zM14.4,18.5h0.8v0.8h-0.8zM7.2,32.0h0.8v0.8h-0.8zM24.3,25.9h0.8v0.8h-0.8zM20.9,20.5h0.8v0.8h-0.8zM21.5,32.0h0.8v0.8h-0.8zM27.4,37.1h0.8v0.8h-0.8zM21.7,26.2h0.8v0.8h-0.8zM14.5,23.1h0.8v0.8h-0.8zM22.4,30.7h0.8v0.8h-0.8zM19.1,37.8h0.8v0.8h-0.8zM22.6,27.1h0.8v0.8h-0.8zM17.9,27.5h0.8v0.8h-0.8zM13.8,20.6h0.8v0.8h-0.8zM20.9,23.2h0.8v0.8h-0.8zM17.5,34.9h0.8v0.8h-0.8zM17.9,35.5h0.8v0.8h-0.8zM19.0,36.9h0.8v0.8h-0.8zM21.6,15.6h0.8v0.8h-0.8zM25.8,25.7h0.8v0.8h-0.8zM8.2,27.7h0.8v0.8h-0.8zM19.9,18.6h0.8v0.8h-0.8zM15.7,30.6h0.8v0.8h-0.8zM26.8,34.4h0.8v0.8h-0.8zM25.7,34.3h0.8v0.8h-0.8zM23.2,32.8h0.8v0.8h-0.8zM14.7,24.5h0.8v0.8h-0.8zM13.8,26.9h0.8v0.8h-0.8zM18.8,27.0h0.8v0.8h-0.8zM13.4,29.5h0.8v0.8h-0.8zM17.1,33.2h0.8v0.8h-0.8zM20.7,17.4h0.8v0.8h-0.8zM11.1,27.5h0.8v0.8h-0.8zM16.3,30.1h0.8v0.8h-0.8zM23.4,27.1h0.8v0.8h-0.8zM9.7,19.2h0.8v0.8h-0.8zM22.1,20.2h0.8v0.8h-0.8zM25.1,26.4h0.8v0.8h-0.8zM21.9,21.3h0.8v0.8h-0.8zM17.9,30.7h0.8v0.8h-0.8zM14.1,21.5h0.8v0.8h-0.8zM18.7,27.4h0.8v0.8h-0.8zM14.6,31.4h0.8v0.8h-0.8zM9.9,34.2h0.8v0.8h-0.8zM11.3,21.6h0.8v0.8h-0.8zM26.3,20.5h0.8v0.8h-0.8zM9.9,27.5h0.8v0.8h-0.8zM13.9,19.7h0.8v0.8h-0.8zM15.1,22.2h0.8v0.8h-0.8zM13.6,20.3h0.8v0.8h-0.8zM27.9,22.6h0.8v0.8h-0.8zM24.3,17.9h0.8v0.8h-0.8zM22.0,18.9h0.8v0.8h-0.8zM16.5,31.1h0.8v0.8h-0.8zM16.1,14.2h0.8v0.8h-0.8zM16.0,26.0h0.8v0.8h-0.8zM22.2,20.5h0.8v0.8h-0.8zM17.4,27.4h0.8v0.8h-0.8zM9.9,26.3h0.8v0.8h-0.8zM14.4,29.8h0.8v0.8h-0.8zM18.4,25.9h0.8v0.8h-0.8zM17.0,20.9h0.8v0.8h-0.8zM16.2,18.8h0.8v0.8h-0.8zM20.0,31.3h0.8v0.8h-0.8zM22.3,23.6h0.8v0.8h-0.8zM28.2,32.6h0.8v0.8h-0.8zM13.8,26.1h0.8v0.8h-0.8zM10.0,26.2h0.8v0.8h-0.8zM22.9,35.2h0.8v0.8h-0.8zM16.7,15.4h0.8v0.8h-0.8zM18.1,35.8h0.8v0.8h-0.8zM19.8,35.3h0.8v0.8h-0.8zM23.6,37.1h0.8v0.8h-0.8zM22.3,22.7h0.8v0.8h-0.8zM16.2,14.9h0.8v0.8h-0.8zM30.6,29.7h0.8v0.8h-0.8zM15.6,23.1h0.8v0.8h-0.8zM10.5,31.6h0.8v0.8h-0.8zM19.8,22.9h0.8v0.8h-0.8zM16.7,24.2h0.8v0.8h-0.8zM24.9,25.8h0.8v0.8h-0.8zM26.6,21.6h0.8v0.8h-0.8zM15.6,23.9h0.8v0.8h-0.8zM16.0,26.4h0.8v0.8h-0.8zM24.6,34.9h0.8v0.8h-0.8zM13.1,35.3h0.8v0.8h-0.8zM19.5,37.3h0.8v0.8h-0.8zM18.1,21.6h0.8v0.8h-0.8zM23.3,31.1h0.8v0.8h-0.8zM16.5,27.1h0.8v0.8h-0.8zM19.7,29.0h0.8v0.8h-0.8zM9.6,19.2h0.8v0.8h-0.8zM19.3,28.7h0.8v0.8h-0.8zM16.1,15.6h0.8v0.8h-0.8zM26.4,25.0h0.8v0.8h-0.8zM13.2,37.4h0.8v0.8h-0.8zM25.2,33.7h0.8v0.8h-0.8zM23.6,30.7h0.8v0.8h-0.8zM13.6,27.2h0.8v0.8h-0.8zM21.0,31.1h0.8v0.8h-0.8zM21.6,20.4h0.8v0.8h-0.8zM15.7,24.8h0.8v0.8h-0.8zM17.9,21.3h0.8v0.8h-0.8zM9.0,19.1h0.8v0.8h-0.8zM20.7,26.9h0.8v0.8h-0.8zM22.2,14.7h0.8v0.8h-0.8zM16.7,32.8h0.8v0.8h-0.8zM8.2,20.0h0.8v0.8h-0.8zM9.8,34.9h0.8v0.8h-0.8zM19.2,23.3h0.8v0.8h-0.8zM19.8,26.4h0.8v0.8h-0.8zM24.0,34.6h0.8v0.8h-0.8zM24.0,29.2h0.8v0.8h-0.8zM23.2,32.3h0.8v0.8h-0.8zM25.4,15.1h0.8v0.8h-0.8zM20.9,27.5h0.8v0.8h-0.8zM19.9,25.4h0.8v0.8h-0.8zM18.6,30.2h0.8v0.8h-0.8zM20.1,27.8h0.8v0.8h-0.8zM13.1,18.8h0.8v0.8h-0.8zM14.9,15.4h0.8v0.8h-0.8zM16.2,21.5h0.8v0.8h-0.8zM9.1,14.4h0.8v0.8h-0.8zM16.4,23.2h0.8v0.8h-0.8zM31.0,32.6h0.8v0.8h-0.8zM14.7,23.8h0.8v0.8h-0.8zM13.4,21.9h0.8v0.8h-0.8zM17.1,26.7h0.8v0.8h-0.8zM15.6,32.3h0.8v0.8h-0.8zM22.5,39.7h0.8v0.8h-0.8zM11.8,31.4h0.8v0.8h-0.8zM16.9,16.6h0.8v0.8h-0.8zM17.3,16.3h0.8v0.8h-0.8zM26.2,38.8h0.8v0.8h-0.8zM25.6,16.9h0.8v0.8h-0.8zM21.3,27.9h0.8v0.8h-0.8zM21.4,20.3h0.8v0.8h-0.8zM8.1,40.7h0.8v0.8h-0.8zM25.6,29.0h0.8v0.8h-0.8zM16.3,28.2h0.8v0.8h-0.8zM12.2,33.2h0.8v0.8h-0.8zM19.9,26.0h0.8v0.8h-0.8zM16.6,26.6h0.8v0.8h-0.8zM19.7,24.4h0.8v0.8h-0.8zM24.3,28.4h0.8v0.8h-0.8zM18.5,21.4h0.8v0.8h-0.8zM25.7,35.4h0.8v0.8h-0.8zM22.8,15.0h0.8v0.8h-0.8zM17.1,33.5h0.8v0.8h-0.8zM19.2,35.3h0.8v0.8h-0.8zM16.6,32.2h0.8v0.8h-0.8zM16.8,25.5h0.8v0.8h-0.8zM15.6,21.2h0.8v0.8h-0.8zM27.7,26.2h0.8v0.8h-0.8zM23.3,18.3h0.8v0.8h-0.8zM7.6,23.9h0.8v0.8h-0.8zM21.2,22.3h0.8v0.8h-0.8zM21.9,32.2h0.8v0.8h-0.8zM16.5,26.6h0.8v0.8h-0.8zM14.9,34.0h0.8v0.8h-0.8zM28.7,30.2h0.8v0.8h-0.8zM16.2,22.4h0.8v0.8h-0.8zM17.5,32.8h0.8v0.8h-0.8zM14.8,36.6h0.8v0.8h-0.8zM12.3,26.9h0.8v0.8h-0.8zM26.2,38.6h0.8v0.8h-0.8zM16.8,32.2h0.8v0.8h-0.8zM6.9,28.8h0.8v0.8h-0.8zM24.0,13.4h0.8v0.8h-0.8zM27.7,21.5h0.8v0.8h-0.8zM23.4,32.9h0.8v0.8h-0.8zM20.8,17.1h0.8v0.8h-0.8zM18.9,20.8h0.8v0.8h-0.8zM26.4,23.7h0.8v0.8h-0.8zM14.0,31.2h0.8v0.8h-0.8zM25.7,26.0h0.8v0.8h-0.8zM20.5,30.2h0.8v0.8h-0.8zM16.3,19.3h0.8v0.8h-0.8zM21.9,24.7h0.8v0.8h-0.8zM11.5,32.6h0.8v0.8h-0.8zM21.4,27.9h0.8v0.8h-0.8zM14.9,25.6h0.8v0.8h-0.8zM22.4,30.2h0.8v0.8h-0.8zM14.5,21.1h0.8v0.8h-0.8zM20.9,28.2h0.8v0.8h-0.8zM23.7,19.5h0.8v0.8h-0.8zM24.1,38.5h0.8v0.8h-0.8zM24.2,27.9h0.8v0.8h-0.8zM24.0,18.6h0.8v0.8h-0.8zM16.6,40.4h0.8v0.8h-0.8zM10.0,19.5h0.8v0.8h-0.8zM23.5,22.7h0.8v0.8h-0.8zM15.9,19.7h0.8v0.8h-0.8zM28.3,23.0h0.8v0.8h-0.8zM17.5,15.2h0.8v0.8h-0.8zM23.2,26.9h0.8v0.8h-0.8zM21.7,37.3h0.8v0.8h-0.8zM19.8,19.3h0.8v0.8h-0.8zM13.4,27.5h0.8v0.8h-0.8zM26.3,19.2h0.8v0.8h-0.8zM17.6,26.1h0.8v0.8h-0.8zM22.6,21.2h0.8v0.8h-0.8zM20.7,32.1h0.8v0.8h-0.8zM18.8,26.4h0.8v0.8h-0.8zM22.4,30.8h0.8v0.8h-0.8zM25.9,20.0h0.8v0.8h-0.8zM25.8,25.5h0.8v0.8h-0.8zM12.7,23.4h0.8v0.8h-0.8zM12.2,25.7h0.8v0.8h-0.8zM12.5,32.0h0.8v0.8h-0.8zM17.3,32.2h0.8v0.8h-0.8zM11.7,26.7h0.8v0.8h-0.8zM23.1,34.9h0.8v0.8h-0.8zM28.0,26.6h0.8v0.8h-0.8zM14.2,24.5h0.8v0.8h-0.8zM8.5,35.8h0.8v0.8h-0.8zM25.5,21.1h0.8v0.8h-0.8zM29.1,18.2h0.8v0.8h-0.8zM22.1,21.7h0.8v0.8h-0.8zM9.4,29.6h0.8v0.8h-0.8zM12.6,34.8h0.8v0.8h-0.8zM14.1,27.7h0.8v0.8h-0.8zM16.4,27.9h0.8v0.8h-0.8zM15.5,32.3h0.8v0.8h-0.8zM22.4,27.5h0.8v0.8h-0.8zM18.3,39.8h0.8v0.8h-0.8zM15.2,24.1h0.8v0.8h-0.8zM23.2,26.9h0.8v0.8h-0.8zM10.0,26.1h0.8v0.8h-0.8zM16.9,20.5h0.8v0.8h-0.8zM20.1,19.6h0.8v0.8h-0.8zM17.6,19.6h0.8v0.8h-0.8zM27.6,25.2h0.8v0.8h-0.8zM21.4,28.9h0.8v0.8h-0.8zM22.9,26.0h0.8v0.8h-0.8zM23.1,27.8h0.8v0.8h-0.8zM11.9,33.2h0.8v0.8h-0.8zM20.2,24.6h0.8v0.8h-0.8zM12.5,24.5h0.8v0.8h-0.8zM11.4,39.9h0.8v0.8h-0.8zM21.5,26.4h0.8v0.8h-0.8zM13.6,24.8h0.8v0.8h-0.8zM17.7,24.1h0.8v0.8h-0.8zM18.6,32.2h0.8v0.8h-0.8zM9.3,28.5h0.8v0.8h-0.8zM25.1,18.1h0.8v0.8h-0.8zM18.0,24.5h0.8v0.8h-0.8zM12.7,33.2h0.8v0.8h-0.8zM17.2,34.4h0.8v0.8h-0.8zM21.3,25.2h0.8v0.8h-0.8zM20.6,24.6h0.8v0.8h-0.8zM10.0,36.2h0.8v0.8h-0.8zM21.0,34.5h0.8v0.8h-0.8zM9.0,33.8h0.8v0.8h-0.8zM23.5,26.7h0.8v0.8h-0.8zM7.3,27.7h0.8v0.8h-0.8zM15.3,25.7h0.8v0.8h-0.8zM19.3,21.1h0.8v0.8h-0.8zM18.3,27.1h0.8v0.8h-0.8zM27.0,26.3h0.8v0.8h-0.8zM18.2,35.1h0.8v0.8h-0.8zM10.4,31.0h0.8v0.8h-0.8zM21.2,23.1h0.8v0.8h-0.8zM17.7,37.1h0.8v0.8h-0.8zM16.5,28.8h0.8v0.8h-0.8zM21.4,34.9h0.8v0.8h-0.8zM7.6,17.4h0.8v0.8h-0.8zM11.6,25.2h0.8v0.8h-0.8zM22.4,32.4h0.8v0.8h-0.8zM17.4,36.8h0.8v0.8h-0.8zM18.6,31.5h0.8v0.8h-0.8zM14.8,32.4h0.8v0.8h-0.8zM15.0,34.5h0.8v0.8h-0.8zM23.7,39.2h0.8v0.8h-0.8zM16.7,19.4h0.8v0.8h-0.8zM23.6,29.1h0.8v0.8h-0.8zM16.1,18.3h0.8v0.8h-0.8zM23.4,14.3h0.8v0.8h-0.8zM16.4,34.0h0.8v0.8h-0.8zM17.6,30.0h0.8v0.8h-0.8zM21.7,30.9h0.8v0.8h-0.8zM24.8,31.2h0.8v0.8h-0.8zM16.9,19.0h0.8v0.8h-0.8zM17.4,22.7h0.8v0.8h-0.8z" fill="#2038f8"/>
<g filter="url(#blur1)">
<path d="M7.5,40 C6,34 7,25 10,19 C13,14 20,13.5 24,17 C28,20 29.5,27 30,33 C30.5,38 29,41 24,41.5 C18,42 11,42.5 7.5,40 Z" fill="#1e36f4" opacity="0.78"/>
</g>
<g filter="url(#soft)">
<ellipse cx="19" cy="35.6" rx="10" ry="3.6" fill="#18b4f4"/>
<ellipse cx="17" cy="35.4" rx="6.5" ry="2.6" fill="#20e0b0"/>
<ellipse cx="11.6" cy="34.8" rx="4.2" ry="4.4" fill="#40e050"/>
<ellipse cx="11.0" cy="34.7" rx="3.0" ry="3.3" fill="#f4e818"/>
<ellipse cx="10.5" cy="34.6" rx="2.0" ry="2.4" fill="#f41c0c"/>
</g>
</svg>
<rect x="50.30" y="429.40" width="46.40" height="47.00" fill="none" stroke="#666" stroke-width="0.9"/>
<svg x="50.30" y="481.30" width="46.40" height="47.00" viewBox="0 0 46.40 47.00" overflow="hidden">
<rect x="0.00" y="0.00" width="46.40" height="47.00" fill="#fff" />
<path d="M23.6,25.2h0.8v0.8h-0.8zM26.4,12.8h0.8v0.8h-0.8zM18.3,18.0h0.8v0.8h-0.8zM14.0,17.2h0.8v0.8h-0.8zM17.7,21.7h0.8v0.8h-0.8zM15.1,27.4h0.8v0.8h-0.8zM28.7,20.9h0.8v0.8h-0.8zM16.2,26.1h0.8v0.8h-0.8zM22.5,24.4h0.8v0.8h-0.8zM15.4,25.5h0.8v0.8h-0.8zM11.0,35.5h0.8v0.8h-0.8zM12.8,22.3h0.8v0.8h-0.8zM21.1,25.8h0.8v0.8h-0.8zM19.4,27.9h0.8v0.8h-0.8zM19.1,19.5h0.8v0.8h-0.8zM30.1,15.1h0.8v0.8h-0.8zM9.9,41.9h0.8v0.8h-0.8zM24.7,22.9h0.8v0.8h-0.8zM21.3,11.3h0.8v0.8h-0.8zM13.2,26.4h0.8v0.8h-0.8zM6.2,25.1h0.8v0.8h-0.8zM8.7,23.9h0.8v0.8h-0.8zM12.8,37.2h0.8v0.8h-0.8zM26.8,18.8h0.8v0.8h-0.8zM7.7,16.6h0.8v0.8h-0.8zM19.8,14.9h0.8v0.8h-0.8zM22.0,31.0h0.8v0.8h-0.8zM19.8,19.4h0.8v0.8h-0.8zM25.3,20.5h0.8v0.8h-0.8zM25.7,20.4h0.8v0.8h-0.8zM30.8,20.7h0.8v0.8h-0.8zM13.2,23.7h0.8v0.8h-0.8zM16.0,15.3h0.8v0.8h-0.8zM19.3,29.1h0.8v0.8h-0.8zM5.9,22.6h0.8v0.8h-0.8zM19.2,21.8h0.8v0.8h-0.8zM25.5,12.4h0.8v0.8h-0.8zM24.5,21.1h0.8v0.8h-0.8zM20.9,21.2h0.8v0.8h-0.8zM18.0,18.8h0.8v0.8h-0.8zM22.9,40.2h0.8v0.8h-0.8zM27.2,30.0h0.8v0.8h-0.8zM24.0,19.2h0.8v0.8h-0.8zM24.3,40.0h0.8v0.8h-0.8zM11.9,29.9h0.8v0.8h-0.8zM27.0,25.5h0.8v0.8h-0.8zM25.6,34.5h0.8v0.8h-0.8zM31.4,26.1h0.8v0.8h-0.8zM26.0,24.8h0.8v0.8h-0.8zM22.5,19.7h0.8v0.8h-0.8zM25.0,35.2h0.8v0.8h-0.8zM19.5,25.6h0.8v0.8h-0.8zM24.7,23.7h0.8v0.8h-0.8zM26.8,25.7h0.8v0.8h-0.8zM13.0,15.3h0.8v0.8h-0.8zM25.5,28.7h0.8v0.8h-0.8zM28.0,25.7h0.8v0.8h-0.8zM22.1,10.9h0.8v0.8h-0.8zM29.9,16.2h0.8v0.8h-0.8zM27.6,14.5h0.8v0.8h-0.8zM16.4,25.0h0.8v0.8h-0.8zM18.0,18.1h0.8v0.8h-0.8zM26.7,29.2h0.8v0.8h-0.8zM23.4,21.0h0.8v0.8h-0.8zM15.4,19.9h0.8v0.8h-0.8zM17.4,23.6h0.8v0.8h-0.8zM25.9,22.4h0.8v0.8h-0.8zM15.7,18.8h0.8v0.8h-0.8zM29.3,25.2h0.8v0.8h-0.8zM22.4,26.1h0.8v0.8h-0.8zM24.8,25.0h0.8v0.8h-0.8zM28.6,30.4h0.8v0.8h-0.8zM21.8,32.6h0.8v0.8h-0.8zM21.0,34.7h0.8v0.8h-0.8zM12.7,13.9h0.8v0.8h-0.8zM19.7,18.0h0.8v0.8h-0.8zM14.0,28.5h0.8v0.8h-0.8zM22.7,24.1h0.8v0.8h-0.8zM18.3,26.1h0.8v0.8h-0.8zM20.2,18.1h0.8v0.8h-0.8zM24.3,27.0h0.8v0.8h-0.8zM21.5,29.6h0.8v0.8h-0.8zM13.8,22.8h0.8v0.8h-0.8zM17.6,34.7h0.8v0.8h-0.8zM24.3,40.9h0.8v0.8h-0.8zM31.2,21.0h0.8v0.8h-0.8zM13.9,27.9h0.8v0.8h-0.8zM19.2,22.7h0.8v0.8h-0.8zM14.1,28.8h0.8v0.8h-0.8zM22.2,27.2h0.8v0.8h-0.8zM23.0,16.8h0.8v0.8h-0.8zM6.4,21.8h0.8v0.8h-0.8zM16.9,19.8h0.8v0.8h-0.8zM27.2,23.2h0.8v0.8h-0.8zM30.8,25.5h0.8v0.8h-0.8zM25.5,28.1h0.8v0.8h-0.8zM26.2,13.9h0.8v0.8h-0.8zM28.1,24.9h0.8v0.8h-0.8zM14.7,28.9h0.8v0.8h-0.8zM23.2,34.3h0.8v0.8h-0.8zM25.8,26.9h0.8v0.8h-0.8zM10.4,37.4h0.8v0.8h-0.8zM30.7,30.2h0.8v0.8h-0.8zM24.0,33.7h0.8v0.8h-0.8zM15.4,29.6h0.8v0.8h-0.8zM21.1,16.0h0.8v0.8h-0.8zM23.4,26.8h0.8v0.8h-0.8zM32.1,31.6h0.8v0.8h-0.8zM20.5,22.3h0.8v0.8h-0.8zM14.9,12.3h0.8v0.8h-0.8zM19.7,14.7h0.8v0.8h-0.8zM16.5,30.9h0.8v0.8h-0.8zM22.6,18.0h0.8v0.8h-0.8zM13.7,22.5h0.8v0.8h-0.8zM32.3,19.9h0.8v0.8h-0.8zM32.3,17.7h0.8v0.8h-0.8zM19.6,29.6h0.8v0.8h-0.8zM16.0,24.4h0.8v0.8h-0.8zM12.2,29.3h0.8v0.8h-0.8zM28.5,18.8h0.8v0.8h-0.8zM22.2,20.7h0.8v0.8h-0.8zM25.1,30.6h0.8v0.8h-0.8zM23.5,25.4h0.8v0.8h-0.8zM19.0,20.6h0.8v0.8h-0.8zM19.6,29.6h0.8v0.8h-0.8zM16.3,13.4h0.8v0.8h-0.8zM13.7,27.7h0.8v0.8h-0.8zM27.2,30.5h0.8v0.8h-0.8zM31.4,19.8h0.8v0.8h-0.8zM27.4,29.5h0.8v0.8h-0.8zM19.9,18.0h0.8v0.8h-0.8zM26.7,18.5h0.8v0.8h-0.8zM19.1,16.2h0.8v0.8h-0.8zM32.4,23.6h0.8v0.8h-0.8zM17.7,22.0h0.8v0.8h-0.8zM19.5,24.7h0.8v0.8h-0.8zM9.9,14.7h0.8v0.8h-0.8zM24.3,32.7h0.8v0.8h-0.8zM14.4,24.9h0.8v0.8h-0.8zM19.0,15.3h0.8v0.8h-0.8zM26.7,22.3h0.8v0.8h-0.8zM20.7,12.3h0.8v0.8h-0.8zM22.4,35.0h0.8v0.8h-0.8zM13.1,30.8h0.8v0.8h-0.8zM30.1,22.4h0.8v0.8h-0.8zM28.2,24.7h0.8v0.8h-0.8zM14.0,12.1h0.8v0.8h-0.8zM19.9,13.2h0.8v0.8h-0.8zM32.2,14.7h0.8v0.8h-0.8zM30.6,32.7h0.8v0.8h-0.8zM21.5,18.7h0.8v0.8h-0.8zM20.7,13.4h0.8v0.8h-0.8zM25.2,37.5h0.8v0.8h-0.8zM26.8,32.4h0.8v0.8h-0.8zM16.4,26.5h0.8v0.8h-0.8zM14.3,20.4h0.8v0.8h-0.8zM21.5,24.3h0.8v0.8h-0.8zM8.7,25.4h0.8v0.8h-0.8zM15.1,12.7h0.8v0.8h-0.8zM11.3,25.1h0.8v0.8h-0.8zM18.4,29.4h0.8v0.8h-0.8zM19.5,24.0h0.8v0.8h-0.8zM30.5,30.4h0.8v0.8h-0.8zM26.0,35.8h0.8v0.8h-0.8zM22.4,16.0h0.8v0.8h-0.8zM15.8,11.5h0.8v0.8h-0.8zM23.3,20.8h0.8v0.8h-0.8zM24.3,30.7h0.8v0.8h-0.8zM15.7,25.5h0.8v0.8h-0.8zM29.3,24.7h0.8v0.8h-0.8zM27.1,22.4h0.8v0.8h-0.8zM14.8,22.1h0.8v0.8h-0.8zM8.7,29.7h0.8v0.8h-0.8zM17.6,34.8h0.8v0.8h-0.8zM13.0,25.0h0.8v0.8h-0.8zM23.2,22.4h0.8v0.8h-0.8zM23.5,17.9h0.8v0.8h-0.8zM14.0,12.7h0.8v0.8h-0.8zM17.3,17.4h0.8v0.8h-0.8zM22.5,21.0h0.8v0.8h-0.8zM16.7,18.1h0.8v0.8h-0.8zM8.5,21.0h0.8v0.8h-0.8zM23.7,13.2h0.8v0.8h-0.8zM19.3,29.4h0.8v0.8h-0.8zM16.4,25.5h0.8v0.8h-0.8zM18.2,43.8h0.8v0.8h-0.8zM30.2,33.6h0.8v0.8h-0.8zM16.5,29.2h0.8v0.8h-0.8zM19.9,26.9h0.8v0.8h-0.8zM17.2,25.3h0.8v0.8h-0.8zM16.0,26.4h0.8v0.8h-0.8zM32.6,12.9h0.8v0.8h-0.8zM12.3,28.1h0.8v0.8h-0.8zM26.2,21.0h0.8v0.8h-0.8zM24.9,27.5h0.8v0.8h-0.8zM24.6,35.2h0.8v0.8h-0.8zM16.7,29.3h0.8v0.8h-0.8zM22.3,18.4h0.8v0.8h-0.8zM24.3,13.4h0.8v0.8h-0.8zM11.2,32.7h0.8v0.8h-0.8zM13.7,37.7h0.8v0.8h-0.8zM27.9,19.8h0.8v0.8h-0.8zM20.5,10.7h0.8v0.8h-0.8zM31.4,10.3h0.8v0.8h-0.8zM18.7,34.8h0.8v0.8h-0.8zM18.0,17.3h0.8v0.8h-0.8zM17.8,27.0h0.8v0.8h-0.8zM26.9,22.0h0.8v0.8h-0.8zM7.4,26.5h0.8v0.8h-0.8zM27.4,42.8h0.8v0.8h-0.8zM22.1,25.4h0.8v0.8h-0.8zM17.4,30.1h0.8v0.8h-0.8zM32.7,15.8h0.8v0.8h-0.8zM21.5,15.5h0.8v0.8h-0.8zM16.4,22.4h0.8v0.8h-0.8zM24.2,17.1h0.8v0.8h-0.8zM19.0,35.1h0.8v0.8h-0.8zM24.3,29.7h0.8v0.8h-0.8zM23.6,22.4h0.8v0.8h-0.8zM23.8,28.2h0.8v0.8h-0.8zM21.0,32.4h0.8v0.8h-0.8zM21.0,31.3h0.8v0.8h-0.8zM21.1,29.9h0.8v0.8h-0.8zM16.5,19.4h0.8v0.8h-0.8zM13.3,33.8h0.8v0.8h-0.8zM24.4,25.7h0.8v0.8h-0.8zM25.1,17.2h0.8v0.8h-0.8zM21.6,19.8h0.8v0.8h-0.8zM8.6,21.8h0.8v0.8h-0.8zM15.2,35.6h0.8v0.8h-0.8zM16.0,18.9h0.8v0.8h-0.8zM27.5,23.9h0.8v0.8h-0.8zM12.1,25.8h0.8v0.8h-0.8zM15.9,37.9h0.8v0.8h-0.8zM13.9,17.9h0.8v0.8h-0.8zM33.4,22.9h0.8v0.8h-0.8zM14.6,26.3h0.8v0.8h-0.8zM19.0,23.6h0.8v0.8h-0.8zM31.6,37.6h0.8v0.8h-0.8zM25.9,27.2h0.8v0.8h-0.8zM21.3,23.0h0.8v0.8h-0.8zM25.8,28.6h0.8v0.8h-0.8zM22.7,28.0h0.8v0.8h-0.8zM19.6,20.9h0.8v0.8h-0.8zM30.3,21.9h0.8v0.8h-0.8zM34.2,29.3h0.8v0.8h-0.8zM21.4,33.2h0.8v0.8h-0.8zM17.7,22.4h0.8v0.8h-0.8zM18.7,24.0h0.8v0.8h-0.8zM25.5,41.0h0.8v0.8h-0.8zM24.5,15.2h0.8v0.8h-0.8zM25.8,31.2h0.8v0.8h-0.8zM23.2,26.9h0.8v0.8h-0.8zM24.5,27.5h0.8v0.8h-0.8zM25.3,25.8h0.8v0.8h-0.8zM14.4,31.7h0.8v0.8h-0.8zM29.9,10.6h0.8v0.8h-0.8zM19.4,14.7h0.8v0.8h-0.8zM24.4,21.6h0.8v0.8h-0.8zM30.5,33.1h0.8v0.8h-0.8zM17.9,20.1h0.8v0.8h-0.8zM17.1,28.7h0.8v0.8h-0.8zM14.8,27.6h0.8v0.8h-0.8zM11.7,32.5h0.8v0.8h-0.8zM24.1,14.5h0.8v0.8h-0.8zM15.8,25.1h0.8v0.8h-0.8zM22.3,36.4h0.8v0.8h-0.8zM18.0,12.9h0.8v0.8h-0.8zM29.1,25.9h0.8v0.8h-0.8zM22.3,29.0h0.8v0.8h-0.8zM12.8,18.5h0.8v0.8h-0.8zM13.5,14.7h0.8v0.8h-0.8zM18.8,15.3h0.8v0.8h-0.8zM31.7,28.1h0.8v0.8h-0.8zM26.5,10.4h0.8v0.8h-0.8zM19.5,22.7h0.8v0.8h-0.8zM22.0,27.6h0.8v0.8h-0.8zM15.6,16.4h0.8v0.8h-0.8zM27.3,42.4h0.8v0.8h-0.8zM15.7,25.5h0.8v0.8h-0.8zM24.1,38.4h0.8v0.8h-0.8zM19.4,17.9h0.8v0.8h-0.8zM27.9,18.0h0.8v0.8h-0.8zM15.3,28.3h0.8v0.8h-0.8zM19.7,15.3h0.8v0.8h-0.8zM19.2,20.6h0.8v0.8h-0.8zM19.5,17.9h0.8v0.8h-0.8zM24.8,21.0h0.8v0.8h-0.8zM17.0,32.6h0.8v0.8h-0.8zM14.8,30.1h0.8v0.8h-0.8zM24.9,21.5h0.8v0.8h-0.8zM22.4,11.8h0.8v0.8h-0.8zM22.6,15.5h0.8v0.8h-0.8zM15.3,26.1h0.8v0.8h-0.8zM16.1,25.0h0.8v0.8h-0.8zM23.7,32.5h0.8v0.8h-0.8zM23.6,32.4h0.8v0.8h-0.8zM16.0,20.9h0.8v0.8h-0.8zM25.2,33.6h0.8v0.8h-0.8zM23.9,19.6h0.8v0.8h-0.8zM13.9,16.2h0.8v0.8h-0.8zM28.4,16.0h0.8v0.8h-0.8zM19.4,29.1h0.8v0.8h-0.8zM23.8,18.2h0.8v0.8h-0.8zM34.1,25.3h0.8v0.8h-0.8zM22.8,30.6h0.8v0.8h-0.8zM18.9,29.6h0.8v0.8h-0.8zM20.0,16.8h0.8v0.8h-0.8zM14.7,27.0h0.8v0.8h-0.8zM21.6,22.7h0.8v0.8h-0.8zM18.0,22.0h0.8v0.8h-0.8zM26.2,32.9h0.8v0.8h-0.8zM19.3,26.1h0.8v0.8h-0.8zM8.7,14.7h0.8v0.8h-0.8zM16.3,16.6h0.8v0.8h-0.8zM24.2,29.5h0.8v0.8h-0.8zM24.0,35.9h0.8v0.8h-0.8zM27.1,16.4h0.8v0.8h-0.8zM18.7,14.7h0.8v0.8h-0.8zM21.4,29.5h0.8v0.8h-0.8zM29.9,28.5h0.8v0.8h-0.8zM26.8,32.5h0.8v0.8h-0.8zM15.6,29.4h0.8v0.8h-0.8zM27.4,22.5h0.8v0.8h-0.8zM14.7,25.2h0.8v0.8h-0.8zM22.0,29.6h0.8v0.8h-0.8zM9.3,21.0h0.8v0.8h-0.8zM34.2,34.4h0.8v0.8h-0.8zM20.0,21.6h0.8v0.8h-0.8zM19.2,16.2h0.8v0.8h-0.8zM18.0,23.7h0.8v0.8h-0.8zM13.1,23.4h0.8v0.8h-0.8zM22.7,13.7h0.8v0.8h-0.8zM18.0,11.5h0.8v0.8h-0.8zM21.3,25.8h0.8v0.8h-0.8zM17.6,24.6h0.8v0.8h-0.8zM24.6,29.5h0.8v0.8h-0.8zM12.3,21.4h0.8v0.8h-0.8zM27.7,30.1h0.8v0.8h-0.8zM29.3,30.2h0.8v0.8h-0.8zM17.7,25.7h0.8v0.8h-0.8zM17.5,34.9h0.8v0.8h-0.8zM5.6,27.2h0.8v0.8h-0.8zM17.4,29.8h0.8v0.8h-0.8zM28.8,18.9h0.8v0.8h-0.8zM29.9,32.7h0.8v0.8h-0.8zM10.7,38.7h0.8v0.8h-0.8zM13.3,13.1h0.8v0.8h-0.8zM27.2,18.2h0.8v0.8h-0.8zM22.4,23.6h0.8v0.8h-0.8zM14.3,36.9h0.8v0.8h-0.8zM30.7,24.6h0.8v0.8h-0.8zM31.3,23.9h0.8v0.8h-0.8zM22.7,21.6h0.8v0.8h-0.8zM12.4,21.2h0.8v0.8h-0.8zM14.8,27.3h0.8v0.8h-0.8zM22.0,19.4h0.8v0.8h-0.8zM29.4,27.0h0.8v0.8h-0.8zM32.9,20.9h0.8v0.8h-0.8zM18.5,18.1h0.8v0.8h-0.8zM22.5,22.7h0.8v0.8h-0.8zM21.2,38.1h0.8v0.8h-0.8zM26.2,19.0h0.8v0.8h-0.8zM23.7,21.9h0.8v0.8h-0.8zM19.0,22.3h0.8v0.8h-0.8zM21.4,29.2h0.8v0.8h-0.8zM27.6,24.3h0.8v0.8h-0.8zM15.7,24.0h0.8v0.8h-0.8zM19.8,21.9h0.8v0.8h-0.8zM13.1,22.9h0.8v0.8h-0.8zM9.2,34.2h0.8v0.8h-0.8zM25.8,30.0h0.8v0.8h-0.8zM14.9,25.9h0.8v0.8h-0.8zM29.4,22.3h0.8v0.8h-0.8zM14.0,23.1h0.8v0.8h-0.8zM6.3,31.5h0.8v0.8h-0.8zM23.9,13.0h0.8v0.8h-0.8zM25.6,33.2h0.8v0.8h-0.8zM25.2,29.4h0.8v0.8h-0.8zM31.1,25.8h0.8v0.8h-0.8zM30.2,22.4h0.8v0.8h-0.8zM16.5,21.4h0.8v0.8h-0.8zM14.2,27.2h0.8v0.8h-0.8zM16.4,26.9h0.8v0.8h-0.8zM23.1,37.1h0.8v0.8h-0.8zM32.5,19.6h0.8v0.8h-0.8zM19.9,22.7h0.8v0.8h-0.8zM17.0,38.5h0.8v0.8h-0.8zM29.1,22.3h0.8v0.8h-0.8zM12.0,18.9h0.8v0.8h-0.8zM21.2,36.6h0.8v0.8h-0.8zM12.7,35.6h0.8v0.8h-0.8zM11.7,26.8h0.8v0.8h-0.8zM13.5,20.6h0.8v0.8h-0.8zM5.5,28.8h0.8v0.8h-0.8zM21.2,15.7h0.8v0.8h-0.8zM7.1,23.4h0.8v0.8h-0.8zM20.8,12.4h0.8v0.8h-0.8zM24.1,23.0h0.8v0.8h-0.8zM13.6,17.5h0.8v0.8h-0.8zM5.0,29.8h0.8v0.8h-0.8zM27.3,22.4h0.8v0.8h-0.8zM12.8,14.9h0.8v0.8h-0.8zM19.0,16.8h0.8v0.8h-0.8zM22.8,16.9h0.8v0.8h-0.8zM26.8,33.4h0.8v0.8h-0.8zM17.1,17.4h0.8v0.8h-0.8zM23.4,16.4h0.8v0.8h-0.8zM28.2,18.5h0.8v0.8h-0.8zM13.2,30.5h0.8v0.8h-0.8zM16.4,13.6h0.8v0.8h-0.8zM19.5,25.3h0.8v0.8h-0.8zM17.9,25.1h0.8v0.8h-0.8zM26.8,21.3h0.8v0.8h-0.8zM12.7,16.0h0.8v0.8h-0.8zM26.3,37.7h0.8v0.8h-0.8zM19.8,26.9h0.8v0.8h-0.8zM15.7,19.2h0.8v0.8h-0.8zM27.2,19.8h0.8v0.8h-0.8zM22.0,24.9h0.8v0.8h-0.8zM28.4,25.8h0.8v0.8h-0.8zM20.5,21.5h0.8v0.8h-0.8zM17.4,32.0h0.8v0.8h-0.8zM27.6,15.9h0.8v0.8h-0.8zM16.9,21.4h0.8v0.8h-0.8zM18.0,20.9h0.8v0.8h-0.8zM17.0,38.2h0.8v0.8h-0.8zM11.5,18.7h0.8v0.8h-0.8zM15.9,25.4h0.8v0.8h-0.8zM12.5,23.8h0.8v0.8h-0.8zM21.7,39.4h0.8v0.8h-0.8zM25.1,23.4h0.8v0.8h-0.8zM21.6,38.6h0.8v0.8h-0.8zM20.2,18.4h0.8v0.8h-0.8zM16.9,21.0h0.8v0.8h-0.8zM26.6,15.9h0.8v0.8h-0.8zM17.1,23.7h0.8v0.8h-0.8zM14.9,29.1h0.8v0.8h-0.8zM18.4,27.8h0.8v0.8h-0.8zM24.2,35.8h0.8v0.8h-0.8zM32.2,17.0h0.8v0.8h-0.8zM12.4,14.6h0.8v0.8h-0.8zM24.0,28.1h0.8v0.8h-0.8zM20.9,23.6h0.8v0.8h-0.8zM30.8,31.0h0.8v0.8h-0.8zM22.4,28.8h0.8v0.8h-0.8zM11.2,33.3h0.8v0.8h-0.8zM34.3,25.1h0.8v0.8h-0.8zM18.1,33.8h0.8v0.8h-0.8zM17.7,24.7h0.8v0.8h-0.8zM24.9,22.7h0.8v0.8h-0.8zM5.2,29.8h0.8v0.8h-0.8zM24.4,25.7h0.8v0.8h-0.8zM18.5,24.3h0.8v0.8h-0.8zM23.8,14.9h0.8v0.8h-0.8zM22.6,17.7h0.8v0.8h-0.8zM34.5,26.9h0.8v0.8h-0.8zM22.7,32.0h0.8v0.8h-0.8zM27.1,31.6h0.8v0.8h-0.8zM16.8,25.2h0.8v0.8h-0.8zM26.7,25.8h0.8v0.8h-0.8zM21.8,19.5h0.8v0.8h-0.8zM22.2,35.0h0.8v0.8h-0.8zM13.2,13.2h0.8v0.8h-0.8zM13.2,11.7h0.8v0.8h-0.8zM29.2,39.0h0.8v0.8h-0.8zM24.2,24.7h0.8v0.8h-0.8zM29.9,32.4h0.8v0.8h-0.8zM6.3,23.5h0.8v0.8h-0.8zM16.4,19.1h0.8v0.8h-0.8zM31.2,20.5h0.8v0.8h-0.8zM23.7,33.6h0.8v0.8h-0.8zM22.2,24.2h0.8v0.8h-0.8zM14.3,14.2h0.8v0.8h-0.8zM28.0,13.7h0.8v0.8h-0.8zM27.9,33.9h0.8v0.8h-0.8zM30.7,22.6h0.8v0.8h-0.8zM15.6,24.8h0.8v0.8h-0.8zM29.4,28.4h0.8v0.8h-0.8zM24.1,23.1h0.8v0.8h-0.8zM13.5,36.4h0.8v0.8h-0.8zM24.1,29.6h0.8v0.8h-0.8zM8.8,17.3h0.8v0.8h-0.8zM18.3,23.2h0.8v0.8h-0.8zM28.7,19.6h0.8v0.8h-0.8zM21.8,18.3h0.8v0.8h-0.8zM19.6,27.0h0.8v0.8h-0.8zM23.7,31.9h0.8v0.8h-0.8zM12.9,30.2h0.8v0.8h-0.8zM23.9,17.8h0.8v0.8h-0.8zM29.4,18.7h0.8v0.8h-0.8zM18.7,28.2h0.8v0.8h-0.8zM30.1,20.8h0.8v0.8h-0.8zM30.5,27.2h0.8v0.8h-0.8zM16.1,29.8h0.8v0.8h-0.8zM21.5,18.3h0.8v0.8h-0.8zM20.1,33.9h0.8v0.8h-0.8zM23.3,22.1h0.8v0.8h-0.8zM26.2,13.0h0.8v0.8h-0.8zM25.2,34.6h0.8v0.8h-0.8zM13.6,15.3h0.8v0.8h-0.8zM15.5,22.4h0.8v0.8h-0.8zM16.2,23.9h0.8v0.8h-0.8zM14.6,26.3h0.8v0.8h-0.8zM24.7,27.6h0.8v0.8h-0.8zM17.4,30.6h0.8v0.8h-0.8zM11.1,18.9h0.8v0.8h-0.8zM20.5,34.2h0.8v0.8h-0.8zM18.6,28.9h0.8v0.8h-0.8zM31.5,39.6h0.8v0.8h-0.8zM32.2,17.8h0.8v0.8h-0.8zM22.8,28.0h0.8v0.8h-0.8zM25.4,28.1h0.8v0.8h-0.8zM20.3,24.4h0.8v0.8h-0.8zM12.2,29.7h0.8v0.8h-0.8zM23.1,19.5h0.8v0.8h-0.8zM32.6,24.2h0.8v0.8h-0.8zM16.9,28.7h0.8v0.8h-0.8zM23.9,29.2h0.8v0.8h-0.8zM20.5,30.1h0.8v0.8h-0.8zM21.8,33.6h0.8v0.8h-0.8zM23.2,17.7h0.8v0.8h-0.8zM14.5,28.6h0.8v0.8h-0.8zM27.1,12.6h0.8v0.8h-0.8zM25.0,23.5h0.8v0.8h-0.8zM22.9,17.7h0.8v0.8h-0.8zM13.9,19.5h0.8v0.8h-0.8zM15.9,20.8h0.8v0.8h-0.8zM21.7,24.4h0.8v0.8h-0.8zM33.2,16.7h0.8v0.8h-0.8zM18.3,24.9h0.8v0.8h-0.8zM25.0,16.0h0.8v0.8h-0.8zM11.9,26.1h0.8v0.8h-0.8zM23.5,28.7h0.8v0.8h-0.8zM25.2,12.0h0.8v0.8h-0.8zM27.9,23.1h0.8v0.8h-0.8zM34.4,21.0h0.8v0.8h-0.8zM7.3,23.2h0.8v0.8h-0.8zM22.3,26.6h0.8v0.8h-0.8zM22.4,19.9h0.8v0.8h-0.8zM10.4,22.7h0.8v0.8h-0.8zM19.0,18.9h0.8v0.8h-0.8zM21.4,21.7h0.8v0.8h-0.8zM8.2,17.5h0.8v0.8h-0.8zM15.7,22.0h0.8v0.8h-0.8zM31.5,23.8h0.8v0.8h-0.8zM28.8,19.8h0.8v0.8h-0.8zM24.5,15.6h0.8v0.8h-0.8zM20.8,30.5h0.8v0.8h-0.8zM20.9,25.8h0.8v0.8h-0.8zM16.2,18.5h0.8v0.8h-0.8zM22.8,22.6h0.8v0.8h-0.8zM21.9,18.8h0.8v0.8h-0.8zM18.6,30.0h0.8v0.8h-0.8zM30.0,20.9h0.8v0.8h-0.8zM16.9,25.0h0.8v0.8h-0.8zM26.9,26.3h0.8v0.8h-0.8zM28.0,22.6h0.8v0.8h-0.8zM26.5,26.1h0.8v0.8h-0.8zM17.0,26.8h0.8v0.8h-0.8zM13.7,32.1h0.8v0.8h-0.8zM27.6,33.2h0.8v0.8h-0.8zM18.3,35.2h0.8v0.8h-0.8zM26.3,36.5h0.8v0.8h-0.8zM10.3,31.3h0.8v0.8h-0.8zM29.4,21.9h0.8v0.8h-0.8zM27.2,25.0h0.8v0.8h-0.8zM30.3,22.2h0.8v0.8h-0.8zM21.4,14.9h0.8v0.8h-0.8zM34.2,17.6h0.8v0.8h-0.8zM14.4,17.1h0.8v0.8h-0.8zM21.6,24.6h0.8v0.8h-0.8zM23.9,36.3h0.8v0.8h-0.8zM27.4,12.8h0.8v0.8h-0.8zM22.2,22.7h0.8v0.8h-0.8zM25.9,25.1h0.8v0.8h-0.8zM29.6,25.2h0.8v0.8h-0.8zM33.6,16.7h0.8v0.8h-0.8zM28.5,31.3h0.8v0.8h-0.8zM16.5,13.7h0.8v0.8h-0.8zM16.9,27.1h0.8v0.8h-0.8zM31.6,12.7h0.8v0.8h-0.8zM19.3,14.2h0.8v0.8h-0.8zM26.1,25.3h0.8v0.8h-0.8zM21.3,30.0h0.8v0.8h-0.8zM23.0,35.6h0.8v0.8h-0.8zM19.3,19.5h0.8v0.8h-0.8zM21.2,23.8h0.8v0.8h-0.8zM29.3,21.1h0.8v0.8h-0.8zM17.8,18.9h0.8v0.8h-0.8zM22.0,28.1h0.8v0.8h-0.8zM22.2,18.1h0.8v0.8h-0.8zM27.0,29.7h0.8v0.8h-0.8zM22.7,29.1h0.8v0.8h-0.8zM20.4,27.3h0.8v0.8h-0.8zM24.5,14.6h0.8v0.8h-0.8zM17.9,18.5h0.8v0.8h-0.8zM22.9,24.0h0.8v0.8h-0.8zM20.0,27.2h0.8v0.8h-0.8zM11.6,25.8h0.8v0.8h-0.8zM16.3,19.3h0.8v0.8h-0.8zM29.9,21.5h0.8v0.8h-0.8zM27.8,23.8h0.8v0.8h-0.8zM19.2,21.1h0.8v0.8h-0.8zM11.9,21.4h0.8v0.8h-0.8zM22.0,35.1h0.8v0.8h-0.8zM25.9,30.6h0.8v0.8h-0.8zM15.2,18.3h0.8v0.8h-0.8zM23.5,28.2h0.8v0.8h-0.8zM14.3,32.2h0.8v0.8h-0.8zM17.0,26.2h0.8v0.8h-0.8zM18.1,29.8h0.8v0.8h-0.8zM26.6,32.1h0.8v0.8h-0.8z" fill="#2038f8"/>
<g filter="url(#blur1)">
<path d="M6,43 C4,35 4.5,22 7.5,15 C10,10 20,9.5 26,11 C31,12.5 32.5,20 32.7,28 C33,36 32.5,43 27,43.5 C19,44.5 11,44.5 6,43 Z" fill="#1e36f4" opacity="0.82"/>
</g>
<g filter="url(#soft)">
<ellipse cx="18.5" cy="35" rx="12.5" ry="5" fill="#18b4f4"/>
<ellipse cx="18.5" cy="35" rx="11" ry="3.2" fill="#30e070"/>
<ellipse cx="25.2" cy="35" rx="3.2" ry="2.0" fill="#b8f030"/>
<ellipse cx="10.8" cy="34.9" rx="4.2" ry="3.8" fill="#f0e818"/>
<ellipse cx="10.3" cy="34.9" rx="2.8" ry="2.7" fill="#f41c0c"/>
</g>
</svg>
<rect x="50.30" y="481.30" width="46.40" height="47.00" fill="none" stroke="#666" stroke-width="0.9"/>
<svg x="115.30" y="429.40" width="46.60" height="47.00" viewBox="0 0 46.60 47.00" overflow="hidden">
<rect x="0.00" y="0.00" width="46.60" height="47.00" fill="#fff" />
<path d="M8.60,19.50 C8.70,18.28 9.10,16.65 9.80,15.50 C10.50,14.35 11.68,13.18 12.80,12.60 C13.92,12.02 15.22,11.93 16.50,12.00 C17.78,12.07 19.37,12.60 20.50,13.00 C21.63,13.40 22.85,13.85 23.30,14.40 C23.75,14.95 23.67,15.67 23.20,16.30 C22.73,16.93 21.45,17.75 20.50,18.20 C19.55,18.65 18.25,18.45 17.50,19.00 C16.75,19.55 16.42,20.50 16.00,21.50 C15.58,22.50 15.45,24.05 15.00,25.00 C14.55,25.95 14.00,27.10 13.30,27.20 C12.60,27.30 11.48,26.33 10.80,25.60 C10.12,24.87 9.57,23.82 9.20,22.80 C8.83,21.78 8.50,20.72 8.60,19.50Z" fill="#eca0ec" stroke="#cc20cc" stroke-width="1.0"/>
<path d="M9.79,19.17 C9.87,18.22 10.18,16.95 10.72,16.05 C11.27,15.15 12.19,14.24 13.06,13.79 C13.94,13.33 14.95,13.27 15.95,13.32 C16.95,13.37 18.19,13.79 19.07,14.10 C19.95,14.41 20.90,14.76 21.25,15.19 C21.61,15.62 21.54,16.18 21.18,16.67 C20.81,17.17 19.81,17.80 19.07,18.16 C18.33,18.51 17.32,18.35 16.73,18.78 C16.14,19.21 15.89,19.95 15.56,20.73 C15.23,21.51 15.13,22.72 14.78,23.46 C14.43,24.20 14.00,25.10 13.45,25.18 C12.91,25.25 12.04,24.50 11.50,23.93 C10.97,23.36 10.54,22.54 10.26,21.74 C9.97,20.95 9.71,20.12 9.79,19.17Z" fill="none" stroke="#c830c8" stroke-width="0.6" opacity="0.9"/>
<path d="M10.87,18.87 C10.93,18.16 11.16,17.22 11.56,16.55 C11.97,15.88 12.66,15.21 13.30,14.87 C13.95,14.53 14.71,14.48 15.45,14.52 C16.19,14.56 17.11,14.87 17.77,15.10 C18.43,15.33 19.13,15.59 19.39,15.91 C19.65,16.23 19.61,16.65 19.34,17.01 C19.07,17.38 18.32,17.86 17.77,18.12 C17.22,18.38 16.46,18.26 16.03,18.58 C15.60,18.90 15.40,19.45 15.16,20.03 C14.92,20.61 14.84,21.51 14.58,22.06 C14.32,22.61 14.00,23.28 13.59,23.34 C13.19,23.39 12.54,22.83 12.14,22.41 C11.75,21.98 11.43,21.37 11.22,20.78 C11.00,20.19 10.81,19.58 10.87,18.87Z" fill="none" stroke="#c830c8" stroke-width="0.6" opacity="0.9"/>
<path d="M11.84,18.60 C11.88,18.11 12.04,17.46 12.32,17.00 C12.60,16.54 13.07,16.07 13.52,15.84 C13.97,15.61 14.49,15.57 15.00,15.60 C15.51,15.63 16.15,15.84 16.60,16.00 C17.05,16.16 17.54,16.34 17.72,16.56 C17.90,16.78 17.87,17.07 17.68,17.32 C17.49,17.57 16.98,17.90 16.60,18.08 C16.22,18.26 15.70,18.18 15.40,18.40 C15.10,18.62 14.97,19.00 14.80,19.40 C14.63,19.80 14.58,20.42 14.40,20.80 C14.22,21.18 14.00,21.64 13.72,21.68 C13.44,21.72 12.99,21.33 12.72,21.04 C12.45,20.75 12.23,20.33 12.08,19.92 C11.93,19.51 11.80,19.09 11.84,18.60Z" fill="none" stroke="#c830c8" stroke-width="0.6" opacity="0.9"/>
<path d="M12.81,18.33 C12.83,18.06 12.92,17.70 13.08,17.45 C13.23,17.20 13.49,16.94 13.74,16.81 C13.98,16.68 14.27,16.67 14.55,16.68 C14.83,16.69 15.18,16.81 15.43,16.90 C15.68,16.99 15.95,17.09 16.05,17.21 C16.14,17.33 16.13,17.49 16.02,17.63 C15.92,17.77 15.64,17.95 15.43,18.04 C15.22,18.14 14.93,18.10 14.77,18.22 C14.61,18.34 14.53,18.55 14.44,18.77 C14.35,18.99 14.32,19.33 14.22,19.54 C14.12,19.75 14.00,20.00 13.85,20.02 C13.69,20.05 13.45,19.83 13.30,19.67 C13.15,19.51 13.02,19.28 12.94,19.06 C12.86,18.83 12.79,18.60 12.81,18.33Z" fill="none" stroke="#c830c8" stroke-width="0.6" opacity="0.9"/>
</svg>
<rect x="115.30" y="429.40" width="46.60" height="47.00" fill="none" stroke="#666" stroke-width="0.9"/>
<svg x="115.30" y="481.30" width="46.60" height="47.00" viewBox="0 0 46.60 47.00" overflow="hidden">
<rect x="0.00" y="0.00" width="46.60" height="47.00" fill="#fff" />
<path d="M8.60,22.00 C8.67,20.00 8.63,18.80 9.20,17.50 C9.77,16.20 10.95,15.08 12.00,14.20 C13.05,13.32 14.57,12.77 15.50,12.20 C16.43,11.63 17.02,10.75 17.60,10.80 C18.18,10.85 18.27,11.80 19.00,12.50 C19.73,13.20 21.27,14.25 22.00,15.00 C22.73,15.75 23.48,16.25 23.40,17.00 C23.32,17.75 22.40,18.50 21.50,19.50 C20.60,20.50 19.00,21.67 18.00,23.00 C17.00,24.33 16.17,26.00 15.50,27.50 C14.83,29.00 14.58,30.53 14.00,32.00 C13.42,33.47 12.63,35.88 12.00,36.30 C11.37,36.72 10.73,35.63 10.20,34.50 C9.67,33.37 9.07,31.58 8.80,29.50 C8.53,27.42 8.53,24.00 8.60,22.00Z" fill="#eca0ec" stroke="#cc20cc" stroke-width="1.0"/>
<path d="M9.68,21.78 C9.73,20.22 9.70,19.28 10.15,18.27 C10.59,17.26 11.51,16.38 12.33,15.70 C13.15,15.01 14.33,14.58 15.06,14.14 C15.79,13.69 16.24,13.01 16.70,13.04 C17.15,13.08 17.22,13.82 17.79,14.37 C18.36,14.92 19.56,15.74 20.13,16.32 C20.70,16.91 21.29,17.29 21.22,17.88 C21.16,18.46 20.44,19.05 19.74,19.83 C19.04,20.61 17.79,21.52 17.01,22.56 C16.23,23.60 15.58,24.90 15.06,26.07 C14.54,27.24 14.35,28.44 13.89,29.58 C13.44,30.72 12.82,32.61 12.33,32.93 C11.84,33.26 11.34,32.41 10.93,31.53 C10.51,30.65 10.04,29.25 9.83,27.63 C9.63,26.00 9.63,23.34 9.68,21.78Z" fill="none" stroke="#c830c8" stroke-width="0.6" opacity="0.9"/>
<path d="M10.66,21.58 C10.70,20.42 10.68,19.72 11.01,18.97 C11.33,18.22 12.02,17.57 12.63,17.06 C13.24,16.54 14.12,16.22 14.66,15.90 C15.20,15.57 15.54,15.05 15.88,15.08 C16.22,15.11 16.26,15.66 16.69,16.07 C17.12,16.48 18.00,17.09 18.43,17.52 C18.86,17.95 19.29,18.25 19.24,18.68 C19.19,19.11 18.66,19.55 18.14,20.13 C17.62,20.71 16.69,21.39 16.11,22.16 C15.53,22.93 15.05,23.90 14.66,24.77 C14.27,25.64 14.13,26.53 13.79,27.38 C13.45,28.23 13.00,29.63 12.63,29.87 C12.26,30.12 11.90,29.49 11.59,28.83 C11.28,28.17 10.93,27.14 10.77,25.93 C10.62,24.72 10.62,22.74 10.66,21.58Z" fill="none" stroke="#c830c8" stroke-width="0.6" opacity="0.9"/>
<path d="M11.54,21.40 C11.57,20.60 11.55,20.12 11.78,19.60 C12.01,19.08 12.48,18.63 12.90,18.28 C13.32,17.93 13.93,17.71 14.30,17.48 C14.67,17.25 14.91,16.90 15.14,16.92 C15.37,16.94 15.41,17.32 15.70,17.60 C15.99,17.88 16.61,18.30 16.90,18.60 C17.19,18.90 17.49,19.10 17.46,19.40 C17.43,19.70 17.06,20.00 16.70,20.40 C16.34,20.80 15.70,21.27 15.30,21.80 C14.90,22.33 14.57,23.00 14.30,23.60 C14.03,24.20 13.93,24.81 13.70,25.40 C13.47,25.99 13.15,26.95 12.90,27.12 C12.65,27.29 12.39,26.85 12.18,26.40 C11.97,25.95 11.73,25.23 11.62,24.40 C11.51,23.57 11.51,22.20 11.54,21.40Z" fill="none" stroke="#c830c8" stroke-width="0.6" opacity="0.9"/>
<path d="M12.42,21.22 C12.44,20.78 12.43,20.52 12.55,20.23 C12.68,19.94 12.94,19.70 13.17,19.50 C13.40,19.31 13.73,19.19 13.94,19.06 C14.15,18.94 14.27,18.75 14.40,18.76 C14.53,18.77 14.55,18.98 14.71,19.13 C14.87,19.28 15.21,19.52 15.37,19.68 C15.53,19.84 15.70,19.96 15.68,20.12 C15.66,20.29 15.46,20.45 15.26,20.67 C15.06,20.89 14.71,21.15 14.49,21.44 C14.27,21.73 14.09,22.10 13.94,22.43 C13.79,22.76 13.74,23.10 13.61,23.42 C13.48,23.74 13.31,24.27 13.17,24.37 C13.03,24.46 12.89,24.22 12.77,23.97 C12.66,23.72 12.52,23.33 12.47,22.87 C12.41,22.41 12.41,21.66 12.42,21.22Z" fill="none" stroke="#c830c8" stroke-width="0.6" opacity="0.9"/>
</svg>
<rect x="115.30" y="481.30" width="46.60" height="47.00" fill="none" stroke="#666" stroke-width="0.9"/>
<line x1="48.10" y1="434.60" x2="49.60" y2="434.60" stroke="#444" stroke-width="0.6" />
<text x="45.00" y="435.88" font-size="3.6" text-anchor="middle" fill="#444" transform="rotate(-90 45.00 434.60)">10<tspan dy="-1" font-size="2.6">5</tspan></text>
<line x1="48.10" y1="445.90" x2="49.60" y2="445.90" stroke="#444" stroke-width="0.6" />
<text x="45.00" y="447.18" font-size="3.6" text-anchor="middle" fill="#444" transform="rotate(-90 45.00 445.90)">10<tspan dy="-1" font-size="2.6">4</tspan></text>
<line x1="48.10" y1="458.10" x2="49.60" y2="458.10" stroke="#444" stroke-width="0.6" />
<text x="45.00" y="459.38" font-size="3.6" text-anchor="middle" fill="#444" transform="rotate(-90 45.00 458.10)">10<tspan dy="-1" font-size="2.6">3</tspan></text>
<line x1="48.10" y1="465.80" x2="49.60" y2="465.80" stroke="#444" stroke-width="0.6" />
<text x="45.00" y="467.08" font-size="3.6" text-anchor="middle" fill="#444" transform="rotate(-90 45.00 465.80)">0</text>
<line x1="48.10" y1="474.00" x2="49.60" y2="474.00" stroke="#444" stroke-width="0.6" />
<text x="45.00" y="475.28" font-size="3.6" text-anchor="middle" fill="#444" transform="rotate(-90 45.00 474.00)">-10<tspan dy="-1" font-size="2.6">3</tspan></text>
<rect x="48.30" y="465.00" width="1.6" height="1.6" fill="#111"/>
<line x1="48.80" y1="437.40" x2="49.60" y2="437.40" stroke="#666" stroke-width="0.4" />
<line x1="48.80" y1="439.40" x2="49.60" y2="439.40" stroke="#666" stroke-width="0.4" />
<line x1="48.80" y1="441.40" x2="49.60" y2="441.40" stroke="#666" stroke-width="0.4" />
<line x1="48.80" y1="442.40" x2="49.60" y2="442.40" stroke="#666" stroke-width="0.4" />
<line x1="48.80" y1="449.40" x2="49.60" y2="449.40" stroke="#666" stroke-width="0.4" />
<line x1="48.80" y1="451.40" x2="49.60" y2="451.40" stroke="#666" stroke-width="0.4" />
<line x1="48.80" y1="453.40" x2="49.60" y2="453.40" stroke="#666" stroke-width="0.4" />
<line x1="48.80" y1="454.40" x2="49.60" y2="454.40" stroke="#666" stroke-width="0.4" />
<line x1="48.80" y1="461.40" x2="49.60" y2="461.40" stroke="#666" stroke-width="0.4" />
<line x1="48.80" y1="462.40" x2="49.60" y2="462.40" stroke="#666" stroke-width="0.4" />
<line x1="48.80" y1="469.40" x2="49.60" y2="469.40" stroke="#666" stroke-width="0.4" />
<line x1="48.80" y1="471.40" x2="49.60" y2="471.40" stroke="#666" stroke-width="0.4" />
<line x1="113.10" y1="434.60" x2="114.60" y2="434.60" stroke="#444" stroke-width="0.6" />
<text x="110.00" y="435.88" font-size="3.6" text-anchor="middle" fill="#444" transform="rotate(-90 110.00 434.60)">10<tspan dy="-1" font-size="2.6">5</tspan></text>
<line x1="113.10" y1="445.90" x2="114.60" y2="445.90" stroke="#444" stroke-width="0.6" />
<text x="110.00" y="447.18" font-size="3.6" text-anchor="middle" fill="#444" transform="rotate(-90 110.00 445.90)">10<tspan dy="-1" font-size="2.6">4</tspan></text>
<line x1="113.10" y1="458.10" x2="114.60" y2="458.10" stroke="#444" stroke-width="0.6" />
<text x="110.00" y="459.38" font-size="3.6" text-anchor="middle" fill="#444" transform="rotate(-90 110.00 458.10)">10<tspan dy="-1" font-size="2.6">3</tspan></text>
<line x1="113.10" y1="465.80" x2="114.60" y2="465.80" stroke="#444" stroke-width="0.6" />
<text x="110.00" y="467.08" font-size="3.6" text-anchor="middle" fill="#444" transform="rotate(-90 110.00 465.80)">0</text>
<line x1="113.10" y1="474.00" x2="114.60" y2="474.00" stroke="#444" stroke-width="0.6" />
<text x="110.00" y="475.28" font-size="3.6" text-anchor="middle" fill="#444" transform="rotate(-90 110.00 474.00)">-10<tspan dy="-1" font-size="2.6">3</tspan></text>
<rect x="113.30" y="465.00" width="1.6" height="1.6" fill="#111"/>
<line x1="113.80" y1="437.40" x2="114.60" y2="437.40" stroke="#666" stroke-width="0.4" />
<line x1="113.80" y1="439.40" x2="114.60" y2="439.40" stroke="#666" stroke-width="0.4" />
<line x1="113.80" y1="441.40" x2="114.60" y2="441.40" stroke="#666" stroke-width="0.4" />
<line x1="113.80" y1="442.40" x2="114.60" y2="442.40" stroke="#666" stroke-width="0.4" />
<line x1="113.80" y1="449.40" x2="114.60" y2="449.40" stroke="#666" stroke-width="0.4" />
<line x1="113.80" y1="451.40" x2="114.60" y2="451.40" stroke="#666" stroke-width="0.4" />
<line x1="113.80" y1="453.40" x2="114.60" y2="453.40" stroke="#666" stroke-width="0.4" />
<line x1="113.80" y1="454.40" x2="114.60" y2="454.40" stroke="#666" stroke-width="0.4" />
<line x1="113.80" y1="461.40" x2="114.60" y2="461.40" stroke="#666" stroke-width="0.4" />
<line x1="113.80" y1="462.40" x2="114.60" y2="462.40" stroke="#666" stroke-width="0.4" />
<line x1="113.80" y1="469.40" x2="114.60" y2="469.40" stroke="#666" stroke-width="0.4" />
<line x1="113.80" y1="471.40" x2="114.60" y2="471.40" stroke="#666" stroke-width="0.4" />
<line x1="48.10" y1="486.50" x2="49.60" y2="486.50" stroke="#444" stroke-width="0.6" />
<text x="45.00" y="487.78" font-size="3.6" text-anchor="middle" fill="#444" transform="rotate(-90 45.00 486.50)">10<tspan dy="-1" font-size="2.6">5</tspan></text>
<line x1="48.10" y1="497.80" x2="49.60" y2="497.80" stroke="#444" stroke-width="0.6" />
<text x="45.00" y="499.08" font-size="3.6" text-anchor="middle" fill="#444" transform="rotate(-90 45.00 497.80)">10<tspan dy="-1" font-size="2.6">4</tspan></text>
<line x1="48.10" y1="510.00" x2="49.60" y2="510.00" stroke="#444" stroke-width="0.6" />
<text x="45.00" y="511.28" font-size="3.6" text-anchor="middle" fill="#444" transform="rotate(-90 45.00 510.00)">10<tspan dy="-1" font-size="2.6">3</tspan></text>
<line x1="48.10" y1="517.70" x2="49.60" y2="517.70" stroke="#444" stroke-width="0.6" />
<text x="45.00" y="518.98" font-size="3.6" text-anchor="middle" fill="#444" transform="rotate(-90 45.00 517.70)">0</text>
<line x1="48.10" y1="525.90" x2="49.60" y2="525.90" stroke="#444" stroke-width="0.6" />
<text x="45.00" y="527.18" font-size="3.6" text-anchor="middle" fill="#444" transform="rotate(-90 45.00 525.90)">-10<tspan dy="-1" font-size="2.6">3</tspan></text>
<rect x="48.30" y="516.90" width="1.6" height="1.6" fill="#111"/>
<line x1="48.80" y1="489.30" x2="49.60" y2="489.30" stroke="#666" stroke-width="0.4" />
<line x1="48.80" y1="491.30" x2="49.60" y2="491.30" stroke="#666" stroke-width="0.4" />
<line x1="48.80" y1="493.30" x2="49.60" y2="493.30" stroke="#666" stroke-width="0.4" />
<line x1="48.80" y1="494.30" x2="49.60" y2="494.30" stroke="#666" stroke-width="0.4" />
<line x1="48.80" y1="501.30" x2="49.60" y2="501.30" stroke="#666" stroke-width="0.4" />
<line x1="48.80" y1="503.30" x2="49.60" y2="503.30" stroke="#666" stroke-width="0.4" />
<line x1="48.80" y1="505.30" x2="49.60" y2="505.30" stroke="#666" stroke-width="0.4" />
<line x1="48.80" y1="506.30" x2="49.60" y2="506.30" stroke="#666" stroke-width="0.4" />
<line x1="48.80" y1="513.30" x2="49.60" y2="513.30" stroke="#666" stroke-width="0.4" />
<line x1="48.80" y1="514.30" x2="49.60" y2="514.30" stroke="#666" stroke-width="0.4" />
<line x1="48.80" y1="521.30" x2="49.60" y2="521.30" stroke="#666" stroke-width="0.4" />
<line x1="48.80" y1="523.30" x2="49.60" y2="523.30" stroke="#666" stroke-width="0.4" />
<line x1="113.10" y1="486.50" x2="114.60" y2="486.50" stroke="#444" stroke-width="0.6" />
<text x="110.00" y="487.78" font-size="3.6" text-anchor="middle" fill="#444" transform="rotate(-90 110.00 486.50)">10<tspan dy="-1" font-size="2.6">5</tspan></text>
<line x1="113.10" y1="497.80" x2="114.60" y2="497.80" stroke="#444" stroke-width="0.6" />
<text x="110.00" y="499.08" font-size="3.6" text-anchor="middle" fill="#444" transform="rotate(-90 110.00 497.80)">10<tspan dy="-1" font-size="2.6">4</tspan></text>
<line x1="113.10" y1="510.00" x2="114.60" y2="510.00" stroke="#444" stroke-width="0.6" />
<text x="110.00" y="511.28" font-size="3.6" text-anchor="middle" fill="#444" transform="rotate(-90 110.00 510.00)">10<tspan dy="-1" font-size="2.6">3</tspan></text>
<line x1="113.10" y1="517.70" x2="114.60" y2="517.70" stroke="#444" stroke-width="0.6" />
<text x="110.00" y="518.98" font-size="3.6" text-anchor="middle" fill="#444" transform="rotate(-90 110.00 517.70)">0</text>
<line x1="113.10" y1="525.90" x2="114.60" y2="525.90" stroke="#444" stroke-width="0.6" />
<text x="110.00" y="527.18" font-size="3.6" text-anchor="middle" fill="#444" transform="rotate(-90 110.00 525.90)">-10<tspan dy="-1" font-size="2.6">3</tspan></text>
<rect x="113.30" y="516.90" width="1.6" height="1.6" fill="#111"/>
<line x1="113.80" y1="489.30" x2="114.60" y2="489.30" stroke="#666" stroke-width="0.4" />
<line x1="113.80" y1="491.30" x2="114.60" y2="491.30" stroke="#666" stroke-width="0.4" />
<line x1="113.80" y1="493.30" x2="114.60" y2="493.30" stroke="#666" stroke-width="0.4" />
<line x1="113.80" y1="494.30" x2="114.60" y2="494.30" stroke="#666" stroke-width="0.4" />
<line x1="113.80" y1="501.30" x2="114.60" y2="501.30" stroke="#666" stroke-width="0.4" />
<line x1="113.80" y1="503.30" x2="114.60" y2="503.30" stroke="#666" stroke-width="0.4" />
<line x1="113.80" y1="505.30" x2="114.60" y2="505.30" stroke="#666" stroke-width="0.4" />
<line x1="113.80" y1="506.30" x2="114.60" y2="506.30" stroke="#666" stroke-width="0.4" />
<line x1="113.80" y1="513.30" x2="114.60" y2="513.30" stroke="#666" stroke-width="0.4" />
<line x1="113.80" y1="514.30" x2="114.60" y2="514.30" stroke="#666" stroke-width="0.4" />
<line x1="113.80" y1="521.30" x2="114.60" y2="521.30" stroke="#666" stroke-width="0.4" />
<line x1="113.80" y1="523.30" x2="114.60" y2="523.30" stroke="#666" stroke-width="0.4" />
<rect x="69.40" y="433.50" width="21.20" height="16.10" fill="none" stroke="#333" stroke-width="0.8"/>
<text x="80.00" y="440.87" font-size="6.4" text-anchor="middle" fill="#231f20">0.68%</text>
<line x1="90.60" y1="441.80" x2="112.50" y2="441.80" stroke="#333" stroke-width="0.8" />
<path d="M114.6,441.8 L111.2,439.8 L111.2,443.8 Z" fill="#111" />
<rect x="131.50" y="448.50" width="18.90" height="27.90" fill="none" stroke="#333" stroke-width="0.8"/>
<text x="141.00" y="473.87" font-size="6.4" text-anchor="middle" fill="#231f20">2.01%</text>
<rect x="69.60" y="485.60" width="21.00" height="15.40" fill="none" stroke="#333" stroke-width="0.8"/>
<text x="80.00" y="492.47" font-size="6.4" text-anchor="middle" fill="#231f20">2.05%</text>
<line x1="90.60" y1="489.20" x2="112.50" y2="489.20" stroke="#333" stroke-width="0.8" />
<path d="M114.6,489.2 L111.2,487.2 L111.2,491.2 Z" fill="#111" />
<rect x="131.40" y="500.20" width="18.90" height="28.10" fill="none" stroke="#333" stroke-width="0.8"/>
<text x="141.00" y="525.57" font-size="6.4" text-anchor="middle" fill="#231f20">3.91%</text>
<line x1="55.30" y1="528.30" x2="55.30" y2="529.80" stroke="#555" stroke-width="0.5" />
<line x1="58.80" y1="528.30" x2="58.80" y2="529.80" stroke="#555" stroke-width="0.5" />
<line x1="62.30" y1="528.30" x2="62.30" y2="529.80" stroke="#555" stroke-width="0.5" />
<line x1="70.30" y1="528.30" x2="70.30" y2="529.80" stroke="#555" stroke-width="0.5" />
<line x1="78.30" y1="528.30" x2="78.30" y2="529.80" stroke="#555" stroke-width="0.5" />
<line x1="86.30" y1="528.30" x2="86.30" y2="529.80" stroke="#555" stroke-width="0.5" />
<line x1="94.30" y1="528.30" x2="94.30" y2="529.80" stroke="#555" stroke-width="0.5" />
<line x1="120.30" y1="528.30" x2="120.30" y2="529.80" stroke="#555" stroke-width="0.5" />
<line x1="123.80" y1="528.30" x2="123.80" y2="529.80" stroke="#555" stroke-width="0.5" />
<line x1="127.30" y1="528.30" x2="127.30" y2="529.80" stroke="#555" stroke-width="0.5" />
<line x1="135.30" y1="528.30" x2="135.30" y2="529.80" stroke="#555" stroke-width="0.5" />
<line x1="143.30" y1="528.30" x2="143.30" y2="529.80" stroke="#555" stroke-width="0.5" />
<line x1="151.30" y1="528.30" x2="151.30" y2="529.80" stroke="#555" stroke-width="0.5" />
<line x1="159.30" y1="528.30" x2="159.30" y2="529.80" stroke="#555" stroke-width="0.5" />
<text x="61.50" y="533.08" font-size="3.6" text-anchor="middle" fill="#444">0</text>
<text x="72.80" y="533.08" font-size="3.6" text-anchor="middle" fill="#444">10<tspan dy="-1" font-size="2.6">3</tspan></text>
<text x="68.80" y="540.43" font-size="7.4" text-anchor="middle" fill="#231f20">Sca-1-BV605</text>
<text x="140.60" y="540.43" font-size="7.4" text-anchor="middle" fill="#231f20">CD150-eFlour450</text>
<text x="38.20" y="515.88" font-size="7.0" text-anchor="middle" fill="#231f20" transform="rotate(-90 38.20 513.40)">c-Kit-APC</text>
<text x="103.90" y="509.29" font-size="7.0" text-anchor="middle" fill="#231f20" transform="rotate(-90 103.90 506.80)">CD48-PEcy7</text>
<line x1="215.60" y1="458.70" x2="215.60" y2="530.30" stroke="#333" stroke-width="0.9" />
<line x1="215.60" y1="530.30" x2="270.00" y2="530.30" stroke="#333" stroke-width="0.9" />
<line x1="213.20" y1="530.30" x2="215.60" y2="530.30" stroke="#333" stroke-width="0.9" />
<text x="211.00" y="532.93" font-size="7.4" text-anchor="end" fill="#231f20">0.0</text>
<line x1="213.20" y1="512.40" x2="215.60" y2="512.40" stroke="#333" stroke-width="0.9" />
<text x="211.00" y="515.03" font-size="7.4" text-anchor="end" fill="#231f20">0.2</text>
<line x1="213.20" y1="494.50" x2="215.60" y2="494.50" stroke="#333" stroke-width="0.9" />
<text x="211.00" y="497.13" font-size="7.4" text-anchor="end" fill="#231f20">0.4</text>
<line x1="213.20" y1="476.60" x2="215.60" y2="476.60" stroke="#333" stroke-width="0.9" />
<text x="211.00" y="479.23" font-size="7.4" text-anchor="end" fill="#231f20">0.6</text>
<line x1="213.20" y1="458.70" x2="215.60" y2="458.70" stroke="#333" stroke-width="0.9" />
<text x="211.00" y="461.33" font-size="7.4" text-anchor="end" fill="#231f20">0.8</text>
<rect x="225.40" y="518.93" width="12.60" height="11.37" fill="#86add4" />
<text x="231.70" y="540.80" font-size="7.6" text-anchor="middle" fill="#231f20">Veh</text>
<rect x="247.60" y="492.71" width="12.60" height="37.59" fill="#e67b70" />
<text x="253.90" y="540.80" font-size="7.6" text-anchor="middle" fill="#231f20">BMP4</text>
<line x1="231.70" y1="518.93" x2="231.70" y2="515.35" stroke="#333" stroke-width="0.8" />
<line x1="229.50" y1="515.35" x2="233.90" y2="515.35" stroke="#333" stroke-width="0.8" />
<line x1="229.50" y1="518.93" x2="233.90" y2="518.93" stroke="#333" stroke-width="0.8" />
<line x1="253.90" y1="492.71" x2="253.90" y2="486.89" stroke="#333" stroke-width="0.8" />
<line x1="251.70" y1="486.89" x2="256.10" y2="486.89" stroke="#333" stroke-width="0.8" />
<line x1="251.70" y1="492.71" x2="256.10" y2="492.71" stroke="#333" stroke-width="0.8" />
<circle cx="231.20" cy="507.80" r="1.00" fill="#7a8488" stroke="#1a1a1a" stroke-width="0.7" />
<circle cx="230.30" cy="510.10" r="1.00" fill="#7a8488" stroke="#1a1a1a" stroke-width="0.7" />
<circle cx="233.10" cy="510.10" r="1.00" fill="#7a8488" stroke="#1a1a1a" stroke-width="0.7" />
<circle cx="231.90" cy="515.90" r="1.00" fill="#7a8488" stroke="#1a1a1a" stroke-width="0.7" />
<circle cx="232.60" cy="520.60" r="1.00" fill="#7a8488" stroke="#1a1a1a" stroke-width="0.7" />
<circle cx="229.60" cy="526.40" r="1.00" fill="#7a8488" stroke="#1a1a1a" stroke-width="0.7" />
<circle cx="233.10" cy="526.00" r="1.00" fill="#7a8488" stroke="#1a1a1a" stroke-width="0.7" />
<circle cx="230.30" cy="528.80" r="1.00" fill="#7a8488" stroke="#1a1a1a" stroke-width="0.7" />
<circle cx="233.10" cy="528.80" r="1.00" fill="#7a8488" stroke="#1a1a1a" stroke-width="0.7" />
<circle cx="252.20" cy="471.50" r="1.00" fill="#7a8488" stroke="#1a1a1a" stroke-width="0.7" />
<circle cx="256.00" cy="472.70" r="1.00" fill="#7a8488" stroke="#1a1a1a" stroke-width="0.7" />
<circle cx="253.40" cy="476.20" r="1.00" fill="#7a8488" stroke="#1a1a1a" stroke-width="0.7" />
<circle cx="251.80" cy="500.70" r="1.00" fill="#7a8488" stroke="#1a1a1a" stroke-width="0.7" />
<circle cx="255.30" cy="501.20" r="1.00" fill="#7a8488" stroke="#1a1a1a" stroke-width="0.7" />
<circle cx="252.20" cy="505.40" r="1.00" fill="#7a8488" stroke="#1a1a1a" stroke-width="0.7" />
<circle cx="255.50" cy="507.10" r="1.00" fill="#7a8488" stroke="#1a1a1a" stroke-width="0.7" />
<text x="245.20" y="465.60" font-size="6.2" text-anchor="middle" fill="#231f20">0.001</text>
<text x="190.31" y="497.70" font-size="7.88" text-anchor="middle" fill="#231f20" transform="rotate(-90 190.31 494.90)">Percentage of LSK (%)</text>
<line x1="314.60" y1="458.70" x2="314.60" y2="530.40" stroke="#333" stroke-width="0.9" />
<line x1="314.60" y1="530.40" x2="368.80" y2="530.40" stroke="#333" stroke-width="0.9" />
<line x1="312.20" y1="530.40" x2="314.60" y2="530.40" stroke="#333" stroke-width="0.9" />
<text x="310.00" y="533.03" font-size="7.4" text-anchor="end" fill="#231f20">0.00</text>
<line x1="312.20" y1="512.48" x2="314.60" y2="512.48" stroke="#333" stroke-width="0.9" />
<text x="310.00" y="515.10" font-size="7.4" text-anchor="end" fill="#231f20">0.01</text>
<line x1="312.20" y1="494.55" x2="314.60" y2="494.55" stroke="#333" stroke-width="0.9" />
<text x="310.00" y="497.18" font-size="7.4" text-anchor="end" fill="#231f20">0.02</text>
<line x1="312.20" y1="476.62" x2="314.60" y2="476.62" stroke="#333" stroke-width="0.9" />
<text x="310.00" y="479.25" font-size="7.4" text-anchor="end" fill="#231f20">0.03</text>
<line x1="312.20" y1="458.70" x2="314.60" y2="458.70" stroke="#333" stroke-width="0.9" />
<text x="310.00" y="461.33" font-size="7.4" text-anchor="end" fill="#231f20">0.04</text>
<rect x="324.40" y="522.15" width="12.60" height="8.25" fill="#86add4" />
<text x="330.70" y="540.80" font-size="7.6" text-anchor="middle" fill="#231f20">Veh</text>
<rect x="347.00" y="491.50" width="12.40" height="38.90" fill="#e67b70" />
<text x="353.20" y="540.80" font-size="7.6" text-anchor="middle" fill="#231f20">BMP4</text>
<line x1="330.70" y1="522.15" x2="330.70" y2="519.47" stroke="#333" stroke-width="0.8" />
<line x1="328.50" y1="519.47" x2="332.90" y2="519.47" stroke="#333" stroke-width="0.8" />
<line x1="328.50" y1="522.15" x2="332.90" y2="522.15" stroke="#333" stroke-width="0.8" />
<line x1="353.20" y1="491.50" x2="353.20" y2="484.33" stroke="#333" stroke-width="0.8" />
<line x1="351.00" y1="484.33" x2="355.40" y2="484.33" stroke="#333" stroke-width="0.8" />
<line x1="351.00" y1="491.50" x2="355.40" y2="491.50" stroke="#333" stroke-width="0.8" />
<circle cx="330.20" cy="507.29" r="1.00" fill="#7a8488" stroke="#1a1a1a" stroke-width="0.7" />
<circle cx="330.20" cy="515.20" r="1.00" fill="#7a8488" stroke="#1a1a1a" stroke-width="0.7" />
<circle cx="330.20" cy="517.10" r="1.00" fill="#7a8488" stroke="#1a1a1a" stroke-width="0.7" />
<circle cx="330.20" cy="523.00" r="1.00" fill="#7a8488" stroke="#1a1a1a" stroke-width="0.7" />
<circle cx="325.80" cy="528.30" r="1.00" fill="#7a8488" stroke="#1a1a1a" stroke-width="0.7" />
<circle cx="328.40" cy="528.30" r="1.00" fill="#7a8488" stroke="#1a1a1a" stroke-width="0.7" />
<circle cx="331.40" cy="528.30" r="1.00" fill="#7a8488" stroke="#1a1a1a" stroke-width="0.7" />
<circle cx="334.40" cy="528.30" r="1.00" fill="#7a8488" stroke="#1a1a1a" stroke-width="0.7" />
<circle cx="336.80" cy="528.30" r="1.00" fill="#7a8488" stroke="#1a1a1a" stroke-width="0.7" />
<circle cx="352.90" cy="467.61" r="1.00" fill="#7a8488" stroke="#1a1a1a" stroke-width="0.7" />
<circle cx="352.90" cy="474.99" r="1.00" fill="#7a8488" stroke="#1a1a1a" stroke-width="0.7" />
<circle cx="356.40" cy="473.90" r="1.00" fill="#7a8488" stroke="#1a1a1a" stroke-width="0.7" />
<circle cx="352.90" cy="483.90" r="1.00" fill="#7a8488" stroke="#1a1a1a" stroke-width="0.7" />
<circle cx="352.90" cy="495.39" r="1.00" fill="#7a8488" stroke="#1a1a1a" stroke-width="0.7" />
<circle cx="349.40" cy="512.40" r="1.00" fill="#7a8488" stroke="#1a1a1a" stroke-width="0.7" />
<circle cx="352.90" cy="511.29" r="1.00" fill="#7a8488" stroke="#1a1a1a" stroke-width="0.7" />
<circle cx="356.60" cy="512.01" r="1.00" fill="#7a8488" stroke="#1a1a1a" stroke-width="0.7" />
<text x="345.90" y="462.10" font-size="6.2" text-anchor="middle" fill="#231f20">&lt;0.001</text>
<text x="285.32" y="497.36" font-size="7.77" text-anchor="middle" fill="#231f20" transform="rotate(-90 285.32 494.60)">Percentage of HSC (%)</text>
<text x="402.50" y="425.80" font-size="14" text-anchor="start" fill="#231f20" font-weight="bold">j</text>
<line x1="427.40" y1="456.10" x2="427.40" y2="528.40" stroke="#333" stroke-width="0.9" />
<line x1="427.40" y1="528.40" x2="481.70" y2="528.40" stroke="#333" stroke-width="0.9" />
<line x1="425.00" y1="528.40" x2="427.40" y2="528.40" stroke="#333" stroke-width="0.9" />
<text x="422.80" y="531.03" font-size="7.4" text-anchor="end" fill="#231f20">0</text>
<line x1="425.00" y1="504.30" x2="427.40" y2="504.30" stroke="#333" stroke-width="0.9" />
<text x="422.80" y="506.93" font-size="7.4" text-anchor="end" fill="#231f20">20</text>
<line x1="425.00" y1="480.20" x2="427.40" y2="480.20" stroke="#333" stroke-width="0.9" />
<text x="422.80" y="482.83" font-size="7.4" text-anchor="end" fill="#231f20">40</text>
<line x1="425.00" y1="456.10" x2="427.40" y2="456.10" stroke="#333" stroke-width="0.9" />
<text x="422.80" y="458.73" font-size="7.4" text-anchor="end" fill="#231f20">60</text>
<rect x="436.60" y="525.39" width="12.80" height="3.01" fill="#86add4" />
<text x="443.00" y="539.40" font-size="7.6" text-anchor="middle" fill="#231f20">Veh</text>
<rect x="459.30" y="489.00" width="12.80" height="39.40" fill="#e67b70" />
<text x="465.70" y="539.40" font-size="7.6" text-anchor="middle" fill="#231f20">BMP4</text>
<line x1="442.80" y1="525.39" x2="442.80" y2="524.30" stroke="#333" stroke-width="0.8" />
<line x1="440.60" y1="524.30" x2="445.00" y2="524.30" stroke="#333" stroke-width="0.8" />
<line x1="440.60" y1="525.39" x2="445.00" y2="525.39" stroke="#333" stroke-width="0.8" />
<line x1="465.70" y1="489.00" x2="465.70" y2="484.78" stroke="#333" stroke-width="0.8" />
<line x1="463.50" y1="484.78" x2="467.90" y2="484.78" stroke="#333" stroke-width="0.8" />
<line x1="463.50" y1="489.00" x2="467.90" y2="489.00" stroke="#333" stroke-width="0.8" />
<circle cx="442.40" cy="518.70" r="1.00" fill="#7a8488" stroke="#1a1a1a" stroke-width="0.7" />
<circle cx="437.80" cy="522.70" r="1.00" fill="#7a8488" stroke="#1a1a1a" stroke-width="0.7" />
<circle cx="440.10" cy="523.40" r="1.00" fill="#7a8488" stroke="#1a1a1a" stroke-width="0.7" />
<circle cx="443.60" cy="523.40" r="1.00" fill="#7a8488" stroke="#1a1a1a" stroke-width="0.7" />
<circle cx="445.20" cy="523.40" r="1.00" fill="#7a8488" stroke="#1a1a1a" stroke-width="0.7" />
<circle cx="437.30" cy="527.30" r="1.00" fill="#7a8488" stroke="#1a1a1a" stroke-width="0.7" />
<circle cx="440.10" cy="527.30" r="1.00" fill="#7a8488" stroke="#1a1a1a" stroke-width="0.7" />
<circle cx="442.90" cy="527.30" r="1.00" fill="#7a8488" stroke="#1a1a1a" stroke-width="0.7" />
<circle cx="445.90" cy="527.30" r="1.00" fill="#7a8488" stroke="#1a1a1a" stroke-width="0.7" />
<circle cx="449.00" cy="527.30" r="1.00" fill="#7a8488" stroke="#1a1a1a" stroke-width="0.7" />
<circle cx="465.30" cy="465.40" r="1.00" fill="#7a8488" stroke="#1a1a1a" stroke-width="0.7" />
<circle cx="465.30" cy="481.80" r="1.00" fill="#7a8488" stroke="#1a1a1a" stroke-width="0.7" />
<circle cx="463.50" cy="483.60" r="1.00" fill="#7a8488" stroke="#1a1a1a" stroke-width="0.7" />
<circle cx="465.30" cy="486.40" r="1.00" fill="#7a8488" stroke="#1a1a1a" stroke-width="0.7" />
<circle cx="465.30" cy="490.00" r="1.00" fill="#7a8488" stroke="#1a1a1a" stroke-width="0.7" />
<circle cx="465.30" cy="495.80" r="1.00" fill="#7a8488" stroke="#1a1a1a" stroke-width="0.7" />
<circle cx="465.30" cy="500.90" r="1.00" fill="#7a8488" stroke="#1a1a1a" stroke-width="0.7" />
<circle cx="465.30" cy="503.50" r="1.00" fill="#7a8488" stroke="#1a1a1a" stroke-width="0.7" />
<text x="456.00" y="461.80" font-size="6.2" text-anchor="middle" fill="#231f20">&lt;0.001</text>
<text x="402.85" y="494.45" font-size="7.47" text-anchor="middle" fill="#231f20" transform="rotate(-90 402.85 491.80)">Number of HSC (x10<tspan dy="-2.5" font-size="4.5">3</tspan><tspan dy="2.5">)</tspan></text>
<text x="512.00" y="425.80" font-size="14" text-anchor="start" fill="#231f20" font-weight="bold">k</text>
<line x1="544.60" y1="455.90" x2="544.60" y2="528.40" stroke="#333" stroke-width="0.9" />
<line x1="544.60" y1="528.40" x2="599.40" y2="528.40" stroke="#333" stroke-width="0.9" />
<line x1="542.20" y1="528.40" x2="544.60" y2="528.40" stroke="#333" stroke-width="0.9" />
<text x="540.00" y="531.03" font-size="7.4" text-anchor="end" fill="#231f20">0</text>
<line x1="542.20" y1="510.27" x2="544.60" y2="510.27" stroke="#333" stroke-width="0.9" />
<text x="540.00" y="512.90" font-size="7.4" text-anchor="end" fill="#231f20">20</text>
<line x1="542.20" y1="492.15" x2="544.60" y2="492.15" stroke="#333" stroke-width="0.9" />
<text x="540.00" y="494.78" font-size="7.4" text-anchor="end" fill="#231f20">40</text>
<line x1="542.20" y1="474.02" x2="544.60" y2="474.02" stroke="#333" stroke-width="0.9" />
<text x="540.00" y="476.65" font-size="7.4" text-anchor="end" fill="#231f20">60</text>
<line x1="542.20" y1="455.90" x2="544.60" y2="455.90" stroke="#333" stroke-width="0.9" />
<text x="540.00" y="458.53" font-size="7.4" text-anchor="end" fill="#231f20">80</text>
<rect x="551.60" y="521.15" width="13.80" height="7.25" fill="#e67b70" />
<rect x="551.60" y="503.02" width="13.80" height="18.12" fill="#86add4" />
<rect x="551.60" y="497.59" width="13.80" height="5.44" fill="#92c882" />
<line x1="555.50" y1="520.65" x2="561.50" y2="520.65" stroke="#111" stroke-width="0.9" />
<line x1="555.50" y1="502.52" x2="561.50" y2="502.52" stroke="#111" stroke-width="0.9" />
<line x1="555.50" y1="497.09" x2="561.50" y2="497.09" stroke="#111" stroke-width="0.9" />
<text x="558.50" y="537.30" font-size="7.6" text-anchor="middle" fill="#231f20">Veh</text>
<rect x="579.00" y="513.90" width="13.80" height="14.50" fill="#e67b70" />
<rect x="579.00" y="476.74" width="13.80" height="37.16" fill="#86add4" />
<rect x="579.00" y="465.87" width="13.80" height="10.88" fill="#92c882" />
<line x1="582.90" y1="513.40" x2="588.90" y2="513.40" stroke="#111" stroke-width="0.9" />
<line x1="582.90" y1="476.24" x2="588.90" y2="476.24" stroke="#111" stroke-width="0.9" />
<line x1="582.90" y1="465.37" x2="588.90" y2="465.37" stroke="#111" stroke-width="0.9" />
<text x="585.90" y="537.30" font-size="7.6" text-anchor="middle" fill="#231f20">BMP4</text>
<text x="571.30" y="457.10" font-size="6.2" text-anchor="middle" fill="#231f20">&lt;0.001</text>
<text x="524.60" y="492.43" font-size="7.41" text-anchor="middle" fill="#231f20" transform="rotate(-90 524.60 489.80)">CFU number/10<tspan dy="-2.5" font-size="4.5">4</tspan><tspan dy="2.5"> cells</tspan></text>
<rect x="611.70" y="479.40" width="5.90" height="5.80" fill="#92c882" />
<text x="618.60" y="485.00" font-size="7.6" text-anchor="start" fill="#231f20">CFU-GEMM</text>
<rect x="611.70" y="488.30" width="5.90" height="5.80" fill="#86add4" />
<text x="618.60" y="493.90" font-size="7.6" text-anchor="start" fill="#231f20">CFU-GM</text>
<rect x="611.70" y="496.90" width="5.90" height="5.80" fill="#e67b70" />
<text x="618.60" y="502.50" font-size="7.6" text-anchor="start" fill="#231f20">BFU-E</text>
<text x="3.20" y="573.60" font-size="14" text-anchor="start" fill="#231f20" font-weight="bold">l</text>
<g transform="translate(29.20,600.00) scale(1.000)">
<path d="M25.5,10.8 C31,12.8 37,10.6 41.5,12.2 C44,13.2 45,15.2 45.2,18" fill="none" stroke="#e9a58f" stroke-width="0.9" />
<path d="M8.2,10 L9.8,10 L9.4,14 L8.2,14 Z" fill="#3b3738" />
<path d="M19,10.5 L22,10.5 L21.2,14.2 L19.6,14.2 Z" fill="#3b3738" />
<ellipse cx="8.2" cy="14.6" rx="2.4" ry="0.85" fill="#e9a58f"/>
<ellipse cx="20.6" cy="14.9" rx="2.5" ry="0.85" fill="#e9a58f"/>
<ellipse cx="13.5" cy="13.4" rx="1.6" ry="0.7" fill="#e9a58f"/>
<path d="M0,0 C1.5,-1.3 4,-2.4 7,-3.0 C10,-3.6 14,-3.6 18,-2.4 C22,-1.0 25,2.2 26.2,6.2 C27,9.2 26.4,11.8 24,12.6 C20,13.3 14,13.2 10.5,12.0 C7.5,10.8 5.5,8 3.6,5 C2.4,3.2 0.9,2 0.1,1.1 C-0.2,0.6 -0.2,0.2 0,0 Z" fill="#3b3738" />
<ellipse cx="9.0" cy="-2.0" rx="1.9" ry="2.1" fill="#e9a58f" stroke="#3b3738" stroke-width="0.5"/>
<circle cx="4.00" cy="-0.20" r="0.50" fill="#c0392b" />
</g>
<g transform="translate(29.40,644.80) scale(1.000)">
<path d="M25.5,10.8 C31,12.8 37,10.6 41.5,12.2 C44,13.2 45,15.2 45.2,18" fill="none" stroke="#e9a58f" stroke-width="0.9" />
<path d="M8.2,10 L9.8,10 L9.4,14 L8.2,14 Z" fill="#3b3738" />
<path d="M19,10.5 L22,10.5 L21.2,14.2 L19.6,14.2 Z" fill="#3b3738" />
<ellipse cx="8.2" cy="14.6" rx="2.4" ry="0.85" fill="#e9a58f"/>
<ellipse cx="20.6" cy="14.9" rx="2.5" ry="0.85" fill="#e9a58f"/>
<ellipse cx="13.5" cy="13.4" rx="1.6" ry="0.7" fill="#e9a58f"/>
<path d="M0,0 C1.5,-1.3 4,-2.4 7,-3.0 C10,-3.6 14,-3.6 18,-2.4 C22,-1.0 25,2.2 26.2,6.2 C27,9.2 26.4,11.8 24,12.6 C20,13.3 14,13.2 10.5,12.0 C7.5,10.8 5.5,8 3.6,5 C2.4,3.2 0.9,2 0.1,1.1 C-0.2,0.6 -0.2,0.2 0,0 Z" fill="#3b3738" />
<ellipse cx="9.0" cy="-2.0" rx="1.9" ry="2.1" fill="#e9a58f" stroke="#3b3738" stroke-width="0.5"/>
<circle cx="4.00" cy="-0.20" r="0.50" fill="#c0392b" />
</g>
<g transform="translate(19.60,578.60) scale(1.000)">
<path d="M0,0 L6.6,6.6 L4.5,7.4 L10.4,16.9 L2.3,9.4 L4.5,8.7 Z" fill="#f6a82c" />
<path d="M2.2,3.2 L5.2,6.6 L4.2,7.0 Z" fill="#fcd9a0" />
</g>
<text x="38.90" y="582.40" font-size="7.6" text-anchor="middle" fill="#231f20">6.5 Gy</text>
<g transform="translate(52.50,597.80) rotate(-41.19)">
<line x1="0.00" y1="0.00" x2="4.04" y2="0.00" stroke="#555" stroke-width="0.6" />
<rect x="4.04" y="-1.70" width="11.71" height="3.40" fill="#1a1a1a" />
<line x1="15.75" y1="-2.60" x2="15.75" y2="2.60" stroke="#1a1a1a" stroke-width="0.9" />
<rect x="15.75" y="-0.70" width="3.43" height="1.40" fill="#1a1a1a" />
<line x1="19.39" y1="-2.10" x2="19.39" y2="2.10" stroke="#1a1a1a" stroke-width="1.1" />
<line x1="6.06" y1="-1.70" x2="6.06" y2="0.00" stroke="#888" stroke-width="0.4" />
<line x1="8.48" y1="-1.70" x2="8.48" y2="0.00" stroke="#888" stroke-width="0.4" />
<line x1="10.91" y1="-1.70" x2="10.91" y2="0.00" stroke="#888" stroke-width="0.4" />
</g>
<text x="80.00" y="582.90" font-size="7.6" text-anchor="middle" fill="#231f20">±BMP4</text>
<line x1="63.50" y1="603.60" x2="95.70" y2="603.60" stroke="#555" stroke-width="1.1" />
<path d="M100.90,603.60 L95.70,606.60 L95.70,600.60 Z" fill="#111" />
<text x="80.00" y="600.30" font-size="7.6" text-anchor="middle" fill="#231f20">10 days</text>
<line x1="63.50" y1="650.70" x2="95.70" y2="650.70" stroke="#555" stroke-width="1.1" />
<path d="M100.90,650.70 L95.70,653.70 L95.70,647.70 Z" fill="#111" />
<text x="50.80" y="626.00" font-size="7.6" text-anchor="middle" fill="#231f20">CD45.2</text>
<text x="50.80" y="670.50" font-size="7.6" text-anchor="middle" fill="#231f20">CD45.1</text>
<g transform="translate(106.10,595.20) rotate(6.34)">
<path d="M-0.9,1.2 C-1.9,0.4 -1.7,-0.9 -0.6,-0.7 C-0.3,-1.5 0.7,-1.5 1.0,-0.7 C2.0,-0.9 2.1,0.4 1.1,1.2 L0.8,22.3 C1.9,23.1 1.8,24.3 0.7,24.1 C0.3,24.9 -0.7,24.9 -0.9,24.1 C-2.0,24.3 -2.1,23.1 -0.9,22.3 Z" fill="#e6d2bd" stroke="#cfb9a2" stroke-width="0.3" />
</g>
<g transform="translate(106.10,637.00) rotate(6.39)">
<path d="M-0.9,1.2 C-1.9,0.4 -1.7,-0.9 -0.6,-0.7 C-0.3,-1.5 0.7,-1.5 1.0,-0.7 C2.0,-0.9 2.1,0.4 1.1,1.2 L0.8,22.1 C1.9,22.9 1.8,24.1 0.7,23.9 C0.3,24.7 -0.7,24.7 -0.9,23.9 C-2.0,24.1 -2.1,22.9 -0.9,22.1 Z" fill="#e6d2bd" stroke="#cfb9a2" stroke-width="0.3" />
</g>
<circle cx="111.10" cy="593.20" r="2.10" fill="#5cbf60" />
<circle cx="111.10" cy="593.20" r="0.80" fill="#3e9e44" />
<circle cx="116.10" cy="592.60" r="2.10" fill="#5cbf60" />
<circle cx="116.10" cy="592.60" r="0.80" fill="#3e9e44" />
<circle cx="114.60" cy="597.00" r="2.10" fill="#5cbf60" />
<circle cx="114.60" cy="597.00" r="0.80" fill="#3e9e44" />
<circle cx="110.60" cy="662.40" r="2.10" fill="#f29a4a" />
<circle cx="110.60" cy="662.40" r="0.80" fill="#d87a2a" />
<circle cx="115.60" cy="659.40" r="2.10" fill="#f29a4a" />
<circle cx="115.60" cy="659.40" r="0.80" fill="#d87a2a" />
<circle cx="114.80" cy="664.60" r="2.10" fill="#f29a4a" />
<circle cx="114.80" cy="664.60" r="0.80" fill="#d87a2a" />
<text x="109.50" y="586.60" font-size="7.6" text-anchor="start" fill="#231f20">2×10<tspan dy="-2.5" font-size="4.5">6</tspan><tspan dy="2.5"> BM cells</tspan></text>
<text x="108.80" y="674.50" font-size="7.6" text-anchor="start" fill="#231f20">2×10<tspan dy="-2.5" font-size="4.5">6</tspan><tspan dy="2.5"> BM cells</tspan></text>
<line x1="121.00" y1="602.90" x2="130.00" y2="602.90" stroke="#444" stroke-width="0.9" />
<line x1="121.00" y1="650.50" x2="130.00" y2="650.50" stroke="#444" stroke-width="0.9" />
<line x1="129.80" y1="602.50" x2="129.80" y2="650.90" stroke="#444" stroke-width="0.9" />
<line x1="129.80" y1="626.60" x2="162.50" y2="626.60" stroke="#555" stroke-width="1.1" />
<path d="M167.70,626.60 L162.50,629.60 L162.50,623.60 Z" fill="#111" />
<text x="146.70" y="622.60" font-size="7.6" text-anchor="middle" fill="#231f20">1° BMT</text>
<g transform="translate(169.20,619.60) scale(1.000)">
<path d="M25.5,10.8 C31,12.8 37,10.6 41.5,12.2 C44,13.2 45,15.2 45.2,18" fill="none" stroke="#e9a58f" stroke-width="0.9" />
<path d="M8.2,10 L9.8,10 L9.4,14 L8.2,14 Z" fill="#3b3738" />
<path d="M19,10.5 L22,10.5 L21.2,14.2 L19.6,14.2 Z" fill="#3b3738" />
<ellipse cx="8.2" cy="14.6" rx="2.4" ry="0.85" fill="#e9a58f"/>
<ellipse cx="20.6" cy="14.9" rx="2.5" ry="0.85" fill="#e9a58f"/>
<ellipse cx="13.5" cy="13.4" rx="1.6" ry="0.7" fill="#e9a58f"/>
<path d="M0,0 C1.5,-1.3 4,-2.4 7,-3.0 C10,-3.6 14,-3.6 18,-2.4 C22,-1.0 25,2.2 26.2,6.2 C27,9.2 26.4,11.8 24,12.6 C20,13.3 14,13.2 10.5,12.0 C7.5,10.8 5.5,8 3.6,5 C2.4,3.2 0.9,2 0.1,1.1 C-0.2,0.6 -0.2,0.2 0,0 Z" fill="#3b3738" />
<ellipse cx="9.0" cy="-2.0" rx="1.9" ry="2.1" fill="#e9a58f" stroke="#3b3738" stroke-width="0.5"/>
<circle cx="4.00" cy="-0.20" r="0.50" fill="#c0392b" />
</g>
<g transform="translate(159.20,599.20) scale(1.000)">
<path d="M0,0 L6.6,6.6 L4.5,7.4 L10.4,16.9 L2.3,9.4 L4.5,8.7 Z" fill="#f6a82c" />
<path d="M2.2,3.2 L5.2,6.6 L4.2,7.0 Z" fill="#fcd9a0" />
</g>
<text x="181.30" y="603.60" font-size="7.6" text-anchor="middle" fill="#231f20">9.0 Gy</text>
<text x="189.00" y="645.00" font-size="7.6" text-anchor="middle" fill="#231f20">CD45.1</text>
<line x1="187.00" y1="647.00" x2="187.00" y2="660.50" stroke="#555" stroke-width="1.1" />
<path d="M187.00,665.70 L184.00,660.50 L190.00,660.50 Z" fill="#111" />
<text x="164.20" y="656.70" font-size="7.6" text-anchor="middle" fill="#231f20">4-16 weeks</text>
<text x="188.20" y="673.10" font-size="7.6" text-anchor="middle" fill="#231f20">Analysis</text>
<line x1="200.70" y1="626.60" x2="232.00" y2="626.60" stroke="#555" stroke-width="1.1" />
<path d="M237.20,626.60 L232.00,629.60 L232.00,623.60 Z" fill="#111" />
<text x="215.90" y="622.60" font-size="7.6" text-anchor="middle" fill="#231f20">2° BMT</text>
<g transform="translate(245.20,619.60) scale(1.000)">
<path d="M25.5,10.8 C31,12.8 37,10.6 41.5,12.2 C44,13.2 45,15.2 45.2,18" fill="none" stroke="#e9a58f" stroke-width="0.9" />
<path d="M8.2,10 L9.8,10 L9.4,14 L8.2,14 Z" fill="#3b3738" />
<path d="M19,10.5 L22,10.5 L21.2,14.2 L19.6,14.2 Z" fill="#3b3738" />
<ellipse cx="8.2" cy="14.6" rx="2.4" ry="0.85" fill="#e9a58f"/>
<ellipse cx="20.6" cy="14.9" rx="2.5" ry="0.85" fill="#e9a58f"/>
<ellipse cx="13.5" cy="13.4" rx="1.6" ry="0.7" fill="#e9a58f"/>
<path d="M0,0 C1.5,-1.3 4,-2.4 7,-3.0 C10,-3.6 14,-3.6 18,-2.4 C22,-1.0 25,2.2 26.2,6.2 C27,9.2 26.4,11.8 24,12.6 C20,13.3 14,13.2 10.5,12.0 C7.5,10.8 5.5,8 3.6,5 C2.4,3.2 0.9,2 0.1,1.1 C-0.2,0.6 -0.2,0.2 0,0 Z" fill="#3b3738" />
<ellipse cx="9.0" cy="-2.0" rx="1.9" ry="2.1" fill="#e9a58f" stroke="#3b3738" stroke-width="0.5"/>
<circle cx="4.00" cy="-0.20" r="0.50" fill="#c0392b" />
</g>
<g transform="translate(233.50,599.20) scale(1.000)">
<path d="M0,0 L6.6,6.6 L4.5,7.4 L10.4,16.9 L2.3,9.4 L4.5,8.7 Z" fill="#f6a82c" />
<path d="M2.2,3.2 L5.2,6.6 L4.2,7.0 Z" fill="#fcd9a0" />
</g>
<text x="255.50" y="603.60" font-size="7.6" text-anchor="middle" fill="#231f20">9.0 Gy</text>
<text x="264.40" y="645.00" font-size="7.6" text-anchor="middle" fill="#231f20">CD45.1</text>
<line x1="263.50" y1="647.00" x2="263.50" y2="660.50" stroke="#555" stroke-width="1.1" />
<path d="M263.50,665.70 L260.50,660.50 L266.50,660.50 Z" fill="#111" />
<text x="239.60" y="656.70" font-size="7.6" text-anchor="middle" fill="#231f20">4-16 weeks</text>
<text x="264.10" y="673.10" font-size="7.6" text-anchor="middle" fill="#231f20">Analysis</text>
<text x="299.50" y="571.40" font-size="14" text-anchor="start" fill="#231f20" font-weight="bold">m</text>
<circle cx="357.90" cy="569.20" r="2.60" fill="#80aad6" />
<text x="361.50" y="571.90" font-size="7.6" text-anchor="start" fill="#231f20">Veh</text>
<circle cx="381.50" cy="569.20" r="2.60" fill="#e5786c" />
<text x="385.10" y="571.90" font-size="7.6" text-anchor="start" fill="#231f20">BMP4</text>
<text x="368.80" y="582.05" font-size="8.6" text-anchor="middle" fill="#231f20">PB</text>
<line x1="334.40" y1="591.70" x2="334.40" y2="664.40" stroke="#333" stroke-width="0.9" />
<line x1="334.40" y1="664.40" x2="403.90" y2="664.40" stroke="#333" stroke-width="0.9" />
<line x1="332.00" y1="664.40" x2="334.40" y2="664.40" stroke="#333" stroke-width="0.9" />
<text x="329.80" y="667.03" font-size="7.4" text-anchor="end" fill="#231f20">1</text>
<line x1="333.10" y1="653.46" x2="334.40" y2="653.46" stroke="#333" stroke-width="0.6" />
<line x1="333.10" y1="647.06" x2="334.40" y2="647.06" stroke="#333" stroke-width="0.6" />
<line x1="333.10" y1="642.52" x2="334.40" y2="642.52" stroke="#333" stroke-width="0.6" />
<line x1="333.10" y1="638.99" x2="334.40" y2="638.99" stroke="#333" stroke-width="0.6" />
<line x1="333.10" y1="636.11" x2="334.40" y2="636.11" stroke="#333" stroke-width="0.6" />
<line x1="333.10" y1="633.68" x2="334.40" y2="633.68" stroke="#333" stroke-width="0.6" />
<line x1="333.10" y1="631.57" x2="334.40" y2="631.57" stroke="#333" stroke-width="0.6" />
<line x1="333.10" y1="629.71" x2="334.40" y2="629.71" stroke="#333" stroke-width="0.6" />
<line x1="332.00" y1="628.05" x2="334.40" y2="628.05" stroke="#333" stroke-width="0.9" />
<text x="329.80" y="630.68" font-size="7.4" text-anchor="end" fill="#231f20">10</text>
<line x1="333.10" y1="617.11" x2="334.40" y2="617.11" stroke="#333" stroke-width="0.6" />
<line x1="333.10" y1="610.71" x2="334.40" y2="610.71" stroke="#333" stroke-width="0.6" />
<line x1="333.10" y1="606.17" x2="334.40" y2="606.17" stroke="#333" stroke-width="0.6" />
<line x1="333.10" y1="602.64" x2="334.40" y2="602.64" stroke="#333" stroke-width="0.6" />
<line x1="333.10" y1="599.76" x2="334.40" y2="599.76" stroke="#333" stroke-width="0.6" />
<line x1="333.10" y1="597.33" x2="334.40" y2="597.33" stroke="#333" stroke-width="0.6" />
<line x1="333.10" y1="595.22" x2="334.40" y2="595.22" stroke="#333" stroke-width="0.6" />
<line x1="333.10" y1="593.36" x2="334.40" y2="593.36" stroke="#333" stroke-width="0.6" />
<line x1="332.00" y1="591.70" x2="334.40" y2="591.70" stroke="#333" stroke-width="0.9" />
<text x="329.80" y="594.33" font-size="7.4" text-anchor="end" fill="#231f20">100</text>
<line x1="345.20" y1="664.40" x2="345.20" y2="666.80" stroke="#333" stroke-width="0.9" />
<text x="345.20" y="676.03" font-size="7.4" text-anchor="middle" fill="#231f20">4</text>
<line x1="361.80" y1="664.40" x2="361.80" y2="666.80" stroke="#333" stroke-width="0.9" />
<text x="361.80" y="676.03" font-size="7.4" text-anchor="middle" fill="#231f20">8</text>
<line x1="378.70" y1="664.40" x2="378.70" y2="666.80" stroke="#333" stroke-width="0.9" />
<text x="378.70" y="676.03" font-size="7.4" text-anchor="middle" fill="#231f20">12</text>
<line x1="395.50" y1="664.40" x2="395.50" y2="666.80" stroke="#333" stroke-width="0.9" />
<text x="395.50" y="676.03" font-size="7.4" text-anchor="middle" fill="#231f20">16</text>
<line x1="345.20" y1="641.74" x2="345.20" y2="633.91" stroke="#444" stroke-width="0.7" />
<line x1="343.20" y1="633.91" x2="347.20" y2="633.91" stroke="#444" stroke-width="0.7" />
<line x1="343.20" y1="641.74" x2="347.20" y2="641.74" stroke="#444" stroke-width="0.7" />
<line x1="361.80" y1="661.52" x2="361.80" y2="646.54" stroke="#444" stroke-width="0.7" />
<line x1="359.80" y1="646.54" x2="363.80" y2="646.54" stroke="#444" stroke-width="0.7" />
<line x1="359.80" y1="661.52" x2="363.80" y2="661.52" stroke="#444" stroke-width="0.7" />
<line x1="378.70" y1="655.12" x2="378.70" y2="638.99" stroke="#444" stroke-width="0.7" />
<line x1="376.70" y1="638.99" x2="380.70" y2="638.99" stroke="#444" stroke-width="0.7" />
<line x1="376.70" y1="655.12" x2="380.70" y2="655.12" stroke="#444" stroke-width="0.7" />
<line x1="395.50" y1="655.12" x2="395.50" y2="638.99" stroke="#444" stroke-width="0.7" />
<line x1="393.50" y1="638.99" x2="397.50" y2="638.99" stroke="#444" stroke-width="0.7" />
<line x1="393.50" y1="655.12" x2="397.50" y2="655.12" stroke="#444" stroke-width="0.7" />
<line x1="345.20" y1="618.77" x2="345.20" y2="612.97" stroke="#444" stroke-width="0.7" />
<line x1="343.20" y1="612.97" x2="347.20" y2="612.97" stroke="#444" stroke-width="0.7" />
<line x1="343.20" y1="618.77" x2="347.20" y2="618.77" stroke="#444" stroke-width="0.7" />
<line x1="361.80" y1="624.53" x2="361.80" y2="618.34" stroke="#444" stroke-width="0.7" />
<line x1="359.80" y1="618.34" x2="363.80" y2="618.34" stroke="#444" stroke-width="0.7" />
<line x1="359.80" y1="624.53" x2="363.80" y2="624.53" stroke="#444" stroke-width="0.7" />
<line x1="378.70" y1="615.60" x2="378.70" y2="606.97" stroke="#444" stroke-width="0.7" />
<line x1="376.70" y1="606.97" x2="380.70" y2="606.97" stroke="#444" stroke-width="0.7" />
<line x1="376.70" y1="615.60" x2="380.70" y2="615.60" stroke="#444" stroke-width="0.7" />
<line x1="395.50" y1="618.77" x2="395.50" y2="609.20" stroke="#444" stroke-width="0.7" />
<line x1="393.50" y1="609.20" x2="397.50" y2="609.20" stroke="#444" stroke-width="0.7" />
<line x1="393.50" y1="618.77" x2="397.50" y2="618.77" stroke="#444" stroke-width="0.7" />
<polyline points="345.20,637.49 361.80,651.95 378.70,645.55 395.50,645.55" fill="none" stroke="#80aad6" stroke-width="1.7" stroke-linejoin="round" />
<polyline points="345.20,615.60 361.80,621.65 378.70,610.71 395.50,612.97" fill="none" stroke="#e5786c" stroke-width="1.7" stroke-linejoin="round" />
<circle cx="345.20" cy="637.49" r="2.30" fill="#80aad6" />
<circle cx="361.80" cy="651.95" r="2.30" fill="#80aad6" />
<circle cx="378.70" cy="645.55" r="2.30" fill="#80aad6" />
<circle cx="395.50" cy="645.55" r="2.30" fill="#80aad6" />
<circle cx="345.20" cy="615.60" r="2.30" fill="#e5786c" />
<circle cx="361.80" cy="621.65" r="2.30" fill="#e5786c" />
<circle cx="378.70" cy="610.71" r="2.30" fill="#e5786c" />
<circle cx="395.50" cy="612.97" r="2.30" fill="#e5786c" />
<text x="343.60" y="609.90" font-size="6.2" text-anchor="middle" fill="#231f20">0.016</text>
<text x="377.60" y="605.60" font-size="6.2" text-anchor="middle" fill="#231f20">&lt;0.001</text>
<text x="362.30" y="633.40" font-size="6.2" text-anchor="middle" fill="#231f20">0.055</text>
<text x="396.20" y="625.70" font-size="6.2" text-anchor="middle" fill="#231f20">0.002</text>
<text x="372.10" y="686.00" font-size="7.6" text-anchor="middle" fill="#231f20">Weeks after 1° BMT</text>
<text x="310.30" y="631.58" font-size="7.27" text-anchor="middle" fill="#231f20" transform="rotate(-90 310.30 629.00)">Donor chimerism (%)</text>
<text x="422.50" y="571.40" font-size="14" text-anchor="start" fill="#231f20" font-weight="bold">n</text>
<circle cx="515.20" cy="569.20" r="2.60" fill="#80aad6" />
<text x="518.80" y="571.90" font-size="7.6" text-anchor="start" fill="#231f20">Veh</text>
<circle cx="539.30" cy="569.20" r="2.60" fill="#e5786c" />
<text x="542.90" y="571.90" font-size="7.6" text-anchor="start" fill="#231f20">BMP4</text>
<text x="514.60" y="582.05" font-size="8.6" text-anchor="middle" fill="#231f20">PB</text>
<line x1="458.80" y1="591.70" x2="458.80" y2="664.40" stroke="#333" stroke-width="0.9" />
<line x1="458.80" y1="664.40" x2="565.60" y2="664.40" stroke="#333" stroke-width="0.9" />
<line x1="456.40" y1="664.40" x2="458.80" y2="664.40" stroke="#333" stroke-width="0.9" />
<text x="454.20" y="667.03" font-size="7.4" text-anchor="end" fill="#231f20">0</text>
<line x1="456.40" y1="646.23" x2="458.80" y2="646.23" stroke="#333" stroke-width="0.9" />
<text x="454.20" y="648.85" font-size="7.4" text-anchor="end" fill="#231f20">5</text>
<line x1="456.40" y1="628.05" x2="458.80" y2="628.05" stroke="#333" stroke-width="0.9" />
<text x="454.20" y="630.68" font-size="7.4" text-anchor="end" fill="#231f20">10</text>
<line x1="456.40" y1="609.88" x2="458.80" y2="609.88" stroke="#333" stroke-width="0.9" />
<text x="454.20" y="612.50" font-size="7.4" text-anchor="end" fill="#231f20">15</text>
<line x1="456.40" y1="591.70" x2="458.80" y2="591.70" stroke="#333" stroke-width="0.9" />
<text x="454.20" y="594.33" font-size="7.4" text-anchor="end" fill="#231f20">20</text>
<rect x="463.80" y="662.58" width="11.30" height="1.82" fill="#86add4" />
<line x1="469.45" y1="662.58" x2="469.45" y2="661.49" stroke="#333" stroke-width="0.8" />
<line x1="467.45" y1="661.49" x2="471.45" y2="661.49" stroke="#333" stroke-width="0.8" />
<line x1="467.45" y1="662.58" x2="471.45" y2="662.58" stroke="#333" stroke-width="0.8" />
<rect x="478.50" y="647.32" width="11.30" height="17.08" fill="#e67b70" />
<line x1="484.15" y1="647.32" x2="484.15" y2="642.59" stroke="#333" stroke-width="0.8" />
<line x1="482.15" y1="642.59" x2="486.15" y2="642.59" stroke="#333" stroke-width="0.8" />
<line x1="482.15" y1="647.32" x2="486.15" y2="647.32" stroke="#333" stroke-width="0.8" />
<rect x="499.90" y="657.49" width="11.30" height="6.91" fill="#86add4" />
<line x1="505.55" y1="657.49" x2="505.55" y2="653.13" stroke="#333" stroke-width="0.8" />
<line x1="503.55" y1="653.13" x2="507.55" y2="653.13" stroke="#333" stroke-width="0.8" />
<line x1="503.55" y1="657.49" x2="507.55" y2="657.49" stroke="#333" stroke-width="0.8" />
<rect x="514.60" y="626.96" width="11.30" height="37.44" fill="#e67b70" />
<line x1="520.25" y1="626.96" x2="520.25" y2="617.87" stroke="#333" stroke-width="0.8" />
<line x1="518.25" y1="617.87" x2="522.25" y2="617.87" stroke="#333" stroke-width="0.8" />
<line x1="518.25" y1="626.96" x2="522.25" y2="626.96" stroke="#333" stroke-width="0.8" />
<rect x="536.00" y="658.22" width="11.30" height="6.18" fill="#86add4" />
<line x1="541.65" y1="658.22" x2="541.65" y2="653.86" stroke="#333" stroke-width="0.8" />
<line x1="539.65" y1="653.86" x2="543.65" y2="653.86" stroke="#333" stroke-width="0.8" />
<line x1="539.65" y1="658.22" x2="543.65" y2="658.22" stroke="#333" stroke-width="0.8" />
<rect x="550.70" y="629.50" width="11.30" height="34.90" fill="#e67b70" />
<line x1="556.35" y1="629.50" x2="556.35" y2="620.78" stroke="#333" stroke-width="0.8" />
<line x1="554.35" y1="620.78" x2="558.35" y2="620.78" stroke="#333" stroke-width="0.8" />
<line x1="554.35" y1="629.50" x2="558.35" y2="629.50" stroke="#333" stroke-width="0.8" />
<circle cx="467.45" cy="663.31" r="1.00" fill="#7a8488" stroke="#1a1a1a" stroke-width="0.7" />
<circle cx="469.45" cy="663.31" r="1.00" fill="#7a8488" stroke="#1a1a1a" stroke-width="0.7" />
<circle cx="471.45" cy="663.31" r="1.00" fill="#7a8488" stroke="#1a1a1a" stroke-width="0.7" />
<circle cx="469.45" cy="658.95" r="1.00" fill="#7a8488" stroke="#1a1a1a" stroke-width="0.7" />
<circle cx="467.95" cy="661.49" r="1.00" fill="#7a8488" stroke="#1a1a1a" stroke-width="0.7" />
<circle cx="470.95" cy="661.49" r="1.00" fill="#7a8488" stroke="#1a1a1a" stroke-width="0.7" />
<circle cx="484.15" cy="625.51" r="1.00" fill="#7a8488" stroke="#1a1a1a" stroke-width="0.7" />
<circle cx="484.15" cy="643.32" r="1.00" fill="#7a8488" stroke="#1a1a1a" stroke-width="0.7" />
<circle cx="482.65" cy="649.86" r="1.00" fill="#7a8488" stroke="#1a1a1a" stroke-width="0.7" />
<circle cx="485.65" cy="649.86" r="1.00" fill="#7a8488" stroke="#1a1a1a" stroke-width="0.7" />
<circle cx="484.15" cy="655.31" r="1.00" fill="#7a8488" stroke="#1a1a1a" stroke-width="0.7" />
<circle cx="483.15" cy="660.76" r="1.00" fill="#7a8488" stroke="#1a1a1a" stroke-width="0.7" />
<circle cx="505.55" cy="636.41" r="1.00" fill="#7a8488" stroke="#1a1a1a" stroke-width="0.7" />
<circle cx="505.55" cy="656.04" r="1.00" fill="#7a8488" stroke="#1a1a1a" stroke-width="0.7" />
<circle cx="503.15" cy="662.95" r="1.00" fill="#7a8488" stroke="#1a1a1a" stroke-width="0.7" />
<circle cx="505.55" cy="662.95" r="1.00" fill="#7a8488" stroke="#1a1a1a" stroke-width="0.7" />
<circle cx="507.95" cy="662.95" r="1.00" fill="#7a8488" stroke="#1a1a1a" stroke-width="0.7" />
<circle cx="504.55" cy="662.95" r="1.00" fill="#7a8488" stroke="#1a1a1a" stroke-width="0.7" />
<circle cx="520.25" cy="601.88" r="1.00" fill="#7a8488" stroke="#1a1a1a" stroke-width="0.7" />
<circle cx="521.85" cy="600.79" r="1.00" fill="#7a8488" stroke="#1a1a1a" stroke-width="0.7" />
<circle cx="520.25" cy="620.78" r="1.00" fill="#7a8488" stroke="#1a1a1a" stroke-width="0.7" />
<circle cx="520.25" cy="641.50" r="1.00" fill="#7a8488" stroke="#1a1a1a" stroke-width="0.7" />
<circle cx="520.25" cy="645.13" r="1.00" fill="#7a8488" stroke="#1a1a1a" stroke-width="0.7" />
<circle cx="520.25" cy="650.22" r="1.00" fill="#7a8488" stroke="#1a1a1a" stroke-width="0.7" />
<circle cx="541.65" cy="637.14" r="1.00" fill="#7a8488" stroke="#1a1a1a" stroke-width="0.7" />
<circle cx="541.65" cy="657.13" r="1.00" fill="#7a8488" stroke="#1a1a1a" stroke-width="0.7" />
<circle cx="539.25" cy="662.95" r="1.00" fill="#7a8488" stroke="#1a1a1a" stroke-width="0.7" />
<circle cx="541.65" cy="662.95" r="1.00" fill="#7a8488" stroke="#1a1a1a" stroke-width="0.7" />
<circle cx="544.05" cy="662.95" r="1.00" fill="#7a8488" stroke="#1a1a1a" stroke-width="0.7" />
<circle cx="540.65" cy="662.95" r="1.00" fill="#7a8488" stroke="#1a1a1a" stroke-width="0.7" />
<circle cx="556.35" cy="600.42" r="1.00" fill="#7a8488" stroke="#1a1a1a" stroke-width="0.7" />
<circle cx="556.35" cy="606.97" r="1.00" fill="#7a8488" stroke="#1a1a1a" stroke-width="0.7" />
<circle cx="556.35" cy="623.69" r="1.00" fill="#7a8488" stroke="#1a1a1a" stroke-width="0.7" />
<circle cx="556.35" cy="644.77" r="1.00" fill="#7a8488" stroke="#1a1a1a" stroke-width="0.7" />
<circle cx="556.35" cy="649.13" r="1.00" fill="#7a8488" stroke="#1a1a1a" stroke-width="0.7" />
<circle cx="556.35" cy="652.77" r="1.00" fill="#7a8488" stroke="#1a1a1a" stroke-width="0.7" />
<line x1="467.70" y1="610.80" x2="483.50" y2="610.80" stroke="#555" stroke-width="0.8" />
<text x="475.60" y="608.80" font-size="6.2" text-anchor="middle" fill="#231f20">0.015</text>
<line x1="505.00" y1="594.60" x2="520.70" y2="594.60" stroke="#555" stroke-width="0.8" />
<text x="512.85" y="592.60" font-size="6.2" text-anchor="middle" fill="#231f20">0.013</text>
<line x1="540.00" y1="594.60" x2="555.80" y2="594.60" stroke="#555" stroke-width="0.8" />
<text x="547.90" y="592.60" font-size="6.2" text-anchor="middle" fill="#231f20">0.019</text>
<text x="476.50" y="676.60" font-size="7.6" text-anchor="middle" fill="#231f20">T</text>
<text x="510.90" y="676.60" font-size="7.6" text-anchor="middle" fill="#231f20">B</text>
<text x="548.10" y="676.60" font-size="7.6" text-anchor="middle" fill="#231f20">Myeloid</text>
<text x="514.20" y="686.00" font-size="7.6" text-anchor="middle" fill="#231f20">16 weeks after 1° BMT</text>
<text x="436.80" y="631.76" font-size="7.2" text-anchor="middle" fill="#231f20" transform="rotate(-90 436.80 629.20)">Donor chimerism (%)</text>
<text x="586.00" y="572.20" font-size="14" text-anchor="start" fill="#231f20" font-weight="bold">o</text>
<text x="645.20" y="580.85" font-size="8.6" text-anchor="middle" fill="#231f20">BM</text>
<line x1="619.50" y1="590.60" x2="619.50" y2="663.30" stroke="#333" stroke-width="0.9" />
<line x1="619.50" y1="663.30" x2="674.00" y2="663.30" stroke="#333" stroke-width="0.9" />
<line x1="617.10" y1="663.30" x2="619.50" y2="663.30" stroke="#333" stroke-width="0.9" />
<text x="614.90" y="665.93" font-size="7.4" text-anchor="end" fill="#231f20">0</text>
<line x1="617.10" y1="645.12" x2="619.50" y2="645.12" stroke="#333" stroke-width="0.9" />
<text x="614.90" y="647.75" font-size="7.4" text-anchor="end" fill="#231f20">20</text>
<line x1="617.10" y1="626.95" x2="619.50" y2="626.95" stroke="#333" stroke-width="0.9" />
<text x="614.90" y="629.58" font-size="7.4" text-anchor="end" fill="#231f20">40</text>
<line x1="617.10" y1="608.77" x2="619.50" y2="608.77" stroke="#333" stroke-width="0.9" />
<text x="614.90" y="611.40" font-size="7.4" text-anchor="end" fill="#231f20">60</text>
<line x1="617.10" y1="590.60" x2="619.50" y2="590.60" stroke="#333" stroke-width="0.9" />
<text x="614.90" y="593.23" font-size="7.4" text-anchor="end" fill="#231f20">80</text>
<rect x="651.20" y="622.41" width="12.80" height="40.89" fill="#e67b70" />
<line x1="657.60" y1="622.41" x2="657.60" y2="617.86" stroke="#333" stroke-width="0.8" />
<line x1="655.40" y1="617.86" x2="659.80" y2="617.86" stroke="#333" stroke-width="0.8" />
<line x1="655.40" y1="622.41" x2="659.80" y2="622.41" stroke="#333" stroke-width="0.8" />
<circle cx="629.80" cy="663.03" r="1.00" fill="#7a8488" stroke="#1a1a1a" stroke-width="0.7" />
<circle cx="631.80" cy="663.03" r="1.00" fill="#7a8488" stroke="#1a1a1a" stroke-width="0.7" />
<circle cx="633.80" cy="663.03" r="1.00" fill="#7a8488" stroke="#1a1a1a" stroke-width="0.7" />
<circle cx="635.80" cy="663.03" r="1.00" fill="#7a8488" stroke="#1a1a1a" stroke-width="0.7" />
<circle cx="637.80" cy="663.03" r="1.00" fill="#7a8488" stroke="#1a1a1a" stroke-width="0.7" />
<circle cx="639.80" cy="663.03" r="1.00" fill="#7a8488" stroke="#1a1a1a" stroke-width="0.7" />
<circle cx="657.60" cy="604.23" r="1.00" fill="#7a8488" stroke="#1a1a1a" stroke-width="0.7" />
<circle cx="657.60" cy="611.50" r="1.00" fill="#7a8488" stroke="#1a1a1a" stroke-width="0.7" />
<circle cx="657.60" cy="620.13" r="1.00" fill="#7a8488" stroke="#1a1a1a" stroke-width="0.7" />
<circle cx="655.20" cy="633.31" r="1.00" fill="#7a8488" stroke="#1a1a1a" stroke-width="0.7" />
<circle cx="657.60" cy="632.40" r="1.00" fill="#7a8488" stroke="#1a1a1a" stroke-width="0.7" />
<circle cx="660.00" cy="633.31" r="1.00" fill="#7a8488" stroke="#1a1a1a" stroke-width="0.7" />
<text x="648.10" y="599.50" font-size="6.2" text-anchor="middle" fill="#231f20">&lt;0.001</text>
<text x="634.80" y="672.30" font-size="7.6" text-anchor="middle" fill="#231f20">Veh</text>
<text x="657.60" y="672.30" font-size="7.6" text-anchor="middle" fill="#231f20">BMP4</text>
<text x="643.00" y="686.30" font-size="7.6" text-anchor="middle" fill="#231f20">16 weeks after 1° BMT</text>
<text x="597.20" y="628.03" font-size="7.4" text-anchor="middle" fill="#231f20" transform="rotate(-90 597.20 625.40)">Donor chimerism in HSCs (%)</text>
<text x="0.00" y="715.60" font-size="14" text-anchor="start" fill="#231f20" font-weight="bold">p</text>
<circle cx="67.90" cy="715.30" r="2.60" fill="#80aad6" />
<text x="71.50" y="718.00" font-size="7.6" text-anchor="start" fill="#231f20">Veh</text>
<circle cx="91.50" cy="715.30" r="2.60" fill="#e5786c" />
<text x="95.10" y="718.00" font-size="7.6" text-anchor="start" fill="#231f20">BMP4</text>
<text x="78.80" y="728.85" font-size="8.6" text-anchor="middle" fill="#231f20">PB</text>
<line x1="42.20" y1="733.90" x2="42.20" y2="805.60" stroke="#333" stroke-width="0.9" />
<line x1="42.20" y1="805.60" x2="115.00" y2="805.60" stroke="#333" stroke-width="0.9" />
<line x1="39.80" y1="805.60" x2="42.20" y2="805.60" stroke="#333" stroke-width="0.9" />
<text x="37.60" y="808.23" font-size="7.4" text-anchor="end" fill="#231f20">0.1</text>
<line x1="40.90" y1="798.41" x2="42.20" y2="798.41" stroke="#333" stroke-width="0.6" />
<line x1="40.90" y1="794.20" x2="42.20" y2="794.20" stroke="#333" stroke-width="0.6" />
<line x1="40.90" y1="791.21" x2="42.20" y2="791.21" stroke="#333" stroke-width="0.6" />
<line x1="40.90" y1="788.89" x2="42.20" y2="788.89" stroke="#333" stroke-width="0.6" />
<line x1="40.90" y1="787.00" x2="42.20" y2="787.00" stroke="#333" stroke-width="0.6" />
<line x1="40.90" y1="785.40" x2="42.20" y2="785.40" stroke="#333" stroke-width="0.6" />
<line x1="40.90" y1="784.02" x2="42.20" y2="784.02" stroke="#333" stroke-width="0.6" />
<line x1="40.90" y1="782.79" x2="42.20" y2="782.79" stroke="#333" stroke-width="0.6" />
<line x1="39.80" y1="781.70" x2="42.20" y2="781.70" stroke="#333" stroke-width="0.9" />
<text x="37.60" y="784.33" font-size="7.4" text-anchor="end" fill="#231f20">1</text>
<line x1="40.90" y1="774.51" x2="42.20" y2="774.51" stroke="#333" stroke-width="0.6" />
<line x1="40.90" y1="770.30" x2="42.20" y2="770.30" stroke="#333" stroke-width="0.6" />
<line x1="40.90" y1="767.31" x2="42.20" y2="767.31" stroke="#333" stroke-width="0.6" />
<line x1="40.90" y1="764.99" x2="42.20" y2="764.99" stroke="#333" stroke-width="0.6" />
<line x1="40.90" y1="763.10" x2="42.20" y2="763.10" stroke="#333" stroke-width="0.6" />
<line x1="40.90" y1="761.50" x2="42.20" y2="761.50" stroke="#333" stroke-width="0.6" />
<line x1="40.90" y1="760.12" x2="42.20" y2="760.12" stroke="#333" stroke-width="0.6" />
<line x1="40.90" y1="758.89" x2="42.20" y2="758.89" stroke="#333" stroke-width="0.6" />
<line x1="39.80" y1="757.80" x2="42.20" y2="757.80" stroke="#333" stroke-width="0.9" />
<text x="37.60" y="760.43" font-size="7.4" text-anchor="end" fill="#231f20">10</text>
<line x1="40.90" y1="750.61" x2="42.20" y2="750.61" stroke="#333" stroke-width="0.6" />
<line x1="40.90" y1="746.40" x2="42.20" y2="746.40" stroke="#333" stroke-width="0.6" />
<line x1="40.90" y1="743.41" x2="42.20" y2="743.41" stroke="#333" stroke-width="0.6" />
<line x1="40.90" y1="741.09" x2="42.20" y2="741.09" stroke="#333" stroke-width="0.6" />
<line x1="40.90" y1="739.20" x2="42.20" y2="739.20" stroke="#333" stroke-width="0.6" />
<line x1="40.90" y1="737.60" x2="42.20" y2="737.60" stroke="#333" stroke-width="0.6" />
<line x1="40.90" y1="736.22" x2="42.20" y2="736.22" stroke="#333" stroke-width="0.6" />
<line x1="40.90" y1="734.99" x2="42.20" y2="734.99" stroke="#333" stroke-width="0.6" />
<line x1="39.80" y1="733.90" x2="42.20" y2="733.90" stroke="#333" stroke-width="0.9" />
<text x="37.60" y="736.53" font-size="7.4" text-anchor="end" fill="#231f20">100</text>
<line x1="53.00" y1="805.60" x2="53.00" y2="808.00" stroke="#333" stroke-width="0.9" />
<text x="53.00" y="817.63" font-size="7.4" text-anchor="middle" fill="#231f20">4</text>
<line x1="69.60" y1="805.60" x2="69.60" y2="808.00" stroke="#333" stroke-width="0.9" />
<text x="69.60" y="817.63" font-size="7.4" text-anchor="middle" fill="#231f20">8</text>
<line x1="86.90" y1="805.60" x2="86.90" y2="808.00" stroke="#333" stroke-width="0.9" />
<text x="86.90" y="817.63" font-size="7.4" text-anchor="middle" fill="#231f20">12</text>
<line x1="103.60" y1="805.60" x2="103.60" y2="808.00" stroke="#333" stroke-width="0.9" />
<text x="103.60" y="817.63" font-size="7.4" text-anchor="middle" fill="#231f20">16</text>
<line x1="53.00" y1="780.71" x2="53.00" y2="776.82" stroke="#444" stroke-width="0.7" />
<line x1="51.00" y1="776.82" x2="55.00" y2="776.82" stroke="#444" stroke-width="0.7" />
<line x1="51.00" y1="780.71" x2="55.00" y2="780.71" stroke="#444" stroke-width="0.7" />
<line x1="69.60" y1="785.40" x2="69.60" y2="782.79" stroke="#444" stroke-width="0.7" />
<line x1="67.60" y1="782.79" x2="71.60" y2="782.79" stroke="#444" stroke-width="0.7" />
<line x1="67.60" y1="785.40" x2="71.60" y2="785.40" stroke="#444" stroke-width="0.7" />
<line x1="86.90" y1="787.91" x2="86.90" y2="778.59" stroke="#444" stroke-width="0.7" />
<line x1="84.90" y1="778.59" x2="88.90" y2="778.59" stroke="#444" stroke-width="0.7" />
<line x1="84.90" y1="787.91" x2="88.90" y2="787.91" stroke="#444" stroke-width="0.7" />
<line x1="103.60" y1="792.60" x2="103.60" y2="786.17" stroke="#444" stroke-width="0.7" />
<line x1="101.60" y1="786.17" x2="105.60" y2="786.17" stroke="#444" stroke-width="0.7" />
<line x1="101.60" y1="792.60" x2="105.60" y2="792.60" stroke="#444" stroke-width="0.7" />
<polyline points="53.00,778.59 69.60,784.02 86.90,782.45 103.60,788.89" fill="none" stroke="#80aad6" stroke-width="1.7" stroke-linejoin="round" />
<polyline points="53.00,752.92 69.60,754.31 86.90,754.31 103.60,751.41" fill="none" stroke="#e5786c" stroke-width="1.7" stroke-linejoin="round" />
<circle cx="53.00" cy="778.59" r="2.30" fill="#80aad6" />
<circle cx="69.60" cy="784.02" r="2.30" fill="#80aad6" />
<circle cx="86.90" cy="782.45" r="2.30" fill="#80aad6" />
<circle cx="103.60" cy="788.89" r="2.30" fill="#80aad6" />
<circle cx="53.00" cy="752.92" r="2.30" fill="#e5786c" />
<circle cx="69.60" cy="754.31" r="2.30" fill="#e5786c" />
<circle cx="86.90" cy="754.31" r="2.30" fill="#e5786c" />
<circle cx="103.60" cy="751.41" r="2.30" fill="#e5786c" />
<text x="53.60" y="761.30" font-size="6.2" text-anchor="middle" fill="#231f20">&lt;0.001</text>
<text x="69.60" y="749.30" font-size="6.2" text-anchor="middle" fill="#231f20">&lt;0.001</text>
<text x="87.60" y="763.10" font-size="6.2" text-anchor="middle" fill="#231f20">&lt;0.001</text>
<text x="102.50" y="746.00" font-size="6.2" text-anchor="middle" fill="#231f20">&lt;0.001</text>
<text x="78.80" y="829.30" font-size="7.6" text-anchor="middle" fill="#231f20">Weeks after 2° BMT</text>
<text x="16.40" y="772.37" font-size="7.23" text-anchor="middle" fill="#231f20" transform="rotate(-90 16.40 769.80)">Donor chimerism (%)</text>
<text x="128.50" y="715.20" font-size="14" text-anchor="start" fill="#231f20" font-weight="bold">q</text>
<text x="195.50" y="723.15" font-size="8.6" text-anchor="middle" fill="#231f20">BM</text>
<line x1="166.50" y1="733.50" x2="166.50" y2="806.00" stroke="#333" stroke-width="0.9" />
<line x1="166.50" y1="806.00" x2="221.40" y2="806.00" stroke="#333" stroke-width="0.9" />
<line x1="164.10" y1="806.00" x2="166.50" y2="806.00" stroke="#333" stroke-width="0.9" />
<text x="161.90" y="808.63" font-size="7.4" text-anchor="end" fill="#231f20">0</text>
<line x1="164.10" y1="791.50" x2="166.50" y2="791.50" stroke="#333" stroke-width="0.9" />
<text x="161.90" y="794.13" font-size="7.4" text-anchor="end" fill="#231f20">5</text>
<line x1="164.10" y1="777.00" x2="166.50" y2="777.00" stroke="#333" stroke-width="0.9" />
<text x="161.90" y="779.63" font-size="7.4" text-anchor="end" fill="#231f20">10</text>
<line x1="164.10" y1="762.50" x2="166.50" y2="762.50" stroke="#333" stroke-width="0.9" />
<text x="161.90" y="765.13" font-size="7.4" text-anchor="end" fill="#231f20">15</text>
<line x1="164.10" y1="748.00" x2="166.50" y2="748.00" stroke="#333" stroke-width="0.9" />
<text x="161.90" y="750.63" font-size="7.4" text-anchor="end" fill="#231f20">20</text>
<line x1="164.10" y1="733.50" x2="166.50" y2="733.50" stroke="#333" stroke-width="0.9" />
<text x="161.90" y="736.13" font-size="7.4" text-anchor="end" fill="#231f20">25</text>
<rect x="176.50" y="803.10" width="12.50" height="2.90" fill="#86add4" />
<rect x="198.80" y="751.48" width="12.10" height="54.52" fill="#e67b70" />
<line x1="182.70" y1="803.10" x2="182.70" y2="801.36" stroke="#333" stroke-width="0.8" />
<line x1="180.50" y1="801.36" x2="184.90" y2="801.36" stroke="#333" stroke-width="0.8" />
<line x1="180.50" y1="803.10" x2="184.90" y2="803.10" stroke="#333" stroke-width="0.8" />
<line x1="204.90" y1="751.48" x2="204.90" y2="744.52" stroke="#333" stroke-width="0.8" />
<line x1="202.70" y1="744.52" x2="207.10" y2="744.52" stroke="#333" stroke-width="0.8" />
<line x1="202.70" y1="751.48" x2="207.10" y2="751.48" stroke="#333" stroke-width="0.8" />
<circle cx="182.70" cy="795.27" r="1.00" fill="#7a8488" stroke="#1a1a1a" stroke-width="0.7" />
<circle cx="180.30" cy="804.84" r="1.00" fill="#7a8488" stroke="#1a1a1a" stroke-width="0.7" />
<circle cx="182.70" cy="804.84" r="1.00" fill="#7a8488" stroke="#1a1a1a" stroke-width="0.7" />
<circle cx="185.10" cy="804.84" r="1.00" fill="#7a8488" stroke="#1a1a1a" stroke-width="0.7" />
<circle cx="181.50" cy="803.10" r="1.00" fill="#7a8488" stroke="#1a1a1a" stroke-width="0.7" />
<circle cx="183.90" cy="803.10" r="1.00" fill="#7a8488" stroke="#1a1a1a" stroke-width="0.7" />
<circle cx="204.90" cy="744.52" r="1.00" fill="#7a8488" stroke="#1a1a1a" stroke-width="0.7" />
<circle cx="202.70" cy="746.26" r="1.00" fill="#7a8488" stroke="#1a1a1a" stroke-width="0.7" />
<circle cx="204.90" cy="747.13" r="1.00" fill="#7a8488" stroke="#1a1a1a" stroke-width="0.7" />
<circle cx="207.10" cy="746.26" r="1.00" fill="#7a8488" stroke="#1a1a1a" stroke-width="0.7" />
<circle cx="204.90" cy="749.16" r="1.00" fill="#7a8488" stroke="#1a1a1a" stroke-width="0.7" />
<circle cx="204.90" cy="772.07" r="1.00" fill="#7a8488" stroke="#1a1a1a" stroke-width="0.7" />
<text x="193.80" y="741.20" font-size="6.2" text-anchor="middle" fill="#231f20">&lt;0.001</text>
<text x="182.00" y="815.50" font-size="7.6" text-anchor="middle" fill="#231f20">Veh</text>
<text x="205.00" y="815.50" font-size="7.6" text-anchor="middle" fill="#231f20">BMP4</text>
<text x="192.90" y="829.30" font-size="7.6" text-anchor="middle" fill="#231f20">16 weeks after 2° BMT</text>
<text x="146.30" y="767.31" font-size="7.35" text-anchor="middle" fill="#231f20" transform="rotate(-90 146.30 764.70)">Donor chimerism in HSCs (%)</text>
<text x="243.30" y="714.60" font-size="14" text-anchor="start" fill="#231f20" font-weight="bold">r</text>
<line x1="281.00" y1="733.50" x2="281.00" y2="806.20" stroke="#333" stroke-width="0.9" />
<line x1="281.00" y1="806.20" x2="353.40" y2="806.20" stroke="#333" stroke-width="0.9" />
<line x1="278.60" y1="806.20" x2="281.00" y2="806.20" stroke="#333" stroke-width="0.9" />
<text x="276.40" y="808.83" font-size="7.4" text-anchor="end" fill="#231f20">0</text>
<line x1="278.60" y1="791.66" x2="281.00" y2="791.66" stroke="#333" stroke-width="0.9" />
<text x="276.40" y="794.29" font-size="7.4" text-anchor="end" fill="#231f20">20</text>
<line x1="278.60" y1="777.12" x2="281.00" y2="777.12" stroke="#333" stroke-width="0.9" />
<text x="276.40" y="779.75" font-size="7.4" text-anchor="end" fill="#231f20">40</text>
<line x1="278.60" y1="762.58" x2="281.00" y2="762.58" stroke="#333" stroke-width="0.9" />
<text x="276.40" y="765.21" font-size="7.4" text-anchor="end" fill="#231f20">60</text>
<line x1="278.60" y1="748.04" x2="281.00" y2="748.04" stroke="#333" stroke-width="0.9" />
<text x="276.40" y="750.67" font-size="7.4" text-anchor="end" fill="#231f20">80</text>
<line x1="278.60" y1="733.50" x2="281.00" y2="733.50" stroke="#333" stroke-width="0.9" />
<text x="276.40" y="736.13" font-size="7.4" text-anchor="end" fill="#231f20">100</text>
<line x1="281.00" y1="806.20" x2="281.00" y2="808.60" stroke="#333" stroke-width="0.9" />
<text x="281.00" y="818.23" font-size="7.4" text-anchor="middle" fill="#231f20">0</text>
<line x1="305.13" y1="806.20" x2="305.13" y2="808.60" stroke="#333" stroke-width="0.9" />
<text x="305.13" y="818.23" font-size="7.4" text-anchor="middle" fill="#231f20">10</text>
<line x1="329.27" y1="806.20" x2="329.27" y2="808.60" stroke="#333" stroke-width="0.9" />
<text x="329.27" y="818.23" font-size="7.4" text-anchor="middle" fill="#231f20">20</text>
<line x1="353.40" y1="806.20" x2="353.40" y2="808.60" stroke="#333" stroke-width="0.9" />
<text x="353.40" y="818.23" font-size="7.4" text-anchor="middle" fill="#231f20">30</text>
<line x1="293.07" y1="806.20" x2="293.07" y2="807.70" stroke="#333" stroke-width="0.7" />
<line x1="317.20" y1="806.20" x2="317.20" y2="807.70" stroke="#333" stroke-width="0.7" />
<line x1="341.33" y1="806.20" x2="341.33" y2="807.70" stroke="#333" stroke-width="0.7" />
<polyline points="281.00,733.50 302.72,733.50 302.72,748.04 307.55,748.04 307.55,762.58 348.57,762.58 348.57,762.58" fill="none" stroke="#f4a27a" stroke-width="1.3" stroke-linejoin="round" />
<polyline points="281.00,733.50 312.37,733.50 312.37,748.04 348.57,748.04 348.57,748.04" fill="none" stroke="#8ccb7c" stroke-width="1.3" stroke-linejoin="round" />
<polyline points="281.00,733.50 348.57,733.50 348.57,733.50" fill="none" stroke="#e5786c" stroke-width="1.3" stroke-linejoin="round" />
<polyline points="281.00,733.50 307.55,733.50 307.55,745.64 309.96,745.64 309.96,769.85 312.37,769.85 312.37,781.99 314.79,781.99 314.79,794.06 317.20,794.06 317.20,806.20" fill="none" stroke="#80aad6" stroke-width="1.3" stroke-linejoin="round" />
<path d="M300.62,746.57 L304.82,746.57 L302.72,749.93 Z" fill="#f4a27a" />
<path d="M305.45,761.11 L309.65,761.11 L307.55,764.47 Z" fill="#f4a27a" />
<path d="M346.47,761.11 L350.67,761.11 L348.57,764.47 Z" fill="#f4a27a" />
<rect x="310.57" y="746.24" width="3.60" height="3.60" fill="#8ccb7c" />
<rect x="346.77" y="746.24" width="3.60" height="3.60" fill="#8ccb7c" />
<circle cx="348.57" cy="733.50" r="2.00" fill="#e5786c" />
<circle cx="307.55" cy="745.64" r="2.00" fill="#80aad6" />
<circle cx="309.96" cy="769.85" r="2.00" fill="#80aad6" />
<circle cx="312.37" cy="781.99" r="2.00" fill="#80aad6" />
<circle cx="314.79" cy="794.06" r="2.00" fill="#80aad6" />
<circle cx="317.20" cy="806.20" r="2.00" fill="#80aad6" />
<text x="315.50" y="729.42" font-size="8.8" text-anchor="start" fill="#231f20">SB4 (5 mg/kg)</text>
<text x="315.50" y="743.62" font-size="8.8" text-anchor="start" fill="#231f20">SB4 (2.5 mg/kg)</text>
<text x="315.50" y="758.52" font-size="8.8" text-anchor="start" fill="#231f20">SB4 (1 mg/kg)</text>
<text x="322.10" y="803.42" font-size="8.8" text-anchor="start" fill="#231f20">Veh</text>
<text x="317.70" y="828.20" font-size="7.6" text-anchor="middle" fill="#231f20">Days after 8.0 Gy radiation</text>
<text x="258.60" y="766.61" font-size="6.5" text-anchor="middle" fill="#231f20" transform="rotate(-90 258.60 764.30)">Survival rate (%)</text>
<text x="378.50" y="715.40" font-size="14" text-anchor="start" fill="#231f20" font-weight="bold">s</text>
<line x1="415.40" y1="732.70" x2="415.40" y2="805.80" stroke="#333" stroke-width="0.9" />
<line x1="415.40" y1="805.80" x2="469.60" y2="805.80" stroke="#333" stroke-width="0.9" />
<line x1="413.00" y1="805.80" x2="415.40" y2="805.80" stroke="#333" stroke-width="0.9" />
<text x="410.80" y="808.43" font-size="7.4" text-anchor="end" fill="#231f20">0</text>
<line x1="413.00" y1="791.18" x2="415.40" y2="791.18" stroke="#333" stroke-width="0.9" />
<text x="410.80" y="793.81" font-size="7.4" text-anchor="end" fill="#231f20">3</text>
<line x1="413.00" y1="776.56" x2="415.40" y2="776.56" stroke="#333" stroke-width="0.9" />
<text x="410.80" y="779.19" font-size="7.4" text-anchor="end" fill="#231f20">6</text>
<line x1="413.00" y1="761.94" x2="415.40" y2="761.94" stroke="#333" stroke-width="0.9" />
<text x="410.80" y="764.57" font-size="7.4" text-anchor="end" fill="#231f20">9</text>
<line x1="413.00" y1="747.32" x2="415.40" y2="747.32" stroke="#333" stroke-width="0.9" />
<text x="410.80" y="749.95" font-size="7.4" text-anchor="end" fill="#231f20">12</text>
<line x1="413.00" y1="732.70" x2="415.40" y2="732.70" stroke="#333" stroke-width="0.9" />
<text x="410.80" y="735.33" font-size="7.4" text-anchor="end" fill="#231f20">15</text>
<line x1="415.40" y1="805.80" x2="415.40" y2="808.20" stroke="#333" stroke-width="0.9" />
<text x="415.40" y="818.23" font-size="7.4" text-anchor="middle" fill="#231f20">0</text>
<line x1="428.95" y1="805.80" x2="428.95" y2="808.20" stroke="#333" stroke-width="0.9" />
<text x="428.95" y="818.23" font-size="7.4" text-anchor="middle" fill="#231f20">7</text>
<line x1="442.50" y1="805.80" x2="442.50" y2="808.20" stroke="#333" stroke-width="0.9" />
<text x="442.50" y="818.23" font-size="7.4" text-anchor="middle" fill="#231f20">14</text>
<line x1="456.05" y1="805.80" x2="456.05" y2="808.20" stroke="#333" stroke-width="0.9" />
<text x="456.05" y="818.23" font-size="7.4" text-anchor="middle" fill="#231f20">21</text>
<line x1="469.60" y1="805.80" x2="469.60" y2="808.20" stroke="#333" stroke-width="0.9" />
<text x="469.60" y="818.23" font-size="7.4" text-anchor="middle" fill="#231f20">28</text>
<line x1="469.60" y1="776.56" x2="469.60" y2="768.76" stroke="#333" stroke-width="0.7" />
<line x1="467.80" y1="768.76" x2="471.40" y2="768.76" stroke="#333" stroke-width="0.7" />
<line x1="467.80" y1="776.56" x2="471.40" y2="776.56" stroke="#333" stroke-width="0.7" />
<line x1="428.95" y1="784.36" x2="428.95" y2="780.46" stroke="#333" stroke-width="0.7" />
<line x1="427.15" y1="780.46" x2="430.75" y2="780.46" stroke="#333" stroke-width="0.7" />
<line x1="427.15" y1="784.36" x2="430.75" y2="784.36" stroke="#333" stroke-width="0.7" />
<line x1="442.50" y1="777.05" x2="442.50" y2="771.69" stroke="#333" stroke-width="0.7" />
<line x1="440.70" y1="771.69" x2="444.30" y2="771.69" stroke="#333" stroke-width="0.7" />
<line x1="440.70" y1="777.05" x2="444.30" y2="777.05" stroke="#333" stroke-width="0.7" />
<line x1="456.05" y1="773.64" x2="456.05" y2="768.76" stroke="#333" stroke-width="0.7" />
<line x1="454.25" y1="768.76" x2="457.85" y2="768.76" stroke="#333" stroke-width="0.7" />
<line x1="454.25" y1="773.64" x2="457.85" y2="773.64" stroke="#333" stroke-width="0.7" />
<line x1="469.60" y1="755.60" x2="469.60" y2="745.37" stroke="#333" stroke-width="0.7" />
<line x1="467.80" y1="745.37" x2="471.40" y2="745.37" stroke="#333" stroke-width="0.7" />
<line x1="467.80" y1="755.60" x2="471.40" y2="755.60" stroke="#333" stroke-width="0.7" />
<polyline points="415.40,780.46 428.95,782.41 434.76,789.23 442.50,774.61 456.05,771.20 469.60,750.73" fill="none" stroke="#e5786c" stroke-width="1.6" stroke-linejoin="round" />
<polyline points="415.40,780.46 428.95,797.03 434.76,800.44 442.50,792.15 456.05,784.36 469.60,773.15" fill="none" stroke="#80aad6" stroke-width="1.6" stroke-linejoin="round" />
<circle cx="415.40" cy="780.46" r="2.20" fill="#e5786c" />
<circle cx="428.95" cy="782.41" r="2.20" fill="#e5786c" />
<circle cx="434.76" cy="789.23" r="2.20" fill="#e5786c" />
<circle cx="442.50" cy="774.61" r="2.20" fill="#e5786c" />
<circle cx="456.05" cy="771.20" r="2.20" fill="#e5786c" />
<circle cx="469.60" cy="750.73" r="2.20" fill="#e5786c" />
<circle cx="415.40" cy="780.46" r="2.20" fill="#80aad6" />
<circle cx="428.95" cy="797.03" r="2.20" fill="#80aad6" />
<circle cx="434.76" cy="800.44" r="2.20" fill="#80aad6" />
<circle cx="442.50" cy="792.15" r="2.20" fill="#80aad6" />
<circle cx="456.05" cy="784.36" r="2.20" fill="#80aad6" />
<circle cx="469.60" cy="773.15" r="2.20" fill="#80aad6" />
<text x="444.60" y="723.06" font-size="8.9" text-anchor="middle" fill="#231f20">WBC</text>
<text x="395.70" y="770.66" font-size="7.2" text-anchor="middle" fill="#231f20" transform="rotate(-90 395.70 768.10)">Cell number (x10<tspan dy="-2.5" font-size="4.5">9</tspan><tspan dy="2.5">/L)</tspan></text>
<text x="428.30" y="778.10" font-size="6.2" text-anchor="middle" fill="#231f20">&lt;0.001</text>
<text x="435.30" y="796.80" font-size="6.2" text-anchor="middle" fill="#231f20">&lt;0.001</text>
<text x="442.80" y="770.40" font-size="6.2" text-anchor="middle" fill="#231f20">&lt;0.001</text>
<text x="455.60" y="764.80" font-size="6.2" text-anchor="middle" fill="#231f20">0.001</text>
<text x="469.20" y="744.30" font-size="6.2" text-anchor="middle" fill="#231f20">0.014</text>
<line x1="516.40" y1="732.70" x2="516.40" y2="805.40" stroke="#333" stroke-width="0.9" />
<line x1="516.40" y1="805.40" x2="571.40" y2="805.40" stroke="#333" stroke-width="0.9" />
<line x1="514.00" y1="805.40" x2="516.40" y2="805.40" stroke="#333" stroke-width="0.9" />
<text x="511.80" y="808.03" font-size="7.4" text-anchor="end" fill="#231f20">0.0</text>
<line x1="514.00" y1="790.86" x2="516.40" y2="790.86" stroke="#333" stroke-width="0.9" />
<text x="511.80" y="793.49" font-size="7.4" text-anchor="end" fill="#231f20">0.2</text>
<line x1="514.00" y1="776.32" x2="516.40" y2="776.32" stroke="#333" stroke-width="0.9" />
<text x="511.80" y="778.95" font-size="7.4" text-anchor="end" fill="#231f20">0.4</text>
<line x1="514.00" y1="761.78" x2="516.40" y2="761.78" stroke="#333" stroke-width="0.9" />
<text x="511.80" y="764.41" font-size="7.4" text-anchor="end" fill="#231f20">0.6</text>
<line x1="514.00" y1="747.24" x2="516.40" y2="747.24" stroke="#333" stroke-width="0.9" />
<text x="511.80" y="749.87" font-size="7.4" text-anchor="end" fill="#231f20">0.8</text>
<line x1="514.00" y1="732.70" x2="516.40" y2="732.70" stroke="#333" stroke-width="0.9" />
<text x="511.80" y="735.33" font-size="7.4" text-anchor="end" fill="#231f20">1.0</text>
<line x1="516.40" y1="805.40" x2="516.40" y2="807.80" stroke="#333" stroke-width="0.9" />
<text x="516.40" y="818.23" font-size="7.4" text-anchor="middle" fill="#231f20">0</text>
<line x1="530.15" y1="805.40" x2="530.15" y2="807.80" stroke="#333" stroke-width="0.9" />
<text x="530.15" y="818.23" font-size="7.4" text-anchor="middle" fill="#231f20">7</text>
<line x1="543.90" y1="805.40" x2="543.90" y2="807.80" stroke="#333" stroke-width="0.9" />
<text x="543.90" y="818.23" font-size="7.4" text-anchor="middle" fill="#231f20">14</text>
<line x1="557.65" y1="805.40" x2="557.65" y2="807.80" stroke="#333" stroke-width="0.9" />
<text x="557.65" y="818.23" font-size="7.4" text-anchor="middle" fill="#231f20">21</text>
<line x1="571.40" y1="805.40" x2="571.40" y2="807.80" stroke="#333" stroke-width="0.9" />
<text x="571.40" y="818.23" font-size="7.4" text-anchor="middle" fill="#231f20">28</text>
<line x1="536.04" y1="793.77" x2="536.04" y2="787.95" stroke="#333" stroke-width="0.7" />
<line x1="534.24" y1="787.95" x2="537.84" y2="787.95" stroke="#333" stroke-width="0.7" />
<line x1="534.24" y1="793.77" x2="537.84" y2="793.77" stroke="#333" stroke-width="0.7" />
<line x1="543.90" y1="779.23" x2="543.90" y2="773.41" stroke="#333" stroke-width="0.7" />
<line x1="542.10" y1="773.41" x2="545.70" y2="773.41" stroke="#333" stroke-width="0.7" />
<line x1="542.10" y1="779.23" x2="545.70" y2="779.23" stroke="#333" stroke-width="0.7" />
<line x1="557.65" y1="766.14" x2="557.65" y2="760.33" stroke="#333" stroke-width="0.7" />
<line x1="555.85" y1="760.33" x2="559.45" y2="760.33" stroke="#333" stroke-width="0.7" />
<line x1="555.85" y1="766.14" x2="559.45" y2="766.14" stroke="#333" stroke-width="0.7" />
<line x1="571.40" y1="764.69" x2="571.40" y2="760.33" stroke="#333" stroke-width="0.7" />
<line x1="569.60" y1="760.33" x2="573.20" y2="760.33" stroke="#333" stroke-width="0.7" />
<line x1="569.60" y1="764.69" x2="573.20" y2="764.69" stroke="#333" stroke-width="0.7" />
<line x1="543.90" y1="759.60" x2="543.90" y2="753.78" stroke="#333" stroke-width="0.7" />
<line x1="542.10" y1="753.78" x2="545.70" y2="753.78" stroke="#333" stroke-width="0.7" />
<line x1="542.10" y1="759.60" x2="545.70" y2="759.60" stroke="#333" stroke-width="0.7" />
<line x1="571.40" y1="748.69" x2="571.40" y2="742.88" stroke="#333" stroke-width="0.7" />
<line x1="569.60" y1="742.88" x2="573.20" y2="742.88" stroke="#333" stroke-width="0.7" />
<line x1="569.60" y1="748.69" x2="573.20" y2="748.69" stroke="#333" stroke-width="0.7" />
<polyline points="516.40,764.69 530.15,773.41 536.04,779.96 543.90,756.69 557.65,752.33 571.40,745.79" fill="none" stroke="#e5786c" stroke-width="1.6" stroke-linejoin="round" />
<polyline points="516.40,762.51 530.15,780.68 536.04,790.86 543.90,776.32 557.65,763.23 571.40,762.51" fill="none" stroke="#80aad6" stroke-width="1.6" stroke-linejoin="round" />
<circle cx="516.40" cy="764.69" r="2.20" fill="#e5786c" />
<circle cx="530.15" cy="773.41" r="2.20" fill="#e5786c" />
<circle cx="536.04" cy="779.96" r="2.20" fill="#e5786c" />
<circle cx="543.90" cy="756.69" r="2.20" fill="#e5786c" />
<circle cx="557.65" cy="752.33" r="2.20" fill="#e5786c" />
<circle cx="571.40" cy="745.79" r="2.20" fill="#e5786c" />
<circle cx="516.40" cy="762.51" r="2.20" fill="#80aad6" />
<circle cx="530.15" cy="780.68" r="2.20" fill="#80aad6" />
<circle cx="536.04" cy="790.86" r="2.20" fill="#80aad6" />
<circle cx="543.90" cy="776.32" r="2.20" fill="#80aad6" />
<circle cx="557.65" cy="763.23" r="2.20" fill="#80aad6" />
<circle cx="571.40" cy="762.51" r="2.20" fill="#80aad6" />
<text x="546.20" y="722.76" font-size="8.9" text-anchor="middle" fill="#231f20">PLT</text>
<text x="493.10" y="772.46" font-size="7.5" text-anchor="middle" fill="#231f20" transform="rotate(-90 493.10 769.80)">Cell number (x10<tspan dy="-2.5" font-size="4.5">12</tspan><tspan dy="2.5">/L)</tspan></text>
<text x="526.90" y="788.50" font-size="6.2" text-anchor="middle" fill="#231f20">0.006</text>
<text x="536.90" y="773.10" font-size="6.2" text-anchor="middle" fill="#231f20">0.015</text>
<text x="543.40" y="753.50" font-size="6.2" text-anchor="middle" fill="#231f20">&lt;0.001</text>
<text x="557.10" y="748.10" font-size="6.2" text-anchor="middle" fill="#231f20">0.016</text>
<text x="572.50" y="741.10" font-size="6.2" text-anchor="middle" fill="#231f20">0.003</text>
<text x="546.20" y="827.90" font-size="7.6" text-anchor="middle" fill="#231f20">Days after 6.5 Gy radiation</text>
<line x1="616.40" y1="732.60" x2="616.40" y2="805.70" stroke="#333" stroke-width="0.9" />
<line x1="616.40" y1="805.70" x2="671.40" y2="805.70" stroke="#333" stroke-width="0.9" />
<line x1="614.00" y1="805.70" x2="616.40" y2="805.70" stroke="#333" stroke-width="0.9" />
<text x="611.80" y="808.33" font-size="7.4" text-anchor="end" fill="#231f20">0</text>
<line x1="614.00" y1="791.08" x2="616.40" y2="791.08" stroke="#333" stroke-width="0.9" />
<text x="611.80" y="793.71" font-size="7.4" text-anchor="end" fill="#231f20">3</text>
<line x1="614.00" y1="776.46" x2="616.40" y2="776.46" stroke="#333" stroke-width="0.9" />
<text x="611.80" y="779.09" font-size="7.4" text-anchor="end" fill="#231f20">6</text>
<line x1="614.00" y1="761.84" x2="616.40" y2="761.84" stroke="#333" stroke-width="0.9" />
<text x="611.80" y="764.47" font-size="7.4" text-anchor="end" fill="#231f20">9</text>
<line x1="614.00" y1="747.22" x2="616.40" y2="747.22" stroke="#333" stroke-width="0.9" />
<text x="611.80" y="749.85" font-size="7.4" text-anchor="end" fill="#231f20">12</text>
<line x1="614.00" y1="732.60" x2="616.40" y2="732.60" stroke="#333" stroke-width="0.9" />
<text x="611.80" y="735.23" font-size="7.4" text-anchor="end" fill="#231f20">15</text>
<line x1="616.40" y1="805.70" x2="616.40" y2="808.10" stroke="#333" stroke-width="0.9" />
<text x="616.40" y="818.23" font-size="7.4" text-anchor="middle" fill="#231f20">0</text>
<line x1="630.15" y1="805.70" x2="630.15" y2="808.10" stroke="#333" stroke-width="0.9" />
<text x="630.15" y="818.23" font-size="7.4" text-anchor="middle" fill="#231f20">7</text>
<line x1="643.90" y1="805.70" x2="643.90" y2="808.10" stroke="#333" stroke-width="0.9" />
<text x="643.90" y="818.23" font-size="7.4" text-anchor="middle" fill="#231f20">14</text>
<line x1="657.65" y1="805.70" x2="657.65" y2="808.10" stroke="#333" stroke-width="0.9" />
<text x="657.65" y="818.23" font-size="7.4" text-anchor="middle" fill="#231f20">21</text>
<line x1="671.40" y1="805.70" x2="671.40" y2="808.10" stroke="#333" stroke-width="0.9" />
<text x="671.40" y="818.23" font-size="7.4" text-anchor="middle" fill="#231f20">28</text>
<line x1="616.40" y1="762.81" x2="616.40" y2="757.94" stroke="#333" stroke-width="0.7" />
<line x1="614.60" y1="757.94" x2="618.20" y2="757.94" stroke="#333" stroke-width="0.7" />
<line x1="614.60" y1="762.81" x2="618.20" y2="762.81" stroke="#333" stroke-width="0.7" />
<line x1="643.90" y1="786.21" x2="643.90" y2="782.31" stroke="#333" stroke-width="0.7" />
<line x1="642.10" y1="782.31" x2="645.70" y2="782.31" stroke="#333" stroke-width="0.7" />
<line x1="642.10" y1="786.21" x2="645.70" y2="786.21" stroke="#333" stroke-width="0.7" />
<line x1="616.40" y1="761.84" x2="616.40" y2="755.99" stroke="#333" stroke-width="0.7" />
<line x1="614.60" y1="755.99" x2="618.20" y2="755.99" stroke="#333" stroke-width="0.7" />
<line x1="614.60" y1="761.84" x2="618.20" y2="761.84" stroke="#333" stroke-width="0.7" />
<line x1="630.15" y1="775.49" x2="630.15" y2="770.61" stroke="#333" stroke-width="0.7" />
<line x1="628.35" y1="770.61" x2="631.95" y2="770.61" stroke="#333" stroke-width="0.7" />
<line x1="628.35" y1="775.49" x2="631.95" y2="775.49" stroke="#333" stroke-width="0.7" />
<line x1="636.04" y1="783.28" x2="636.04" y2="778.41" stroke="#333" stroke-width="0.7" />
<line x1="634.24" y1="778.41" x2="637.84" y2="778.41" stroke="#333" stroke-width="0.7" />
<line x1="634.24" y1="783.28" x2="637.84" y2="783.28" stroke="#333" stroke-width="0.7" />
<line x1="643.90" y1="767.69" x2="643.90" y2="762.81" stroke="#333" stroke-width="0.7" />
<line x1="642.10" y1="762.81" x2="645.70" y2="762.81" stroke="#333" stroke-width="0.7" />
<line x1="642.10" y1="767.69" x2="645.70" y2="767.69" stroke="#333" stroke-width="0.7" />
<line x1="657.65" y1="768.18" x2="657.65" y2="763.30" stroke="#333" stroke-width="0.7" />
<line x1="655.85" y1="763.30" x2="659.45" y2="763.30" stroke="#333" stroke-width="0.7" />
<line x1="655.85" y1="768.18" x2="659.45" y2="768.18" stroke="#333" stroke-width="0.7" />
<polyline points="616.40,758.92 630.15,773.05 636.04,780.85 643.90,765.25 657.65,765.74 671.40,764.28" fill="none" stroke="#e5786c" stroke-width="1.6" stroke-linejoin="round" />
<polyline points="616.40,760.38 630.15,786.69 636.04,791.57 643.90,784.26 657.65,773.54 671.40,771.59" fill="none" stroke="#80aad6" stroke-width="1.6" stroke-linejoin="round" />
<circle cx="616.40" cy="758.92" r="2.20" fill="#e5786c" />
<circle cx="630.15" cy="773.05" r="2.20" fill="#e5786c" />
<circle cx="636.04" cy="780.85" r="2.20" fill="#e5786c" />
<circle cx="643.90" cy="765.25" r="2.20" fill="#e5786c" />
<circle cx="657.65" cy="765.74" r="2.20" fill="#e5786c" />
<circle cx="671.40" cy="764.28" r="2.20" fill="#e5786c" />
<circle cx="616.40" cy="760.38" r="2.20" fill="#80aad6" />
<circle cx="630.15" cy="786.69" r="2.20" fill="#80aad6" />
<circle cx="636.04" cy="791.57" r="2.20" fill="#80aad6" />
<circle cx="643.90" cy="784.26" r="2.20" fill="#80aad6" />
<circle cx="657.65" cy="773.54" r="2.20" fill="#80aad6" />
<circle cx="671.40" cy="771.59" r="2.20" fill="#80aad6" />
<text x="643.70" y="723.26" font-size="8.9" text-anchor="middle" fill="#231f20">RBC</text>
<text x="596.50" y="772.46" font-size="7.5" text-anchor="middle" fill="#231f20" transform="rotate(-90 596.50 769.80)">Cell number (x10<tspan dy="-2.5" font-size="4.5">12</tspan><tspan dy="2.5">/L)</tspan></text>
<text x="629.60" y="769.60" font-size="6.2" text-anchor="middle" fill="#231f20">&lt;0.001</text>
<text x="636.00" y="788.90" font-size="6.2" text-anchor="middle" fill="#231f20">0.002</text>
<text x="643.30" y="761.30" font-size="6.2" text-anchor="middle" fill="#231f20">&lt;0.001</text>
<text x="658.20" y="755.70" font-size="6.2" text-anchor="middle" fill="#231f20">0.020</text>
<text x="670.60" y="762.40" font-size="6.2" text-anchor="middle" fill="#231f20">0.015</text>
<circle cx="649.70" cy="729.20" r="2.60" fill="#80aad6" />
<text x="655.30" y="731.90" font-size="7.6" text-anchor="start" fill="#231f20">Veh</text>
<circle cx="649.70" cy="739.30" r="2.60" fill="#e5786c" />
<text x="655.30" y="742.00" font-size="7.6" text-anchor="start" fill="#231f20">SB4</text>
</svg>
</body></html>
